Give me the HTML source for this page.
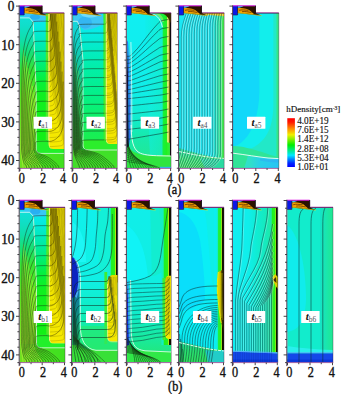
<!DOCTYPE html>
<html><head><meta charset="utf-8"><style>
html,body{margin:0;padding:0;background:#fff;width:342px;height:394px;overflow:hidden}
svg{display:block}
text{font-family:"Liberation Serif",serif}
.tk{font-size:13.6px;fill:#111;stroke:#111;stroke-width:0.35}
.cb{font-size:10.3px;fill:#111;stroke:#111;stroke-width:0.15}
.ct{font-size:9px;fill:#111;stroke:#111;stroke-width:0.15}
.lt{font-size:11px;font-weight:bold;font-style:italic;fill:#111}
.ls{font-size:7.4px;fill:#505058}
</style></head><body>
<svg width="342" height="394" viewBox="0 0 342 394">
<defs><clipPath id="ca1"><path d="M19.6,5.7 H42.1 V13 H64.2 V168.1 H19.6 Z"/></clipPath><linearGradient id="g1a1L" x1="0" y1="13.0" x2="0" y2="150.0" gradientUnits="userSpaceOnUse"><stop offset="0" stop-color="#12e0dc"/><stop offset="0.1" stop-color="#10dec8"/><stop offset="0.2" stop-color="#10dea8"/><stop offset="0.3" stop-color="#18e070"/><stop offset="0.42" stop-color="#38e432"/><stop offset="0.6" stop-color="#58e420"/><stop offset="0.8" stop-color="#68e420"/><stop offset="1" stop-color="#70e020"/></linearGradient><linearGradient id="g1a1M" x1="0" y1="13.0" x2="0" y2="150.0" gradientUnits="userSpaceOnUse"><stop offset="0" stop-color="#10eaf6"/><stop offset="0.1" stop-color="#06eae2"/><stop offset="0.22" stop-color="#00eab8"/><stop offset="0.35" stop-color="#00ee80"/><stop offset="0.48" stop-color="#04f040"/><stop offset="0.6" stop-color="#10f020"/><stop offset="1" stop-color="#14f014"/></linearGradient><linearGradient id="g1a1Y" x1="0" y1="13.0" x2="0" y2="150.0" gradientUnits="userSpaceOnUse"><stop offset="0" stop-color="#e4d400"/><stop offset="0.3" stop-color="#e8dc00"/><stop offset="0.6" stop-color="#f0e400"/><stop offset="1" stop-color="#f6ea00"/></linearGradient><linearGradient id="g1a1B" x1="19.6" y1="0" x2="64.0" y2="0" gradientUnits="userSpaceOnUse"><stop offset="0" stop-color="#70e020"/><stop offset="0.5" stop-color="#48e020"/><stop offset="1" stop-color="#40e020"/></linearGradient><clipPath id="ca2"><path d="M72.5,5.7 H95 V13 H117.3 V168.1 H72.5 Z"/></clipPath><linearGradient id="a2L" x1="0" y1="13" x2="0" y2="150" gradientUnits="userSpaceOnUse"><stop offset="0" stop-color="#18d8e4"/><stop offset="0.2" stop-color="#10d0c8"/><stop offset="0.4" stop-color="#10c8a0"/><stop offset="0.6" stop-color="#18c470"/><stop offset="0.8" stop-color="#20c050"/><stop offset="1" stop-color="#30c840"/></linearGradient><linearGradient id="a2M" x1="0" y1="13" x2="0" y2="150" gradientUnits="userSpaceOnUse"><stop offset="0" stop-color="#18e4f0"/><stop offset="0.12" stop-color="#08eae8"/><stop offset="0.25" stop-color="#04ecc8"/><stop offset="0.4" stop-color="#02eea8"/><stop offset="0.6" stop-color="#04f088"/><stop offset="0.8" stop-color="#10f060"/><stop offset="1" stop-color="#20ee48"/></linearGradient><linearGradient id="a2Y" x1="0" y1="13" x2="0" y2="145" gradientUnits="userSpaceOnUse"><stop offset="0" stop-color="#d0c000"/><stop offset="0.25" stop-color="#dcd000"/><stop offset="0.55" stop-color="#ece000"/><stop offset="1" stop-color="#f4e800"/></linearGradient><clipPath id="ca3"><path d="M126.7,5.7 H149.2 V13 H171.1 V168.1 H126.7 Z"/></clipPath><linearGradient id="a3V" x1="0" y1="13" x2="0" y2="156" gradientUnits="userSpaceOnUse"><stop offset="0" stop-color="#10eef2"/><stop offset="0.55" stop-color="#10eee8"/><stop offset="0.72" stop-color="#12ecd0"/><stop offset="0.85" stop-color="#16eab0"/><stop offset="1" stop-color="#20e898"/></linearGradient><linearGradient id="a3H" x1="145" y1="0" x2="163" y2="0" gradientUnits="userSpaceOnUse"><stop offset="0" stop-color="#10eee8"/><stop offset="1" stop-color="#14ecc0"/></linearGradient><linearGradient id="a3R" x1="162.7" y1="0" x2="171.1" y2="0" gradientUnits="userSpaceOnUse"><stop offset="0" stop-color="#18f040"/><stop offset="0.45" stop-color="#20f020"/><stop offset="0.52" stop-color="#c0f040"/><stop offset="0.62" stop-color="#f0f0a0"/><stop offset="0.75" stop-color="#c8b830"/><stop offset="0.84" stop-color="#403400"/><stop offset="0.88" stop-color="#080808"/><stop offset="1" stop-color="#080808"/></linearGradient><linearGradient id="a3R2" x1="162.7" y1="0" x2="171.1" y2="0" gradientUnits="userSpaceOnUse"><stop offset="0" stop-color="#18f040"/><stop offset="0.5" stop-color="#20f020"/><stop offset="0.62" stop-color="#30f030"/><stop offset="0.88" stop-color="#30e040"/><stop offset="0.9" stop-color="#080808"/><stop offset="1" stop-color="#080808"/></linearGradient><clipPath id="ca4"><path d="M179,5.7 H201.5 V13 H224.2 V168.1 H179 Z"/></clipPath><linearGradient id="a4R" x1="211" y1="0" x2="224.2" y2="0" gradientUnits="userSpaceOnUse"><stop offset="0" stop-color="#1ae8f6"/><stop offset="0.45" stop-color="#20e8c0"/><stop offset="0.75" stop-color="#30ea80"/><stop offset="0.9" stop-color="#40e850"/><stop offset="1" stop-color="#50e040"/></linearGradient><linearGradient id="a4B" x1="0" y1="150" x2="0" y2="168" gradientUnits="userSpaceOnUse"><stop offset="0" stop-color="#20dca0"/><stop offset="0.5" stop-color="#30e070"/><stop offset="1" stop-color="#38e058"/></linearGradient><clipPath id="ca5"><path d="M233,5.7 H255.5 V13 H278.8 V168.1 H233 Z"/></clipPath><linearGradient id="a5R" x1="275.5" y1="0" x2="278.8" y2="0" gradientUnits="userSpaceOnUse"><stop offset="0" stop-color="#22e8c8"/><stop offset="0.5" stop-color="#30e890"/><stop offset="1" stop-color="#40e060"/></linearGradient><linearGradient id="a5BR" x1="250" y1="0" x2="278.8" y2="0" gradientUnits="userSpaceOnUse"><stop offset="0" stop-color="#30e0c8"/><stop offset="0.35" stop-color="#28d0e8"/><stop offset="1" stop-color="#28c4f4"/></linearGradient><clipPath id="cb1"><path d="M19.6,200.1 H42.1 V207.4 H65 V362.3 H19.6 Z"/></clipPath><linearGradient id="g1b1L" x1="0" y1="207.4" x2="0" y2="344.4" gradientUnits="userSpaceOnUse"><stop offset="0" stop-color="#12e0dc"/><stop offset="0.1" stop-color="#10dec8"/><stop offset="0.2" stop-color="#10dea8"/><stop offset="0.3" stop-color="#18e070"/><stop offset="0.42" stop-color="#38e432"/><stop offset="0.6" stop-color="#58e420"/><stop offset="0.8" stop-color="#68e420"/><stop offset="1" stop-color="#70e020"/></linearGradient><linearGradient id="g1b1M" x1="0" y1="207.4" x2="0" y2="344.4" gradientUnits="userSpaceOnUse"><stop offset="0" stop-color="#10eaf6"/><stop offset="0.1" stop-color="#06eae2"/><stop offset="0.22" stop-color="#00eab8"/><stop offset="0.35" stop-color="#00ee80"/><stop offset="0.48" stop-color="#04f040"/><stop offset="0.6" stop-color="#10f020"/><stop offset="1" stop-color="#14f014"/></linearGradient><linearGradient id="g1b1Y" x1="0" y1="207.4" x2="0" y2="344.4" gradientUnits="userSpaceOnUse"><stop offset="0" stop-color="#e4d400"/><stop offset="0.3" stop-color="#e8dc00"/><stop offset="0.6" stop-color="#f0e400"/><stop offset="1" stop-color="#f6ea00"/></linearGradient><linearGradient id="g1b1B" x1="19.6" y1="0" x2="64.79641255605381" y2="0" gradientUnits="userSpaceOnUse"><stop offset="0" stop-color="#70e020"/><stop offset="0.5" stop-color="#48e020"/><stop offset="1" stop-color="#40e020"/></linearGradient><clipPath id="cb2"><path d="M72,200.1 H94.5 V207.4 H117.8 V362.3 H72 Z"/></clipPath><linearGradient id="b2V" x1="0" y1="207" x2="0" y2="350" gradientUnits="userSpaceOnUse"><stop offset="0" stop-color="#10f0ec"/><stop offset="0.5" stop-color="#10f0e4"/><stop offset="0.65" stop-color="#10eed0"/><stop offset="0.8" stop-color="#10ecb0"/><stop offset="0.9" stop-color="#18ec90"/><stop offset="1" stop-color="#20ea70"/></linearGradient><linearGradient id="b2R" x1="110" y1="0" x2="117.8" y2="0" gradientUnits="userSpaceOnUse"><stop offset="0" stop-color="#16f0d0"/><stop offset="0.12" stop-color="#20f080"/><stop offset="0.2" stop-color="#20f020"/><stop offset="0.58" stop-color="#28f020"/><stop offset="0.72" stop-color="#c0e810"/><stop offset="0.78" stop-color="#101000"/><stop offset="1" stop-color="#100c00"/></linearGradient><linearGradient id="b2Y" x1="0" y1="275" x2="0" y2="342" gradientUnits="userSpaceOnUse"><stop offset="0" stop-color="#e4d800"/><stop offset="1" stop-color="#f4e800"/></linearGradient><linearGradient id="b2L" x1="0" y1="258" x2="0" y2="348" gradientUnits="userSpaceOnUse"><stop offset="0" stop-color="#1040c8"/><stop offset="0.3" stop-color="#1060b8"/><stop offset="0.45" stop-color="#10809a"/><stop offset="0.7" stop-color="#109078"/><stop offset="1" stop-color="#20a850"/></linearGradient><clipPath id="cb3"><path d="M126.8,200.1 H149.3 V207.4 H171.3 V362.3 H126.8 Z"/></clipPath><linearGradient id="b3V" x1="0" y1="207" x2="0" y2="352" gradientUnits="userSpaceOnUse"><stop offset="0" stop-color="#10eeea"/><stop offset="0.55" stop-color="#10eee0"/><stop offset="0.75" stop-color="#10ecc8"/><stop offset="0.9" stop-color="#18eaa0"/><stop offset="1" stop-color="#20e880"/></linearGradient><linearGradient id="b3R" x1="161.5" y1="0" x2="171.3" y2="0" gradientUnits="userSpaceOnUse"><stop offset="0" stop-color="#14ecc8"/><stop offset="0.19" stop-color="#14eec0"/><stop offset="0.24" stop-color="#20f020"/><stop offset="0.62" stop-color="#28f020"/><stop offset="0.73" stop-color="#c0e810"/><stop offset="0.78" stop-color="#101000"/><stop offset="1" stop-color="#100c00"/></linearGradient><linearGradient id="b3Y" x1="0" y1="276" x2="0" y2="340" gradientUnits="userSpaceOnUse"><stop offset="0" stop-color="#e8dc00"/><stop offset="1" stop-color="#f4e800"/></linearGradient><clipPath id="cb4"><path d="M179,200.1 H201.5 V207.4 H224 V362.3 H179 Z"/></clipPath><linearGradient id="b4R" x1="214.5" y1="0" x2="224" y2="0" gradientUnits="userSpaceOnUse"><stop offset="0" stop-color="#0aeef6"/><stop offset="0.3" stop-color="#10eee0"/><stop offset="0.4" stop-color="#20f040"/><stop offset="0.66" stop-color="#28f020"/><stop offset="0.76" stop-color="#b0e010"/><stop offset="0.83" stop-color="#101000"/><stop offset="1" stop-color="#100c00"/></linearGradient><linearGradient id="b4W" x1="217.2" y1="0" x2="224" y2="0" gradientUnits="userSpaceOnUse"><stop offset="0" stop-color="#f0e400"/><stop offset="0.45" stop-color="#c8b800"/><stop offset="0.7" stop-color="#3a3000"/><stop offset="1" stop-color="#1a1200"/></linearGradient><linearGradient id="b4B" x1="0" y1="340" x2="0" y2="362" gradientUnits="userSpaceOnUse"><stop offset="0" stop-color="#20d8a0"/><stop offset="0.5" stop-color="#28e070"/><stop offset="1" stop-color="#30e060"/></linearGradient><clipPath id="cb5"><path d="M232.8,200.1 H255.3 V207.4 H277.8 V362.3 H232.8 Z"/></clipPath><linearGradient id="b5H" x1="232.8" y1="0" x2="272" y2="0" gradientUnits="userSpaceOnUse"><stop offset="0" stop-color="#10eef2"/><stop offset="0.4" stop-color="#10eeea"/><stop offset="0.6" stop-color="#10ecd4"/><stop offset="0.85" stop-color="#16eabc"/><stop offset="1" stop-color="#20e8a0"/></linearGradient><linearGradient id="b5R" x1="271" y1="0" x2="277.8" y2="0" gradientUnits="userSpaceOnUse"><stop offset="0" stop-color="#20e8b0"/><stop offset="0.12" stop-color="#20f060"/><stop offset="0.2" stop-color="#20f020"/><stop offset="0.58" stop-color="#28f020"/><stop offset="0.72" stop-color="#c0e810"/><stop offset="0.8" stop-color="#101000"/><stop offset="1" stop-color="#100c00"/></linearGradient><clipPath id="cb6"><path d="M287.2,200.1 H309.7 V207.4 H333 V362.3 H287.2 Z"/></clipPath><linearGradient id="b6R" x1="320" y1="0" x2="333" y2="0" gradientUnits="userSpaceOnUse"><stop offset="0" stop-color="#14e4c8"/><stop offset="1" stop-color="#20e890"/></linearGradient><linearGradient id="cbar" x1="0" y1="0" x2="0" y2="1"><stop offset="0" stop-color="#ff0000"/><stop offset="0.08" stop-color="#ff1800"/><stop offset="0.22" stop-color="#ff9000"/><stop offset="0.34" stop-color="#f0f000"/><stop offset="0.55" stop-color="#00ee00"/><stop offset="0.76" stop-color="#00e8ff"/><stop offset="0.92" stop-color="#0028ff"/><stop offset="1" stop-color="#0000ff"/></linearGradient></defs>
<g clip-path="url(#ca1)">
<rect x="19.6" y="5.7" width="44.6" height="162.4" fill="#3ad828" />
<path d="M19.6,13 H33.2 L36.5,90 V150 H19.6 Z" fill="url(#g1a1L)"/>
<path d="M33.2,13 H47 V150 H36.5 V90 Z" fill="url(#g1a1M)"/>
<path d="M22,13 H47 V21 C42,22.5 36,22 33,21.8 L29.5,18 H22 Z" fill="#38c8f6"/>
<ellipse cx="35" cy="17" rx="5" ry="2.8" fill="#28b0f2"/>
<path d="M19.6,13 H24 V18 H19.6 Z" fill="#18e0ee"/>
<rect x="45.8" y="13" width="2.6" height="137" fill="#50e828" />
<path d="M48.4,13 H65.2 V149 H53 Q48.4,149 48.4,144 Z" fill="url(#g1a1Y)"/>
<path d="M49.76,14 C49.83,14.85 50.17,17.44 50.18,19.12 C50.19,20.79 49.92,22.37 49.81,24.05 C49.7,25.74 49.5,27.53 49.52,29.23 C49.53,30.93 49.93,32.48 49.92,34.25 C49.9,36.02 49.52,38.14 49.43,39.84 C49.35,41.53 49.34,42.74 49.43,44.44 C49.52,46.15 49.98,48.14 49.97,50.06 C49.97,51.99 49.76,54.34 49.4,56 C49.04,57.66 47.93,59.13 47.8,60 C47.67,60.87 48.47,61 48.6,61.2" stroke="#5a4a00" stroke-width="0.4" fill="none" opacity="0.55"/>
<path d="M50.4,14 C50.35,14.99 50.23,18.07 50.11,19.93 C49.98,21.79 49.68,23.62 49.66,25.16 C49.64,26.7 49.99,27.83 49.99,29.19 C50,30.55 49.76,31.88 49.69,33.31 C49.62,34.74 49.51,36.23 49.55,37.79 C49.58,39.36 49.84,40.95 49.92,42.72 C49.99,44.49 49.98,46.58 49.99,48.41 C50,50.23 50.04,51.67 49.97,53.69 C49.9,55.7 49.9,58.7 49.57,60.5 C49.24,62.3 48.13,63.63 47.97,64.5 C47.81,65.37 48.49,65.5 48.6,65.7" stroke="#5a4a00" stroke-width="0.4" fill="none" opacity="0.55"/>
<path d="M50.24,14 C50.32,14.76 50.67,16.8 50.73,18.56 C50.78,20.31 50.69,22.65 50.58,24.55 C50.48,26.45 50.19,28.32 50.11,29.96 C50.03,31.61 50.02,32.99 50.09,34.42 C50.16,35.86 50.43,37.07 50.52,38.56 C50.6,40.05 50.56,41.77 50.59,43.36 C50.62,44.96 50.82,46.39 50.69,48.14 C50.56,49.88 49.84,52.15 49.83,53.83 C49.82,55.52 50.64,56.39 50.65,58.25 C50.66,60.11 50.27,63.21 49.88,65 C49.48,66.79 48.49,68.13 48.28,69 C48.07,69.87 48.55,70 48.6,70.2" stroke="#5a4a00" stroke-width="0.4" fill="none" opacity="0.55"/>
<path d="M51.11,14 C50.97,14.8 50.32,17.12 50.29,18.79 C50.26,20.47 50.93,22.42 50.93,24.05 C50.93,25.69 50.28,27.06 50.31,28.59 C50.33,30.13 51.09,31.56 51.1,33.26 C51.1,34.96 50.46,37.11 50.33,38.77 C50.21,40.44 50.22,41.83 50.32,43.27 C50.42,44.7 50.88,45.97 50.95,47.39 C51.01,48.8 50.82,50.2 50.73,51.74 C50.64,53.28 50.46,54.91 50.4,56.64 C50.34,58.36 50.37,59.96 50.35,62.1 C50.33,64.24 50.56,67.6 50.28,69.5 C50,71.4 48.96,72.63 48.68,73.5 C48.4,74.37 48.61,74.5 48.6,74.7" stroke="#5a4a00" stroke-width="0.4" fill="none" opacity="0.55"/>
<path d="M50.81,14 C50.82,14.81 50.77,17.28 50.89,18.84 C51.02,20.41 51.56,21.69 51.58,23.38 C51.59,25.07 51.09,27.09 50.98,28.99 C50.86,30.88 50.81,33 50.89,34.76 C50.97,36.52 51.49,37.87 51.47,39.55 C51.45,41.22 50.89,42.95 50.79,44.83 C50.7,46.71 50.79,49.06 50.89,50.81 C51,52.56 51.39,53.8 51.4,55.33 C51.41,56.85 51.07,58.52 50.97,59.98 C50.87,61.45 50.79,62.58 50.78,64.13 C50.78,65.68 50.93,67.65 50.92,69.3 C50.92,70.94 51.05,72.55 50.75,74 C50.46,75.45 49.51,77.13 49.15,78 C48.79,78.87 48.69,79 48.6,79.2" stroke="#5a4a00" stroke-width="0.4" fill="none" opacity="0.55"/>
<path d="M51.57,14 C51.66,14.82 52.07,17.26 52.1,18.91 C52.13,20.55 51.87,22.09 51.76,23.87 C51.64,25.66 51.35,27.93 51.4,29.61 C51.45,31.28 52.05,32.26 52.06,33.92 C52.07,35.57 51.49,37.88 51.46,39.55 C51.44,41.22 51.91,42.22 51.91,43.93 C51.9,45.64 51.4,47.85 51.42,49.81 C51.44,51.77 52,53.86 52.03,55.71 C52.07,57.56 51.75,59.35 51.62,60.92 C51.49,62.49 51.3,63.44 51.27,65.13 C51.25,66.82 51.45,68.82 51.45,71.05 C51.46,73.28 51.58,76.59 51.29,78.5 C51,80.41 50.14,81.63 49.69,82.5 C49.24,83.37 48.78,83.5 48.6,83.7" stroke="#5a4a00" stroke-width="0.4" fill="none" opacity="0.55"/>
<path d="M52.07,14 C52.12,14.94 52.38,17.94 52.37,19.65 C52.36,21.35 52.07,22.56 51.99,24.23 C51.91,25.91 51.84,28.03 51.9,29.68 C51.95,31.32 52.26,32.44 52.34,34.13 C52.42,35.83 52.33,38.13 52.39,39.84 C52.44,41.55 52.75,42.9 52.66,44.4 C52.57,45.89 51.92,47.31 51.85,48.81 C51.78,50.3 52.21,51.9 52.24,53.34 C52.26,54.79 51.97,55.99 51.99,57.46 C52.01,58.94 52.32,60.7 52.35,62.2 C52.38,63.7 52.1,64.79 52.16,66.47 C52.22,68.14 52.67,70.4 52.72,72.25 C52.77,74.1 52.6,75.77 52.46,77.56 C52.32,79.35 52.25,81.43 51.88,83 C51.52,84.57 50.83,86.13 50.28,87 C49.74,87.87 48.88,88 48.6,88.2" stroke="#5a4a00" stroke-width="0.4" fill="none" opacity="0.55"/>
<path d="M52.61,14 C52.59,14.68 52.41,16.42 52.5,18.07 C52.58,19.72 53.11,21.93 53.11,23.89 C53.11,25.85 52.53,27.95 52.5,29.82 C52.47,31.68 52.87,33.3 52.91,35.09 C52.96,36.88 52.83,38.64 52.77,40.55 C52.71,42.46 52.49,44.7 52.55,46.55 C52.61,48.4 53.04,49.82 53.14,51.64 C53.24,53.46 53.14,55.57 53.14,57.44 C53.15,59.31 53.25,60.98 53.19,62.85 C53.14,64.72 52.78,66.81 52.8,68.68 C52.81,70.54 53.28,72.2 53.29,74.05 C53.3,75.9 52.98,77.55 52.86,79.79 C52.73,82.03 52.85,85.55 52.53,87.5 C52.21,89.45 51.59,90.63 50.93,91.5 C50.28,92.37 48.99,92.5 48.6,92.7" stroke="#5a4a00" stroke-width="0.4" fill="none" opacity="0.55"/>
<path d="M53.95,14 C53.92,14.86 53.78,17.49 53.74,19.15 C53.7,20.8 53.78,22.25 53.7,23.91 C53.62,25.57 53.19,27.38 53.25,29.13 C53.31,30.88 53.97,32.57 54.07,34.41 C54.17,36.25 53.87,38.41 53.83,40.17 C53.79,41.92 53.88,43.29 53.84,44.94 C53.79,46.6 53.67,48.3 53.57,50.11 C53.47,51.91 53.31,53.92 53.25,55.78 C53.19,57.64 53.14,59.5 53.2,61.28 C53.26,63.07 53.51,64.87 53.61,66.48 C53.71,68.1 53.78,69.37 53.8,70.95 C53.82,72.52 53.79,74.13 53.73,75.94 C53.66,77.75 53.45,80.14 53.41,81.78 C53.36,83.42 53.48,84.1 53.45,85.8 C53.42,87.51 53.53,90.3 53.23,92 C52.92,93.7 52.4,95.13 51.63,96 C50.85,96.87 49.1,97 48.6,97.2" stroke="#5a4a00" stroke-width="0.4" fill="none" opacity="0.55"/>
<path d="M54.1,14 C54.2,14.72 54.69,16.73 54.73,18.34 C54.77,19.95 54.4,21.81 54.31,23.66 C54.23,25.51 54.24,27.59 54.21,29.44 C54.17,31.3 54.02,33.08 54.09,34.77 C54.16,36.47 54.54,37.85 54.64,39.64 C54.74,41.42 54.74,43.7 54.71,45.46 C54.67,47.23 54.55,48.67 54.44,50.23 C54.33,51.8 54,53.26 54.04,54.87 C54.07,56.47 54.58,58.08 54.67,59.86 C54.75,61.64 54.64,63.62 54.55,65.56 C54.47,67.49 54.2,69.75 54.16,71.46 C54.12,73.16 54.33,74.31 54.32,75.8 C54.31,77.28 54.08,78.78 54.11,80.35 C54.13,81.91 54.46,83.54 54.48,85.17 C54.49,86.81 54.28,88.27 54.2,90.16 C54.11,92.05 54.27,94.78 53.96,96.5 C53.66,98.22 53.26,99.63 52.36,100.5 C51.47,101.37 49.23,101.5 48.6,101.7" stroke="#5a4a00" stroke-width="0.4" fill="none" opacity="0.55"/>
<path d="M55.58,14 C55.44,14.82 54.78,17.41 54.76,18.9 C54.75,20.4 55.39,21.61 55.48,22.97 C55.58,24.33 55.42,25.51 55.33,27.05 C55.25,28.59 55.08,30.4 54.97,32.19 C54.87,33.98 54.69,36.13 54.71,37.78 C54.73,39.42 54.98,40.66 55.1,42.05 C55.23,43.43 55.49,44.68 55.44,46.1 C55.4,47.52 54.85,49.14 54.82,50.57 C54.79,52 55.19,53.17 55.26,54.67 C55.34,56.16 55.24,57.86 55.26,59.56 C55.29,61.26 55.41,63 55.42,64.87 C55.43,66.74 55.36,69.07 55.31,70.78 C55.26,72.5 55.22,73.72 55.12,75.18 C55.02,76.64 54.67,77.99 54.71,79.54 C54.74,81.09 55.3,82.94 55.34,84.49 C55.38,86.04 54.94,87.34 54.94,88.84 C54.94,90.35 55.36,91.51 55.32,93.54 C55.29,95.56 55.11,99.09 54.75,101 C54.38,102.91 54.17,104.13 53.15,105 C52.12,105.87 49.36,106 48.6,106.2" stroke="#5a4a00" stroke-width="0.4" fill="none" opacity="0.55"/>
<path d="M56.07,14 C56.04,14.92 55.83,17.66 55.87,19.51 C55.92,21.36 56.25,23.47 56.33,25.1 C56.41,26.72 56.47,27.67 56.36,29.27 C56.24,30.87 55.68,32.99 55.63,34.72 C55.59,36.44 56.04,37.83 56.08,39.62 C56.12,41.41 55.82,43.62 55.86,45.44 C55.89,47.27 56.22,48.79 56.31,50.58 C56.39,52.37 56.4,54.42 56.37,56.17 C56.33,57.93 56.14,59.54 56.1,61.1 C56.07,62.66 56.17,63.84 56.17,65.51 C56.17,67.19 56.17,69.3 56.09,71.15 C56.02,72.99 55.66,74.71 55.71,76.58 C55.76,78.46 56.35,80.42 56.4,82.38 C56.45,84.34 56.1,86.41 56,88.34 C55.9,90.26 55.76,92.02 55.81,93.92 C55.85,95.82 56.33,97.81 56.29,99.74 C56.25,101.67 55.95,103.87 55.57,105.5 C55.18,107.13 55.13,108.63 53.97,109.5 C52.81,110.37 49.49,110.5 48.6,110.7" stroke="#5a4a00" stroke-width="0.4" fill="none" opacity="0.55"/>
<path d="M56.45,14 C56.52,14.81 56.81,17.15 56.87,18.88 C56.93,20.62 56.78,22.82 56.82,24.42 C56.85,26.02 57.06,27.11 57.11,28.48 C57.15,29.84 57.17,31.19 57.1,32.6 C57.03,34.02 56.78,35.3 56.68,36.95 C56.58,38.6 56.48,40.88 56.5,42.52 C56.53,44.17 56.74,45.2 56.84,46.82 C56.95,48.45 57.07,50.46 57.13,52.27 C57.2,54.07 57.21,55.92 57.23,57.65 C57.24,59.38 57.34,61.11 57.23,62.63 C57.12,64.16 56.68,65.27 56.58,66.81 C56.48,68.34 56.58,70.11 56.64,71.86 C56.7,73.61 56.87,75.57 56.95,77.32 C57.03,79.07 57.19,80.67 57.14,82.36 C57.09,84.06 56.66,85.83 56.66,87.48 C56.66,89.13 57.15,90.48 57.14,92.24 C57.12,94 56.55,96.13 56.56,98.05 C56.58,99.96 57.27,101.75 57.25,103.75 C57.23,105.74 56.83,108.29 56.43,110 C56.02,111.71 56.13,113.13 54.83,114 C53.52,114.87 49.64,115 48.6,115.2" stroke="#5a4a00" stroke-width="0.4" fill="none" opacity="0.55"/>
<path d="M57.79,14 C57.78,14.73 57.75,16.83 57.76,18.4 C57.76,19.97 57.75,21.9 57.82,23.41 C57.88,24.92 58.18,25.95 58.15,27.46 C58.12,28.98 57.69,30.72 57.63,32.5 C57.57,34.27 57.74,36.33 57.78,38.1 C57.82,39.86 57.9,41.56 57.9,43.08 C57.89,44.6 57.72,45.72 57.76,47.21 C57.8,48.71 58.18,50.26 58.13,52.04 C58.09,53.82 57.64,56.09 57.52,57.89 C57.39,59.69 57.31,61.2 57.39,62.83 C57.47,64.47 57.96,65.92 58.01,67.7 C58.06,69.48 57.8,71.76 57.7,73.5 C57.61,75.24 57.38,76.49 57.45,78.14 C57.51,79.78 58.02,81.79 58.11,83.37 C58.19,84.95 58.08,86.25 57.97,87.63 C57.87,89.01 57.46,90.26 57.45,91.68 C57.43,93.09 57.87,94.61 57.89,96.13 C57.92,97.65 57.68,99.13 57.59,100.77 C57.51,102.42 57.41,103.73 57.37,106.01 C57.32,108.3 57.6,112.42 57.32,114.5 C57.05,116.58 57.18,117.63 55.72,118.5 C54.27,119.37 49.79,119.5 48.6,119.7" stroke="#5a4a00" stroke-width="0.4" fill="none" opacity="0.55"/>
<path d="M58.32,14 C58.33,14.84 58.37,17.45 58.43,19.02 C58.49,20.59 58.66,21.87 58.68,23.42 C58.7,24.96 58.54,26.67 58.54,28.29 C58.54,29.91 58.71,31.59 58.68,33.12 C58.66,34.64 58.37,35.84 58.39,37.44 C58.41,39.03 58.68,40.98 58.78,42.7 C58.88,44.42 58.94,46.04 58.97,47.76 C59,49.47 58.99,51.37 58.98,52.98 C58.96,54.6 58.86,55.77 58.87,57.45 C58.88,59.13 59.08,61.36 59.02,63.07 C58.95,64.78 58.59,65.95 58.49,67.7 C58.39,69.45 58.32,71.57 58.4,73.55 C58.49,75.52 59,77.83 59,79.54 C59.01,81.25 58.51,82.19 58.42,83.81 C58.33,85.43 58.35,87.65 58.44,89.26 C58.53,90.87 58.87,91.95 58.95,93.46 C59.03,94.96 58.98,96.78 58.92,98.3 C58.85,99.82 58.68,100.95 58.57,102.55 C58.45,104.16 58.18,106.29 58.22,107.92 C58.26,109.55 58.81,110.48 58.82,112.32 C58.82,114.17 58.62,117.22 58.26,119 C57.89,120.78 58.26,122.13 56.66,123 C55.05,123.87 49.94,124 48.6,124.2" stroke="#5a4a00" stroke-width="0.4" fill="none" opacity="0.55"/>
<path d="M60.04,14 C59.97,14.71 59.7,16.61 59.63,18.23 C59.56,19.86 59.67,21.93 59.62,23.75 C59.58,25.56 59.4,27.53 59.34,29.12 C59.28,30.7 59.21,31.89 59.27,33.26 C59.32,34.63 59.6,35.82 59.67,37.33 C59.74,38.85 59.74,40.81 59.68,42.36 C59.63,43.92 59.3,45.21 59.34,46.66 C59.38,48.11 59.82,49.33 59.93,51.07 C60.04,52.8 60.12,55.35 60,57.05 C59.89,58.74 59.3,59.55 59.23,61.24 C59.16,62.92 59.55,65.23 59.59,67.14 C59.63,69.04 59.46,70.92 59.46,72.67 C59.47,74.41 59.59,75.97 59.63,77.6 C59.68,79.23 59.68,80.98 59.71,82.46 C59.74,83.94 59.86,84.87 59.8,86.49 C59.74,88.11 59.33,90.41 59.33,92.18 C59.34,93.94 59.83,95.47 59.84,97.09 C59.84,98.71 59.38,100.37 59.35,101.9 C59.31,103.42 59.53,104.83 59.63,106.23 C59.74,107.62 59.95,108.65 59.97,110.26 C60,111.86 59.93,113.65 59.8,115.86 C59.68,118.07 59.58,121.56 59.22,123.5 C58.86,125.44 59.39,126.63 57.62,127.5 C55.85,128.37 50.1,128.5 48.6,128.7" stroke="#5a4a00" stroke-width="0.4" fill="none" opacity="0.55"/>
<path d="M60.74,14 C60.73,14.8 60.66,17.17 60.71,18.81 C60.76,20.45 61.1,22.05 61.05,23.82 C61,25.59 60.44,27.52 60.4,29.43 C60.37,31.33 60.76,33.35 60.84,35.25 C60.92,37.15 60.88,39.08 60.9,40.81 C60.92,42.53 60.99,43.86 60.98,45.62 C60.96,47.38 60.81,49.49 60.79,51.38 C60.77,53.26 60.85,55.19 60.86,56.91 C60.86,58.64 60.88,60.23 60.82,61.72 C60.76,63.21 60.58,64.35 60.48,65.86 C60.37,67.38 60.13,69.19 60.18,70.8 C60.22,72.41 60.71,73.85 60.74,75.51 C60.78,77.17 60.37,78.9 60.38,80.76 C60.38,82.62 60.7,84.89 60.77,86.65 C60.83,88.41 60.78,89.69 60.76,91.33 C60.74,92.96 60.6,94.81 60.65,96.47 C60.7,98.12 61.04,99.57 61.07,101.24 C61.09,102.92 60.8,104.73 60.8,106.53 C60.8,108.33 61.06,110.46 61.05,112.05 C61.04,113.65 60.83,114.51 60.72,116.1 C60.61,117.69 60.48,119.59 60.4,121.58 C60.32,123.56 60.52,126.26 60.22,128 C59.92,129.74 60.56,131.13 58.62,132 C56.68,132.87 50.27,133 48.6,133.2" stroke="#5a4a00" stroke-width="0.4" fill="none" opacity="0.55"/>
<path d="M61.24,14 C61.29,14.73 61.51,16.96 61.54,18.39 C61.57,19.82 61.4,20.92 61.42,22.59 C61.45,24.26 61.59,26.59 61.69,28.4 C61.8,30.2 62,31.72 62.07,33.41 C62.14,35.11 62.12,36.82 62.09,38.55 C62.07,40.29 61.99,42.26 61.93,43.83 C61.87,45.4 61.85,46.37 61.74,47.98 C61.62,49.59 61.3,51.6 61.24,53.5 C61.17,55.39 61.32,57.56 61.34,59.36 C61.36,61.16 61.28,62.65 61.35,64.3 C61.42,65.96 61.63,67.77 61.75,69.29 C61.87,70.81 62.06,71.92 62.05,73.41 C62.04,74.9 61.76,76.58 61.67,78.25 C61.59,79.92 61.51,81.82 61.53,83.45 C61.55,85.07 61.8,86.4 61.79,88.02 C61.78,89.63 61.51,91.38 61.45,93.14 C61.4,94.9 61.47,97 61.47,98.57 C61.46,100.15 61.44,101.25 61.42,102.6 C61.4,103.95 61.32,105.09 61.34,106.69 C61.36,108.29 61.46,110.31 61.55,112.2 C61.64,114.08 61.78,116.34 61.87,117.99 C61.96,119.64 62.19,120.43 62.09,122.09 C61.99,123.76 61.4,126.24 61.26,127.98 C61.12,129.71 61.52,131.08 61.25,132.5 C60.98,133.92 61.76,135.63 59.65,136.5 C57.54,137.37 50.44,137.5 48.6,137.7" stroke="#5a4a00" stroke-width="0.4" fill="none" opacity="0.55"/>
<path d="M62.65,14 C62.73,14.83 63.12,17.38 63.14,18.96 C63.15,20.53 62.77,21.72 62.73,23.44 C62.69,25.17 62.84,27.52 62.91,29.32 C62.98,31.12 63.16,32.49 63.14,34.25 C63.12,36.02 62.86,38.24 62.8,39.89 C62.75,41.53 62.88,42.59 62.82,44.12 C62.76,45.64 62.46,47.53 62.44,49.03 C62.43,50.53 62.7,51.74 62.73,53.13 C62.77,54.53 62.67,55.78 62.66,57.38 C62.65,58.98 62.65,61.07 62.67,62.72 C62.69,64.36 62.74,65.68 62.78,67.24 C62.83,68.8 62.9,70.43 62.96,72.08 C63.02,73.73 63.16,75.31 63.16,77.14 C63.15,78.97 63.05,81.32 62.92,83.05 C62.79,84.78 62.35,85.81 62.36,87.52 C62.37,89.23 62.93,91.47 62.97,93.31 C63,95.15 62.6,96.93 62.58,98.56 C62.57,100.19 62.84,101.49 62.88,103.1 C62.91,104.71 62.78,106.5 62.79,108.23 C62.8,109.97 62.99,111.89 62.94,113.5 C62.89,115.11 62.46,116.16 62.48,117.88 C62.51,119.6 63.11,121.88 63.08,123.84 C63.05,125.79 62.42,127.4 62.29,129.6 C62.17,131.79 62.57,135.1 62.31,137 C62.05,138.9 62.99,140.13 60.71,141 C58.42,141.87 50.62,142 48.6,142.2" stroke="#5a4a00" stroke-width="0.4" fill="none" opacity="0.55"/>
<path d="M63.59,14 C63.65,14.81 63.87,17.34 63.91,18.85 C63.95,20.36 63.92,21.66 63.84,23.06 C63.76,24.45 63.43,25.62 63.43,27.2 C63.43,28.78 63.8,30.78 63.85,32.55 C63.89,34.32 63.74,36.11 63.69,37.82 C63.63,39.52 63.48,41.16 63.54,42.77 C63.6,44.38 64.04,45.73 64.02,47.46 C64,49.19 63.41,51.48 63.42,53.14 C63.43,54.79 63.97,55.8 64.08,57.38 C64.18,58.96 64.1,61.01 64.04,62.62 C63.98,64.24 63.73,65.56 63.73,67.05 C63.74,68.54 64.04,70.02 64.08,71.57 C64.11,73.11 64.01,74.52 63.94,76.3 C63.87,78.09 63.63,80.44 63.64,82.28 C63.66,84.13 64.01,85.56 64.02,87.38 C64.04,89.2 63.83,91.46 63.73,93.22 C63.64,94.98 63.49,96.21 63.44,97.96 C63.38,99.71 63.35,102.06 63.42,103.71 C63.49,105.36 63.77,106.35 63.86,107.88 C63.95,109.4 63.94,111.25 63.97,112.85 C64,114.44 64.12,115.99 64.05,117.44 C63.98,118.9 63.65,120.02 63.54,121.6 C63.44,123.18 63.35,125.26 63.42,126.92 C63.5,128.58 63.97,129.86 64,131.53 C64.03,133.19 63.71,135.25 63.6,136.92 C63.5,138.58 63.7,140.07 63.4,141.5 C63.1,142.93 64.27,144.63 61.8,145.5 C59.33,146.37 50.8,146.5 48.6,146.7" stroke="#5a4a00" stroke-width="0.4" fill="none" opacity="0.55"/>
<path d="M48.9,14 V144 Q48.9,149.5 53,149.5 H65.2" stroke="#fcf890" stroke-width="0.9" fill="none" />
<path d="M36.5,140 H48.4 V144 Q48.4,149 53,149 H65.2 V153.4 H41 Q36.5,153.4 36.5,149 Z" fill="#22f02a"/>
<path d="M19.6,150 H36.5 Q36.5,153.4 41,153.4 H65.2 V169 H19.6 Z" fill="url(#g1a1B)"/>
<path d="M19.6,17.9 H29.5 L33.2,22 L36.2,90 V149 Q36.2,153.4 41,153.4 H65.2" stroke="#e8fff0" stroke-width="0.75" fill="none" />
<path d="M23.7,50 C22.2,100 21.2,130 20.9,148 C21.2,156 22.2,160 23.2,168.6" stroke="#e0f048" stroke-width="0.45" fill="none" />
<path d="M25.2,56 C23.7,100 22.7,130 22.4,148 C22.7,156 24.1,160 25.6,168.6" stroke="#e0f048" stroke-width="0.45" fill="none" />
<path d="M26.7,62 C25.2,100 24.2,130 23.9,148 C24.2,156 26,160 28,168.6" stroke="#e0f048" stroke-width="0.45" fill="none" />
<path d="M28.2,68 C26.7,100 25.7,130 25.4,148 C25.7,156 27.9,160 30.4,168.6" stroke="#e0f048" stroke-width="0.45" fill="none" />
<path d="M29.7,74 C28.2,100 27.2,130 26.9,148 C27.2,156 29.8,160 32.8,168.6" stroke="#e0f048" stroke-width="0.45" fill="none" />
<path d="M31.2,80 C29.7,100 28.7,130 28.4,148 C28.7,156 31.7,160 35.2,168.6" stroke="#e0f048" stroke-width="0.45" fill="none" />
<path d="M32.7,86 C31.2,100 30.2,130 29.9,148 C30.2,156 33.6,160 37.6,168.6" stroke="#e0f048" stroke-width="0.45" fill="none" />
<path d="M34.2,92 C32.7,100 31.7,130 31.4,148 C31.7,156 35.5,160 40,168.6" stroke="#e0f048" stroke-width="0.45" fill="none" />
<path d="M35.7,98 C34.2,100 33.2,130 32.9,148 C33.2,156 37.4,160 42.4,168.6" stroke="#e0f048" stroke-width="0.45" fill="none" />
<path d="M50.5,14 V17.29 C50.5,19.67 49.56,21.6 48.4,21.6 L47,21.4" stroke="#2a2400" stroke-width="0.5" fill="none" opacity="0.85"/>
<path d="M47,21.2 C44.83,21.27 36.4,21.12 34,21.6 C31.6,22.08 33.44,22.68 32.6,24.1 C31.76,25.52 29.98,28.1 28.97,30.1 C27.96,32.1 27.22,34.1 26.54,36.1 C25.87,38.1 25.37,40.1 24.91,42.1 C24.46,44.1 24.12,46.1 23.82,48.1 C23.52,50.1 23.29,52.1 23.09,54.1 C22.88,56.1 22.73,58.1 22.6,60.1 C22.46,62.1 22.36,64.1 22.27,66.1 C22.18,68.1 22.11,70.1 22.05,72.1 C21.99,74.1 21.94,76.1 21.9,78.1 C21.86,80.1 21.83,82.1 21.8,84.1 C21.77,86.1 21.75,88.1 21.74,90.1 C21.72,92.1 21.7,94.1 21.69,96.1 C21.68,98.1 21.67,100.1 21.66,102.1 C21.65,104.1 21.65,106.1 21.64,108.1 C21.64,110.1 21.63,112.1 21.63,114.1 C21.62,116.1 21.62,118.1 21.62,120.1 C21.62,122.1 21.61,124.1 21.61,126.1 C21.61,128.1 21.61,130.1 21.61,132.1 C21.61,134.1 21.61,136.1 21.61,138.1 C21.6,140.1 21.6,142.1 21.6,144.1 C21.6,146.1 21.4,147.7 21.6,150.1 C21.8,152.5 22.31,156.18 22.8,158.5 C23.3,160.82 24.07,162.92 24.57,164 C25.07,165.08 25.4,164.23 25.8,165 C26.2,165.77 26.8,168 27,168.6" stroke="#182810" stroke-width="0.45" fill="none" />
<path d="M51.55,14 V26.14 C51.55,29.15 50.14,31.6 48.4,31.6 L47,31.4" stroke="#2a2400" stroke-width="0.5" fill="none" opacity="0.85"/>
<path d="M47,31.2 C44.9,31.27 36.75,31.12 34.42,31.6 C32.09,32.08 33.83,32.68 33.02,34.1 C32.22,35.52 30.56,38.1 29.61,40.1 C28.66,42.1 27.96,44.1 27.33,46.1 C26.69,48.1 26.22,50.1 25.8,52.1 C25.37,54.1 25.05,56.1 24.77,58.1 C24.48,60.1 24.27,62.1 24.08,64.1 C23.89,66.1 23.75,68.1 23.62,70.1 C23.49,72.1 23.4,74.1 23.31,76.1 C23.22,78.1 23.16,80.1 23.1,82.1 C23.04,84.1 23,86.1 22.96,88.1 C22.92,90.1 22.9,92.1 22.87,94.1 C22.84,96.1 22.82,98.1 22.81,100.1 C22.79,102.1 22.78,104.1 22.77,106.1 C22.75,108.1 22.74,110.1 22.74,112.1 C22.73,114.1 22.72,116.1 22.72,118.1 C22.71,120.1 22.71,122.1 22.71,124.1 C22.7,126.1 22.7,128.1 22.7,130.1 C22.69,132.1 22.69,134.1 22.69,136.1 C22.69,138.1 22.69,140.1 22.69,142.1 C22.69,144.1 22.49,145.46 22.69,148.1 C22.88,150.74 23.25,155.39 23.89,157.95 C24.52,160.51 25.76,162.27 26.52,163.45 C27.28,164.62 27.93,164.14 28.45,165 C28.97,165.86 29.45,168 29.65,168.6" stroke="#182810" stroke-width="0.45" fill="none" />
<path d="M52.6,14 V34.98 C52.6,38.63 50.72,41.6 48.4,41.6 L47,41.4" stroke="#2a2400" stroke-width="0.5" fill="none" opacity="0.85"/>
<path d="M47,41.2 C44.98,41.27 37.12,41.12 34.86,41.6 C32.61,42.08 34.23,42.68 33.46,44.1 C32.7,45.52 31.16,48.1 30.27,50.1 C29.37,52.1 28.72,54.1 28.12,56.1 C27.52,58.1 27.08,60.1 26.68,62.1 C26.28,64.1 25.99,66.1 25.72,68.1 C25.45,70.1 25.25,72.1 25.07,74.1 C24.89,76.1 24.76,78.1 24.64,80.1 C24.52,82.1 24.43,84.1 24.35,86.1 C24.27,88.1 24.21,90.1 24.16,92.1 C24.1,94.1 24.06,96.1 24.03,98.1 C23.99,100.1 23.96,102.1 23.94,104.1 C23.91,106.1 23.9,108.1 23.88,110.1 C23.86,112.1 23.85,114.1 23.84,116.1 C23.83,118.1 23.82,120.1 23.81,122.1 C23.81,124.1 23.8,126.1 23.8,128.1 C23.79,130.1 23.79,132.1 23.78,134.1 C23.78,136.1 23.78,138.1 23.78,140.1 C23.77,142.1 23.57,143.22 23.77,146.1 C23.97,148.98 24.19,154.6 24.97,157.4 C25.75,160.2 27.44,161.63 28.46,162.9 C29.48,164.17 30.46,164.05 31.1,165 C31.74,165.95 32.1,168 32.3,168.6" stroke="#182810" stroke-width="0.45" fill="none" />
<path d="M53.65,14 V43.83 C53.65,48.12 51.3,51.6 48.4,51.6 L47,51.4" stroke="#2a2400" stroke-width="0.5" fill="none" opacity="0.85"/>
<path d="M47,51.2 C45.05,51.27 37.49,51.12 35.31,51.6 C33.12,52.08 34.64,52.68 33.91,54.1 C33.17,55.52 31.75,58.1 30.92,60.1 C30.08,62.1 29.47,64.1 28.91,66.1 C28.36,68.1 27.94,70.1 27.57,72.1 C27.2,74.1 26.92,76.1 26.67,78.1 C26.42,80.1 26.23,82.1 26.07,84.1 C25.9,86.1 25.78,88.1 25.66,90.1 C25.55,92.1 25.47,94.1 25.39,96.1 C25.32,98.1 25.26,100.1 25.21,102.1 C25.16,104.1 25.12,106.1 25.09,108.1 C25.05,110.1 25.03,112.1 25.01,114.1 C24.98,116.1 24.97,118.1 24.95,120.1 C24.94,122.1 24.92,124.1 24.91,126.1 C24.9,128.1 24.9,130.1 24.89,132.1 C24.88,134.1 24.88,136.1 24.87,138.1 C24.87,140.1 24.87,142.1 24.86,144.1 C24.86,146.1 24.66,147.97 24.86,150.1 C25.05,152.22 25.13,154.81 26.06,156.85 C26.98,158.89 29.12,160.99 30.41,162.35 C31.69,163.71 32.99,163.96 33.75,165 C34.51,166.04 34.75,168 34.95,168.6" stroke="#182810" stroke-width="0.45" fill="none" />
<path d="M54.7,14 V52.67 C54.7,57.6 51.88,61.6 48.4,61.6 L47,61.4" stroke="#2a2400" stroke-width="0.5" fill="none" opacity="0.85"/>
<path d="M47,61.2 C45.12,61.27 37.86,61.12 35.75,61.6 C33.64,62.08 35.04,62.68 34.35,64.1 C33.65,65.52 32.34,68.1 31.57,70.1 C30.8,72.1 30.22,74.1 29.71,76.1 C29.19,78.1 28.81,80.1 28.46,82.1 C28.11,84.1 27.85,86.1 27.62,88.1 C27.39,90.1 27.22,92.1 27.06,94.1 C26.9,96.1 26.79,98.1 26.68,100.1 C26.58,102.1 26.5,104.1 26.43,106.1 C26.36,108.1 26.31,110.1 26.26,112.1 C26.22,114.1 26.18,116.1 26.15,118.1 C26.12,120.1 26.1,122.1 26.07,124.1 C26.05,126.1 26.04,128.1 26.02,130.1 C26.01,132.1 26,134.1 25.99,136.1 C25.98,138.1 25.97,140.1 25.97,142.1 C25.96,144.1 25.75,145.73 25.95,148.1 C26.15,150.47 26.08,154.02 27.15,156.3 C28.22,158.58 30.82,160.35 32.36,161.8 C33.9,163.25 35.53,163.87 36.4,165 C37.27,166.13 37.4,168 37.6,168.6" stroke="#182810" stroke-width="0.45" fill="none" />
<path d="M55.75,14 V61.51 C55.75,67.08 52.46,71.6 48.4,71.6 L47,71.4" stroke="#2a2400" stroke-width="0.5" fill="none" opacity="0.85"/>
<path d="M47,71.2 C45.2,71.27 38.22,71.12 36.19,71.6 C34.15,72.08 35.45,72.68 34.79,74.1 C34.13,75.52 32.94,78.1 32.22,80.1 C31.51,82.1 30.98,84.1 30.5,86.1 C30.02,88.1 29.67,90.1 29.35,92.1 C29.02,94.1 28.79,96.1 28.57,98.1 C28.36,100.1 28.2,102.1 28.05,104.1 C27.91,106.1 27.8,108.1 27.71,110.1 C27.61,112.1 27.54,114.1 27.47,116.1 C27.41,118.1 27.36,120.1 27.32,122.1 C27.27,124.1 27.24,126.1 27.21,128.1 C27.18,130.1 27.16,132.1 27.14,134.1 C27.12,136.1 27.11,138.1 27.1,140.1 C27.08,142.1 26.87,143.49 27.06,146.1 C27.26,148.71 27.06,153.22 28.26,155.75 C29.47,158.28 32.52,159.71 34.32,161.25 C36.11,162.79 38.06,163.78 39.05,165 C40.04,166.22 40.05,168 40.25,168.6" stroke="#182810" stroke-width="0.45" fill="none" />
<path d="M56.8,21.6 V70.36 C56.8,76.56 53.04,81.6 48.4,81.6 L47,81.4" stroke="#2a2400" stroke-width="0.5" fill="none" opacity="0.85"/>
<path d="M47,81.2 C45.27,81.27 38.59,81.12 36.63,81.6 C34.67,82.08 35.86,82.68 35.23,84.1 C34.6,85.52 33.53,88.1 32.87,90.1 C32.22,92.1 31.73,94.1 31.29,96.1 C30.85,98.1 30.53,100.1 30.23,102.1 C29.94,104.1 29.72,106.1 29.52,108.1 C29.33,110.1 29.18,112.1 29.05,114.1 C28.92,116.1 28.82,118.1 28.73,120.1 C28.64,122.1 28.57,124.1 28.51,126.1 C28.46,128.1 28.41,130.1 28.37,132.1 C28.33,134.1 28.3,136.1 28.28,138.1 C28.25,140.1 28.02,141.25 28.21,144.1 C28.4,146.95 28.06,152.43 29.41,155.2 C30.76,157.97 34.24,159.07 36.29,160.7 C38.34,162.33 40.6,163.68 41.7,165 C42.8,166.32 42.7,168 42.9,168.6" stroke="#182810" stroke-width="0.45" fill="none" />
<path d="M57.85,31.6 V79.2 C57.85,86.05 53.62,91.6 48.4,91.6 L47,91.4" stroke="#2a2400" stroke-width="0.5" fill="none" opacity="0.85"/>
<path d="M47,91.2 C45.33,91.27 38.9,91.12 37,91.6 C35.1,92.08 36.19,92.68 35.6,94.1 C35.01,95.52 34.07,98.1 33.48,100.1 C32.89,102.1 32.45,104.1 32.05,106.1 C31.66,108.1 31.37,110.1 31.1,112.1 C30.83,114.1 30.64,116.1 30.46,118.1 C30.28,120.1 30.15,122.1 30.03,124.1 C29.91,126.1 29.82,128.1 29.74,130.1 C29.66,132.1 29.61,134.1 29.55,136.1 C29.5,138.1 29.46,140.1 29.42,142.1 C29.39,144.1 29.15,146.01 29.34,148.1 C29.52,150.19 29.05,152.64 30.54,154.65 C32.02,156.66 35.95,158.43 38.25,160.15 C40.56,161.88 43.13,163.59 44.35,165 C45.57,166.41 45.35,168 45.55,168.6" stroke="#182810" stroke-width="0.45" fill="none" />
<path d="M58.9,41.6 V88.05 C58.9,95.53 54.2,101.6 48.4,101.6 L47,101.4" stroke="#2a2400" stroke-width="0.5" fill="none" opacity="0.85"/>
<path d="M47,101.2 C45.33,101.27 38.9,101.12 37,101.6 C35.1,102.08 36.13,102.68 35.6,104.1 C35.07,105.52 34.32,108.1 33.83,110.1 C33.34,112.1 32.98,114.1 32.65,116.1 C32.32,118.1 32.08,120.1 31.85,122.1 C31.63,124.1 31.47,126.1 31.32,128.1 C31.17,130.1 31.06,132.1 30.97,134.1 C30.87,136.1 30.79,138.1 30.73,140.1 C30.66,142.1 30.39,143.77 30.57,146.1 C30.74,148.43 30.15,151.85 31.77,154.1 C33.38,156.35 37.73,157.78 40.26,159.6 C42.8,161.42 45.68,163.5 47,165 C48.32,166.5 48,168 48.2,168.6" stroke="#182810" stroke-width="0.45" fill="none" />
<path d="M59.95,51.6 V96.89 C59.95,105.01 54.78,111.6 48.4,111.6 L47,111.4" stroke="#2a2400" stroke-width="0.5" fill="none" opacity="0.85"/>
<path d="M47,111.2 C45.33,111.27 38.9,111.12 37,111.6 C35.1,112.08 36.07,112.68 35.6,114.1 C35.13,115.52 34.58,118.1 34.19,120.1 C33.8,122.1 33.51,124.1 33.24,126.1 C32.98,128.1 32.79,130.1 32.61,132.1 C32.43,134.1 32.3,136.1 32.18,138.1 C32.07,140.1 31.75,141.52 31.9,144.1 C32.05,146.68 31.36,151.06 33.1,153.55 C34.84,156.04 39.56,157.14 42.32,159.05 C45.08,160.96 48.23,163.41 49.65,165 C51.07,166.59 50.65,168 50.85,168.6" stroke="#182810" stroke-width="0.45" fill="none" />
<path d="M61,61.6 V105.74 C61,114.49 55.36,121.6 48.4,121.6 L47,121.4" stroke="#2a2400" stroke-width="0.5" fill="none" opacity="0.85"/>
<path d="M47,121.2 C45.33,121.27 38.9,121.12 37,121.6 C35.1,122.08 36.01,122.68 35.6,124.1 C35.19,125.52 34.84,128.1 34.55,130.1 C34.25,132.1 34.03,134.1 33.84,136.1 C33.64,138.1 33.24,139.28 33.36,142.1 C33.48,144.92 32.72,150.27 34.56,153 C36.41,155.73 41.48,156.5 44.44,158.5 C47.39,160.5 50.79,163.32 52.3,165 C53.81,166.68 53.3,168 53.5,168.6" stroke="#182810" stroke-width="0.45" fill="none" />
<path d="M62.05,71.6 V114.58 C62.05,123.98 55.93,131.6 48.4,131.6 L47,131.4" stroke="#2a2400" stroke-width="0.5" fill="none" opacity="0.85"/>
<path d="M47,131.2 C45.33,131.27 38.9,131.12 37,131.6 C35.1,132.08 35.95,132.68 35.6,134.1 C35.25,135.52 35.1,138.1 34.9,140.1 C34.71,142.1 34.31,144.04 34.43,146.1 C34.55,148.16 33.64,150.47 35.63,152.45 C37.62,154.42 43.16,155.86 46.38,157.95 C49.6,160.04 53.32,163.22 54.95,165 C56.58,166.78 55.95,168 56.15,168.6" stroke="#182810" stroke-width="0.45" fill="none" />
<path d="M63.1,81.6 V123.43 C63.1,133.46 56.51,141.6 48.4,141.6 L47,141.4" stroke="#2a2400" stroke-width="0.5" fill="none" opacity="0.85"/>
<path d="M47,141.2 C45.33,141.27 38.9,141.12 37,141.6 C35.1,142.08 35.63,142.38 35.6,144.1 C35.57,145.82 34.67,149.68 36.8,151.9 C38.93,154.12 44.89,155.22 48.36,157.4 C51.83,159.58 55.86,163.13 57.6,165 C59.34,166.87 58.6,168 58.8,168.6" stroke="#182810" stroke-width="0.45" fill="none" />
</g>
<path d="M24,5.7 H42.1 V13 L48.4,15.7 L41.6,15.1 L24,13.1 Z" fill="#2a1200"/>
<path d="M24.2,8.1 C26.6,7.7 29.6,8 32.6,8.7 C34.6,9.3 36.1,10.1 37.4,11.3 C38.6,12.3 39.6,13.1 40.6,14.1 L37.6,14.1 C32.6,13.3 28.6,12.9 24.2,12.7 Z" fill="#f0a000"/>
<path d="M25.6,10.3 C28.6,9.5 31.6,10.1 35.1,10.3 M28.6,11.7 C31.6,11.1 34.6,11.9 38.1,12.5" stroke="#5a2800" stroke-width="0.7" fill="none"/>
<path d="M24,6 H30.1 C28.6,7.1 26.6,7.7 24,7.9 Z" fill="#40c4f0"/>
<path d="M24,12.9 C29.6,13.2 35.6,13.9 41.6,14.9 L48.4,15.7" stroke="#f8e010" stroke-width="0.6" fill="none"/>
<rect x="19.6" y="5.7" width="4.4" height="9.3" fill="#0c18e6" />
<line x1="24.2" y1="5.7" x2="24.2" y2="15" stroke="#101040" stroke-width="0.7"/>
<line x1="19.6" y1="15.1" x2="24.2" y2="15.1" stroke="#301030" stroke-width="0.5"/>
<rect x="19.6" y="5.3" width="22.5" height="1" fill="#e020e8" />
<path d="M42.1,5.7 V13 H64.2" stroke="#200818" stroke-width="0.9" fill="none"/>
<line x1="43.1" y1="12.8" x2="64.2" y2="12.8" stroke="#e040e0" stroke-width="0.5"/>
<line x1="19.2" y1="5.3" x2="19.2" y2="171.9" stroke="#2a1030" stroke-width="0.8"/>
<line x1="64.2" y1="13" x2="64.2" y2="168.1" stroke="#401838" stroke-width="0.5" opacity="0.7"/>
<line x1="19.2" y1="168.4" x2="64.5" y2="168.4" stroke="#9a509a" stroke-width="0.9"/>
<line x1="16" y1="6.1" x2="19.2" y2="6.1" stroke="#181818" stroke-width="0.8"/>
<line x1="17.4" y1="13.82" x2="19.2" y2="13.82" stroke="#181818" stroke-width="0.8"/>
<line x1="17.4" y1="21.54" x2="19.2" y2="21.54" stroke="#181818" stroke-width="0.8"/>
<line x1="17.4" y1="29.26" x2="19.2" y2="29.26" stroke="#181818" stroke-width="0.8"/>
<line x1="17.4" y1="36.98" x2="19.2" y2="36.98" stroke="#181818" stroke-width="0.8"/>
<line x1="16" y1="44.7" x2="19.2" y2="44.7" stroke="#181818" stroke-width="0.8"/>
<line x1="17.4" y1="52.42" x2="19.2" y2="52.42" stroke="#181818" stroke-width="0.8"/>
<line x1="17.4" y1="60.14" x2="19.2" y2="60.14" stroke="#181818" stroke-width="0.8"/>
<line x1="17.4" y1="67.86" x2="19.2" y2="67.86" stroke="#181818" stroke-width="0.8"/>
<line x1="17.4" y1="75.58" x2="19.2" y2="75.58" stroke="#181818" stroke-width="0.8"/>
<line x1="16" y1="83.3" x2="19.2" y2="83.3" stroke="#181818" stroke-width="0.8"/>
<line x1="17.4" y1="91.02" x2="19.2" y2="91.02" stroke="#181818" stroke-width="0.8"/>
<line x1="17.4" y1="98.74" x2="19.2" y2="98.74" stroke="#181818" stroke-width="0.8"/>
<line x1="17.4" y1="106.46" x2="19.2" y2="106.46" stroke="#181818" stroke-width="0.8"/>
<line x1="17.4" y1="114.18" x2="19.2" y2="114.18" stroke="#181818" stroke-width="0.8"/>
<line x1="16" y1="121.9" x2="19.2" y2="121.9" stroke="#181818" stroke-width="0.8"/>
<line x1="17.4" y1="129.62" x2="19.2" y2="129.62" stroke="#181818" stroke-width="0.8"/>
<line x1="17.4" y1="137.34" x2="19.2" y2="137.34" stroke="#181818" stroke-width="0.8"/>
<line x1="17.4" y1="145.06" x2="19.2" y2="145.06" stroke="#181818" stroke-width="0.8"/>
<line x1="17.4" y1="152.78" x2="19.2" y2="152.78" stroke="#181818" stroke-width="0.8"/>
<line x1="16" y1="160.5" x2="19.2" y2="160.5" stroke="#181818" stroke-width="0.8"/>
<line x1="17.4" y1="168.22" x2="19.2" y2="168.22" stroke="#181818" stroke-width="0.8"/>
<line x1="19.9" y1="168.4" x2="19.9" y2="171" stroke="#181818" stroke-width="0.8"/>
<line x1="30.85" y1="168.4" x2="30.85" y2="170" stroke="#181818" stroke-width="0.8"/>
<line x1="41.8" y1="168.4" x2="41.8" y2="171" stroke="#181818" stroke-width="0.8"/>
<line x1="52.75" y1="168.4" x2="52.75" y2="170" stroke="#181818" stroke-width="0.8"/>
<line x1="63.7" y1="168.4" x2="63.7" y2="171" stroke="#181818" stroke-width="0.8"/>
<text transform="translate(21.8,183) scale(0.9,1)" class="tk" text-anchor="middle">0</text>
<text transform="translate(43.1,183) scale(0.9,1)" class="tk" text-anchor="middle">2</text>
<text transform="translate(63,183) scale(0.9,1)" class="tk" text-anchor="middle">4</text>
<rect x="33.6" y="116.7" width="18.4" height="12" fill="#fff" rx="0.5"/>
<text x="38.2" y="126" class="lt">t</text>
<text x="41.2" y="127.7" class="ls">a1</text>
<g clip-path="url(#ca2)">
<rect x="72.5" y="5.7" width="44.8" height="162.4" fill="#30e040" />
<path d="M72.5,13 H79.5 L83,60 V150 H72.5 Z" fill="url(#a2L)"/>
<path d="M79.5,13 H103.6 V150 H83 V60 Z" fill="url(#a2M)"/>
<path d="M74,13 H101 C103,16 103.6,20 103.6,24 C98,27 90,30 84,30 L79.5,25.9 L77.3,21.3 H74 Z" fill="#3ec6f4"/>
<ellipse cx="85" cy="22.5" rx="7" ry="6" fill="#34b6f2"/>
<path d="M80,13 H100 C99,16 96,17.5 90,17.5 C85,17.5 81,16 80,13 Z" fill="#80e0f8" opacity="0.8"/>
<rect x="103.6" y="13" width="2.2" height="133" fill="#40ec30" />
<path d="M105.8,13 H117.5 V144 H110 Q105.8,144 105.8,139.5 Z" fill="url(#a2Y)"/>
<path d="M108.15,14 C108.18,14.89 108.33,17.49 108.35,19.35 C108.38,21.22 108.44,23.27 108.29,25.21 C108.13,27.15 107.39,29.27 107.43,31.02 C107.48,32.76 108.35,34.9 108.53,35.68" stroke="#6a5800" stroke-width="0.35" fill="none" opacity="0.5"/>
<path d="M109.58,14 C109.49,14.63 109.13,16.47 109.06,17.78 C108.99,19.1 109.24,20.39 109.15,21.9 C109.06,23.41 108.57,25.34 108.52,26.83 C108.46,28.33 108.68,29.24 108.84,30.88 C108.99,32.51 109.32,35.05 109.42,36.67 C109.52,38.28 109.45,39.92 109.46,40.57" stroke="#6a5800" stroke-width="0.35" fill="none" opacity="0.5"/>
<path d="M110.34,14 C110.22,14.64 109.68,16.23 109.6,17.82 C109.52,19.4 109.66,21.88 109.85,23.5 C110.05,25.11 110.76,25.91 110.78,27.53 C110.79,29.15 110.04,31.28 109.95,33.21 C109.86,35.15 110.26,37.27 110.25,39.12 C110.23,40.97 109.91,43.45 109.85,44.31" stroke="#6a5800" stroke-width="0.35" fill="none" opacity="0.5"/>
<path d="M111.53,14 C111.57,14.99 111.84,18.22 111.77,19.92 C111.71,21.61 111.28,22.8 111.13,24.16 C110.98,25.52 110.89,26.82 110.87,28.08 C110.86,29.34 111.09,30.3 111.06,31.74 C111.03,33.19 110.7,35.05 110.7,36.75 C110.71,38.45 110.94,40.37 111.11,41.94 C111.27,43.52 111.59,45.51 111.68,46.22" stroke="#6a5800" stroke-width="0.35" fill="none" opacity="0.5"/>
<path d="M112.18,14 C112.26,14.78 112.51,17.31 112.65,18.7 C112.78,20.09 112.96,21.15 112.97,22.35 C112.98,23.55 112.89,24.37 112.7,25.9 C112.51,27.43 111.9,29.67 111.82,31.51 C111.74,33.36 112.24,35.25 112.24,36.98 C112.24,38.72 111.85,40.5 111.81,41.93 C111.77,43.36 111.98,43.96 112.02,45.55 C112.05,47.13 112.03,50.45 112.04,51.44" stroke="#6a5800" stroke-width="0.35" fill="none" opacity="0.5"/>
<path d="M114.02,14 C113.9,14.98 113.39,18.15 113.31,19.86 C113.23,21.56 113.58,22.6 113.53,24.24 C113.48,25.88 112.98,27.88 113.03,29.68 C113.08,31.48 113.87,33.22 113.86,35.05 C113.84,36.89 113.09,38.78 112.94,40.7 C112.8,42.62 112.89,44.86 113.01,46.57 C113.12,48.27 113.53,50.19 113.63,50.92" stroke="#6a5800" stroke-width="0.35" fill="none" opacity="0.5"/>
<path d="M114.41,14 C114.45,14.97 114.66,18.13 114.65,19.81 C114.65,21.49 114.47,22.72 114.38,24.09 C114.29,25.46 114.02,26.73 114.09,28.04 C114.17,29.34 114.81,30.26 114.83,31.91 C114.84,33.55 114.13,36.3 114.19,37.9 C114.25,39.5 115.14,40.11 115.18,41.52 C115.23,42.93 114.57,44.87 114.49,46.35 C114.41,47.84 114.7,48.84 114.71,50.45 C114.72,52.06 114.57,55.09 114.55,56.01" stroke="#6a5800" stroke-width="0.35" fill="none" opacity="0.5"/>
<path d="M115.17,14 C115.16,14.97 114.98,18.04 115.14,19.79 C115.3,21.54 115.97,23.1 116.11,24.52 C116.25,25.95 116.02,26.73 115.98,28.35 C115.94,29.97 115.98,32.33 115.86,34.23 C115.73,36.12 115.32,38.02 115.23,39.7 C115.13,41.37 115.24,42.58 115.28,44.28 C115.32,45.98 115.28,48.19 115.45,49.89 C115.62,51.6 116.16,52.82 116.3,54.53 C116.44,56.24 116.28,59.22 116.27,60.16" stroke="#6a5800" stroke-width="0.35" fill="none" opacity="0.5"/>
<path d="M116.79,14 C116.78,14.89 116.79,17.73 116.77,19.32 C116.76,20.92 116.7,22.2 116.68,23.55 C116.66,24.9 116.54,25.78 116.65,27.42 C116.76,29.06 117.33,31.55 117.35,33.39 C117.38,35.23 116.97,36.89 116.8,38.46 C116.63,40.02 116.25,41.38 116.31,42.8 C116.36,44.22 117.08,45.34 117.14,46.98 C117.19,48.62 116.64,50.8 116.63,52.65 C116.63,54.51 117.07,56.33 117.13,58.12 C117.19,59.9 117.02,62.48 117,63.35" stroke="#6a5800" stroke-width="0.35" fill="none" opacity="0.5"/>
<path d="M107.69,14 V19.73 C107.69,25.73 106.49,26.73 106.2,26.43" stroke="#6a5800" stroke-width="0.4" fill="none" opacity="0.55"/>
<path d="M108.06,14 V24.18 C108.06,30.18 106.86,31.18 106.2,30.88" stroke="#6a5800" stroke-width="0.4" fill="none" opacity="0.55"/>
<path d="M108.44,14 V28.62 C108.44,34.62 107.24,35.62 106.2,35.33" stroke="#6a5800" stroke-width="0.4" fill="none" opacity="0.55"/>
<path d="M108.81,14 V33.08 C108.81,39.08 107.61,40.08 106.2,39.78" stroke="#6a5800" stroke-width="0.4" fill="none" opacity="0.55"/>
<path d="M109.19,14 V37.53 C109.19,43.53 107.99,44.53 106.2,44.23" stroke="#6a5800" stroke-width="0.4" fill="none" opacity="0.55"/>
<path d="M109.56,14 V41.98 C109.56,47.98 108.36,48.98 106.2,48.68" stroke="#6a5800" stroke-width="0.4" fill="none" opacity="0.55"/>
<path d="M109.94,14 V46.42 C109.94,52.42 108.74,53.42 106.2,53.12" stroke="#6a5800" stroke-width="0.4" fill="none" opacity="0.55"/>
<path d="M110.31,17.88 V50.88 C110.31,56.88 109.11,57.88 106.2,57.58" stroke="#6a5800" stroke-width="0.4" fill="none" opacity="0.55"/>
<path d="M110.69,22.33 V55.33 C110.69,61.33 109.49,62.33 106.2,62.03" stroke="#6a5800" stroke-width="0.4" fill="none" opacity="0.55"/>
<path d="M111.06,26.78 V59.78 C111.06,65.78 109.86,66.78 106.2,66.48" stroke="#6a5800" stroke-width="0.4" fill="none" opacity="0.55"/>
<path d="M111.44,31.22 V64.22 C111.44,70.22 110.24,71.22 106.2,70.92" stroke="#6a5800" stroke-width="0.4" fill="none" opacity="0.55"/>
<path d="M111.81,35.68 V68.68 C111.81,74.68 110.61,75.68 106.2,75.38" stroke="#6a5800" stroke-width="0.4" fill="none" opacity="0.55"/>
<path d="M112.19,40.12 V73.12 C112.19,79.12 110.99,80.12 106.2,79.83" stroke="#6a5800" stroke-width="0.4" fill="none" opacity="0.55"/>
<path d="M112.56,44.58 V77.58 C112.56,83.58 111.36,84.58 106.2,84.28" stroke="#6a5800" stroke-width="0.4" fill="none" opacity="0.55"/>
<path d="M112.94,49.03 V82.03 C112.94,88.03 111.74,89.03 106.2,88.73" stroke="#6a5800" stroke-width="0.4" fill="none" opacity="0.55"/>
<path d="M113.31,53.48 V86.48 C113.31,92.48 112.11,93.48 106.2,93.18" stroke="#6a5800" stroke-width="0.4" fill="none" opacity="0.55"/>
<path d="M113.69,57.92 V90.92 C113.69,96.92 112.49,97.92 106.2,97.62" stroke="#6a5800" stroke-width="0.4" fill="none" opacity="0.55"/>
<path d="M114.06,62.38 V95.38 C114.06,101.38 112.86,102.38 106.2,102.08" stroke="#6a5800" stroke-width="0.4" fill="none" opacity="0.55"/>
<path d="M114.44,66.83 V99.83 C114.44,105.83 113.24,106.83 106.2,106.53" stroke="#6a5800" stroke-width="0.4" fill="none" opacity="0.55"/>
<path d="M114.81,71.28 V104.28 C114.81,110.28 113.61,111.28 106.2,110.98" stroke="#6a5800" stroke-width="0.4" fill="none" opacity="0.55"/>
<path d="M115.19,75.73 V108.73 C115.19,114.73 113.99,115.73 106.2,115.43" stroke="#6a5800" stroke-width="0.4" fill="none" opacity="0.55"/>
<path d="M115.56,80.17 V113.17 C115.56,119.17 114.36,120.17 106.2,119.88" stroke="#6a5800" stroke-width="0.4" fill="none" opacity="0.55"/>
<path d="M115.94,84.62 V117.62 C115.94,123.62 114.74,124.62 106.2,124.33" stroke="#6a5800" stroke-width="0.4" fill="none" opacity="0.55"/>
<path d="M116.31,89.07 V122.07 C116.31,128.07 115.11,129.07 106.2,128.77" stroke="#6a5800" stroke-width="0.4" fill="none" opacity="0.55"/>
<path d="M116.69,93.53 V126.53 C116.69,132.53 115.49,133.53 106.2,133.22" stroke="#6a5800" stroke-width="0.4" fill="none" opacity="0.55"/>
<path d="M117.06,97.98 V130.98 C117.06,136.98 115.86,137.98 106.2,137.68" stroke="#6a5800" stroke-width="0.4" fill="none" opacity="0.55"/>
<path d="M117.44,102.43 V135.43 C117.44,141.43 116.24,142.43 106.2,142.12" stroke="#6a5800" stroke-width="0.4" fill="none" opacity="0.55"/>
<path d="M117.81,106.88 V139.88 C117.81,145.88 116.61,146.88 106.2,146.57" stroke="#6a5800" stroke-width="0.4" fill="none" opacity="0.55"/>
<path d="M106.3,14 V139.5 Q106.3,144.5 110.5,144.5 H117.5" stroke="#fcf890" stroke-width="0.9" fill="none" />
<path d="M83,140 H105.8 V139.5 Q105.8,144 110,144 H117.5 V149.5 H87 Q83,149.5 83,145 Z" fill="#2cee2c"/>
<path d="M72.5,150 H83 Q83,149.5 87,149.5 H117.5 V169 H72.5 Z" fill="#40e028"/>
<path d="M72.5,21.3 H77.3 L79.5,25.9 L83,60 V145 Q83,150 88,150 H117.5" stroke="#e8fff0" stroke-width="0.75" fill="none" />
<path d="M75.1,55 C74.1,100 73.6,130 73.4,148 C73.6,155 75.6,160 77.6,168.6" stroke="#70c840" stroke-width="0.45" fill="none" />
<path d="M76.7,63 C75.7,100 75.2,130 75,148 C75.2,155 78.2,160 81.6,168.6" stroke="#70c840" stroke-width="0.45" fill="none" />
<path d="M78.3,71 C77.3,100 76.8,130 76.6,148 C76.8,155 80.8,160 85.6,168.6" stroke="#70c840" stroke-width="0.45" fill="none" />
<path d="M79.9,79 C78.9,100 78.4,130 78.2,148 C78.4,155 83.4,160 89.6,168.6" stroke="#70c840" stroke-width="0.45" fill="none" />
<path d="M81.5,87 C80.5,100 80,130 79.8,148 C80,155 86,160 93.6,168.6" stroke="#70c840" stroke-width="0.45" fill="none" />
<path d="M107.2,14 V16.5 C107.2,23.5 106,24.5 104,24.2" stroke="#4a4000" stroke-width="0.45" fill="none" opacity="0.7"/>
<path d="M104,24.2 C100.05,24.25 84.48,24.03 80.3,24.5 C76.12,24.97 79.47,26.08 78.9,27 C78.33,27.92 77.42,29 76.87,30 C76.31,31 75.93,32 75.59,33 C75.24,34 75,35 74.78,36 C74.56,37 74.41,38 74.27,39 C74.13,40 74.03,41 73.95,42 C73.86,43 73.8,44 73.74,45 C73.69,46 73.65,47 73.62,48 C73.58,49 73.56,50 73.54,51 C73.52,52 73.5,53 73.49,54 C73.47,55 73.46,56 73.45,57 C73.45,58 73.44,59 73.43,60 C73.43,61 73.43,62 73.42,63 C73.42,64 73.42,65 73.41,66 C73.41,67 73.41,68 73.41,69 C73.41,70 73.41,71 73.41,72 C73.4,73 73.4,74 73.4,75 C73.4,76 73.4,77 73.4,78 C73.4,79 73.4,80 73.4,81 C73.4,82 73.4,83 73.4,84 C73.4,85 73.4,86 73.4,87 C73.4,88 73.4,89 73.4,90 C73.4,91 73.4,92 73.4,93 C73.4,94 73.4,95 73.4,96 C73.4,97 73.4,98 73.4,99 C73.4,100 73.4,101 73.4,102 C73.4,103 73.4,104 73.4,105 C73.4,106 73.4,107 73.4,108 C73.4,109 73.4,110 73.4,111 C73.4,112 73.4,113 73.4,114 C73.4,115 73.4,116 73.4,117 C73.4,118 73.4,119 73.4,120 C73.4,121 73.4,122 73.4,123 C73.4,124 73.4,125 73.4,126 C73.4,127 73.4,128 73.4,129 C73.4,130 73.4,131 73.4,132 C73.4,133 73.4,134 73.4,135 C73.4,136 73.4,137 73.4,138 C73.4,139 73.4,140 73.4,141 C73.4,142 73.4,143 73.4,144 C73.4,145 73.2,145.08 73.4,147 C73.6,148.92 74,153.17 74.6,155.5 C75.21,157.83 76.33,159.42 77.03,161 C77.73,162.58 78.31,163.73 78.8,165 C79.29,166.27 79.8,168 80,168.6" stroke="#182810" stroke-width="0.5" fill="none" />
<path d="M107.95,14 V25.4 C107.95,32.4 106.75,33.4 104,33.1" stroke="#4a4000" stroke-width="0.45" fill="none" opacity="0.7"/>
<path d="M104,33.1 C100.18,33.15 85.12,32.93 81.06,33.4 C77.01,33.87 80.24,34.98 79.66,35.9 C79.08,36.82 78.14,37.9 77.58,38.9 C77.01,39.9 76.62,40.9 76.26,41.9 C75.9,42.9 75.66,43.9 75.43,44.9 C75.21,45.9 75.05,46.9 74.91,47.9 C74.77,48.9 74.67,49.9 74.58,50.9 C74.49,51.9 74.43,52.9 74.37,53.9 C74.32,54.9 74.28,55.9 74.24,56.9 C74.21,57.9 74.18,58.9 74.16,59.9 C74.14,60.9 74.12,61.9 74.11,62.9 C74.09,63.9 74.08,64.9 74.08,65.9 C74.07,66.9 74.06,67.9 74.06,68.9 C74.05,69.9 74.05,70.9 74.04,71.9 C74.04,72.9 74.04,73.9 74.03,74.9 C74.03,75.9 74.03,76.9 74.03,77.9 C74.03,78.9 74.03,79.9 74.03,80.9 C74.02,81.9 74.02,82.9 74.02,83.9 C74.02,84.9 74.02,85.9 74.02,86.9 C74.02,87.9 74.02,88.9 74.02,89.9 C74.02,90.9 74.02,91.9 74.02,92.9 C74.02,93.9 74.02,94.9 74.02,95.9 C74.02,96.9 74.02,97.9 74.02,98.9 C74.02,99.9 74.02,100.9 74.02,101.9 C74.02,102.9 74.02,103.9 74.02,104.9 C74.02,105.9 74.02,106.9 74.02,107.9 C74.02,108.9 74.02,109.9 74.02,110.9 C74.02,111.9 74.02,112.9 74.02,113.9 C74.02,114.9 74.02,115.9 74.02,116.9 C74.02,117.9 74.02,118.9 74.02,119.9 C74.02,120.9 74.02,121.9 74.02,122.9 C74.02,123.9 74.02,124.9 74.02,125.9 C74.02,126.9 74.02,127.9 74.02,128.9 C74.02,129.9 74.02,130.9 74.02,131.9 C74.02,132.9 74.02,133.9 74.02,134.9 C74.02,135.9 74.02,136.9 74.02,137.9 C74.02,138.9 74.02,139.9 74.02,140.9 C74.02,141.9 74.02,142.9 74.02,143.9 C74.02,144.9 73.82,145.05 74.02,146.9 C74.22,148.75 74.43,152.73 75.22,155 C76.01,157.27 77.71,158.83 78.74,160.5 C79.77,162.17 80.76,163.65 81.4,165 C82.04,166.35 82.4,168 82.6,168.6" stroke="#182810" stroke-width="0.5" fill="none" />
<path d="M108.7,14 V34.3 C108.7,41.3 107.5,42.3 104,42" stroke="#4a4000" stroke-width="0.45" fill="none" opacity="0.7"/>
<path d="M104,42 C100.33,42.05 85.88,41.83 81.98,42.3 C78.07,42.77 81.18,43.88 80.58,44.8 C79.98,45.72 78.98,46.8 78.38,47.8 C77.79,48.8 77.38,49.8 77,50.8 C76.62,51.8 76.36,52.8 76.13,53.8 C75.89,54.8 75.73,55.8 75.58,56.8 C75.43,57.8 75.32,58.8 75.23,59.8 C75.14,60.8 75.07,61.8 75.01,62.8 C74.95,63.8 74.91,64.8 74.87,65.8 C74.84,66.8 74.81,67.8 74.79,68.8 C74.76,69.8 74.75,70.8 74.73,71.8 C74.72,72.8 74.71,73.8 74.7,74.8 C74.69,75.8 74.68,76.8 74.68,77.8 C74.67,78.8 74.67,79.8 74.66,80.8 C74.66,81.8 74.66,82.8 74.65,83.8 C74.65,84.8 74.65,85.8 74.65,86.8 C74.65,87.8 74.65,88.8 74.65,89.8 C74.64,90.8 74.64,91.8 74.64,92.8 C74.64,93.8 74.64,94.8 74.64,95.8 C74.64,96.8 74.64,97.8 74.64,98.8 C74.64,99.8 74.64,100.8 74.64,101.8 C74.64,102.8 74.64,103.8 74.64,104.8 C74.64,105.8 74.64,106.8 74.64,107.8 C74.64,108.8 74.64,109.8 74.64,110.8 C74.64,111.8 74.64,112.8 74.64,113.8 C74.64,114.8 74.64,115.8 74.64,116.8 C74.64,117.8 74.64,118.8 74.64,119.8 C74.64,120.8 74.64,121.8 74.64,122.8 C74.64,123.8 74.64,124.8 74.64,125.8 C74.64,126.8 74.64,127.8 74.64,128.8 C74.64,129.8 74.64,130.8 74.64,131.8 C74.64,132.8 74.64,133.8 74.64,134.8 C74.64,135.8 74.64,136.8 74.64,137.8 C74.64,138.8 74.64,139.8 74.64,140.8 C74.64,141.8 74.64,142.8 74.64,143.8 C74.64,144.8 74.44,145.02 74.64,146.8 C74.84,148.58 74.87,152.3 75.84,154.5 C76.81,156.7 79.09,158.25 80.45,160 C81.81,161.75 83.21,163.57 84,165 C84.79,166.43 85,168 85.2,168.6" stroke="#182810" stroke-width="0.5" fill="none" />
<path d="M109.45,14 V43.2 C109.45,50.2 108.25,51.2 104,50.9" stroke="#4a4000" stroke-width="0.45" fill="none" opacity="0.7"/>
<path d="M104,50.9 C100.48,50.95 86.65,50.73 82.89,51.2 C79.14,51.67 82.11,52.78 81.49,53.7 C80.88,54.62 79.82,55.7 79.19,56.7 C78.56,57.7 78.13,58.7 77.74,59.7 C77.34,60.7 77.07,61.7 76.82,62.7 C76.57,63.7 76.4,64.7 76.24,65.7 C76.09,66.7 75.98,67.7 75.88,68.7 C75.78,69.7 75.71,70.7 75.65,71.7 C75.59,72.7 75.55,73.7 75.51,74.7 C75.47,75.7 75.44,76.7 75.42,77.7 C75.39,78.7 75.37,79.7 75.36,80.7 C75.34,81.7 75.33,82.7 75.32,83.7 C75.31,84.7 75.31,85.7 75.3,86.7 C75.29,87.7 75.29,88.7 75.28,89.7 C75.28,90.7 75.28,91.7 75.28,92.7 C75.27,93.7 75.27,94.7 75.27,95.7 C75.27,96.7 75.27,97.7 75.27,98.7 C75.27,99.7 75.26,100.7 75.26,101.7 C75.26,102.7 75.26,103.7 75.26,104.7 C75.26,105.7 75.26,106.7 75.26,107.7 C75.26,108.7 75.26,109.7 75.26,110.7 C75.26,111.7 75.26,112.7 75.26,113.7 C75.26,114.7 75.26,115.7 75.26,116.7 C75.26,117.7 75.26,118.7 75.26,119.7 C75.26,120.7 75.26,121.7 75.26,122.7 C75.26,123.7 75.26,124.7 75.26,125.7 C75.26,126.7 75.26,127.7 75.26,128.7 C75.26,129.7 75.26,130.7 75.26,131.7 C75.26,132.7 75.26,133.7 75.26,134.7 C75.26,135.7 75.26,136.7 75.26,137.7 C75.26,138.7 75.26,139.7 75.26,140.7 C75.26,141.7 75.26,142.7 75.26,143.7 C75.26,144.7 75.06,144.98 75.26,146.7 C75.46,148.42 75.31,151.87 76.46,154 C77.61,156.13 80.47,157.67 82.16,159.5 C83.85,161.33 85.66,163.48 86.6,165 C87.54,166.52 87.6,168 87.8,168.6" stroke="#182810" stroke-width="0.5" fill="none" />
<path d="M110.2,20.1 V52.1 C110.2,59.1 109,60.1 104,59.8" stroke="#4a4000" stroke-width="0.45" fill="none" opacity="0.7"/>
<path d="M104,59.8 C100.63,59.85 87.4,59.63 83.8,60.1 C80.2,60.57 83.04,61.68 82.4,62.6 C81.76,63.52 80.64,64.6 79.99,65.6 C79.33,66.6 78.88,67.6 78.47,68.6 C78.06,69.6 77.77,70.6 77.51,71.6 C77.25,72.6 77.07,73.6 76.91,74.6 C76.75,75.6 76.63,76.6 76.53,77.6 C76.43,78.6 76.35,79.6 76.29,80.6 C76.22,81.6 76.18,82.6 76.14,83.6 C76.1,84.6 76.07,85.6 76.04,86.6 C76.02,87.6 76,88.6 75.98,89.6 C75.97,90.6 75.95,91.6 75.94,92.6 C75.93,93.6 75.93,94.6 75.92,95.6 C75.91,96.6 75.91,97.6 75.91,98.6 C75.9,99.6 75.9,100.6 75.9,101.6 C75.89,102.6 75.89,103.6 75.89,104.6 C75.89,105.6 75.89,106.6 75.89,107.6 C75.89,108.6 75.88,109.6 75.88,110.6 C75.88,111.6 75.88,112.6 75.88,113.6 C75.88,114.6 75.88,115.6 75.88,116.6 C75.88,117.6 75.88,118.6 75.88,119.6 C75.88,120.6 75.88,121.6 75.88,122.6 C75.88,123.6 75.88,124.6 75.88,125.6 C75.88,126.6 75.88,127.6 75.88,128.6 C75.88,129.6 75.88,130.6 75.88,131.6 C75.88,132.6 75.88,133.6 75.88,134.6 C75.88,135.6 75.88,136.6 75.88,137.6 C75.88,138.6 75.88,139.6 75.88,140.6 C75.88,141.6 75.88,142.6 75.88,143.6 C75.88,144.6 75.68,144.95 75.88,146.6 C76.08,148.25 75.75,151.43 77.08,153.5 C78.41,155.57 81.85,157.08 83.87,159 C85.89,160.92 88.11,163.4 89.2,165 C90.29,166.6 90.2,168 90.4,168.6" stroke="#182810" stroke-width="0.5" fill="none" />
<path d="M110.95,29 V61 C110.95,68 109.75,69 104,68.7" stroke="#4a4000" stroke-width="0.45" fill="none" opacity="0.7"/>
<path d="M104,68.7 C100.63,68.75 87.4,68.53 83.8,69 C80.2,69.47 83,70.58 82.4,71.5 C81.8,72.42 80.81,73.5 80.22,74.5 C79.63,75.5 79.22,76.5 78.84,77.5 C78.47,78.5 78.21,79.5 77.98,80.5 C77.74,81.5 77.58,82.5 77.43,83.5 C77.28,84.5 77.18,85.5 77.09,86.5 C76.99,87.5 76.93,88.5 76.87,89.5 C76.81,90.5 76.77,91.5 76.73,92.5 C76.7,93.5 76.67,94.5 76.65,95.5 C76.62,96.5 76.61,97.5 76.59,98.5 C76.58,99.5 76.57,100.5 76.56,101.5 C76.55,102.5 76.54,103.5 76.54,104.5 C76.53,105.5 76.53,106.5 76.52,107.5 C76.52,108.5 76.52,109.5 76.51,110.5 C76.51,111.5 76.51,112.5 76.51,113.5 C76.51,114.5 76.51,115.5 76.51,116.5 C76.5,117.5 76.5,118.5 76.5,119.5 C76.5,120.5 76.5,121.5 76.5,122.5 C76.5,123.5 76.5,124.5 76.5,125.5 C76.5,126.5 76.5,127.5 76.5,128.5 C76.5,129.5 76.5,130.5 76.5,131.5 C76.5,132.5 76.5,133.5 76.5,134.5 C76.5,135.5 76.5,136.5 76.5,137.5 C76.5,138.5 76.5,139.5 76.5,140.5 C76.5,141.5 76.5,142.5 76.5,143.5 C76.5,144.5 76.3,144.92 76.5,146.5 C76.7,148.08 76.19,151 77.7,153 C79.21,155 83.23,156.5 85.58,158.5 C87.93,160.5 90.56,163.32 91.8,165 C93.04,166.68 92.8,168 93,168.6" stroke="#182810" stroke-width="0.5" fill="none" />
<path d="M111.7,37.9 V69.9 C111.7,76.9 110.5,77.9 104,77.6" stroke="#4a4000" stroke-width="0.45" fill="none" opacity="0.7"/>
<path d="M104,77.6 C100.63,77.65 87.4,77.43 83.8,77.9 C80.2,78.37 82.96,79.48 82.4,80.4 C81.84,81.32 80.98,82.4 80.45,83.4 C79.92,84.4 79.55,85.4 79.22,86.4 C78.88,87.4 78.65,88.4 78.44,89.4 C78.23,90.4 78.09,91.4 77.95,92.4 C77.82,93.4 77.73,94.4 77.65,95.4 C77.56,96.4 77.5,97.4 77.45,98.4 C77.4,99.4 77.36,100.4 77.33,101.4 C77.3,102.4 77.27,103.4 77.25,104.4 C77.23,105.4 77.22,106.4 77.2,107.4 C77.19,108.4 77.18,109.4 77.17,110.4 C77.16,111.4 77.16,112.4 77.15,113.4 C77.15,114.4 77.14,115.4 77.14,116.4 C77.14,117.4 77.14,118.4 77.13,119.4 C77.13,120.4 77.13,121.4 77.13,122.4 C77.13,123.4 77.13,124.4 77.13,125.4 C77.12,126.4 77.12,127.4 77.12,128.4 C77.12,129.4 77.12,130.4 77.12,131.4 C77.12,132.4 77.12,133.4 77.12,134.4 C77.12,135.4 77.12,136.4 77.12,137.4 C77.12,138.4 77.12,139.4 77.12,140.4 C77.12,141.4 77.12,142.4 77.12,143.4 C77.12,144.4 76.92,144.88 77.12,146.4 C77.32,147.92 76.63,150.57 78.32,152.5 C80.01,154.43 84.6,155.92 87.28,158 C89.96,160.08 93.01,163.23 94.4,165 C95.79,166.77 95.4,168 95.6,168.6" stroke="#182810" stroke-width="0.5" fill="none" />
<path d="M112.45,46.8 V78.8 C112.45,85.8 111.25,86.8 104,86.5" stroke="#4a4000" stroke-width="0.45" fill="none" opacity="0.7"/>
<path d="M104,86.5 C100.63,86.55 87.4,86.33 83.8,86.8 C80.2,87.27 82.92,88.38 82.4,89.3 C81.88,90.22 81.15,91.3 80.68,92.3 C80.21,93.3 79.89,94.3 79.59,95.3 C79.3,96.3 79.09,97.3 78.91,98.3 C78.72,99.3 78.59,100.3 78.48,101.3 C78.36,102.3 78.28,103.3 78.2,104.3 C78.13,105.3 78.08,106.3 78.03,107.3 C77.99,108.3 77.95,109.3 77.92,110.3 C77.89,111.3 77.87,112.3 77.86,113.3 C77.84,114.3 77.82,115.3 77.81,116.3 C77.8,117.3 77.79,118.3 77.79,119.3 C77.78,120.3 77.77,121.3 77.77,122.3 C77.76,123.3 77.76,124.3 77.76,125.3 C77.76,126.3 77.75,127.3 77.75,128.3 C77.75,129.3 77.75,130.3 77.75,131.3 C77.75,132.3 77.75,133.3 77.74,134.3 C77.74,135.3 77.74,136.3 77.74,137.3 C77.74,138.3 77.74,139.3 77.74,140.3 C77.74,141.3 77.74,142.3 77.74,143.3 C77.74,144.3 77.54,144.85 77.74,146.3 C77.94,147.75 77.07,150.13 78.94,152 C80.82,153.87 85.98,155.33 88.99,157.5 C92,159.67 95.47,163.15 97,165 C98.53,166.85 98,168 98.2,168.6" stroke="#182810" stroke-width="0.5" fill="none" />
<path d="M113.2,55.7 V87.7 C113.2,94.7 112,95.7 104,95.4" stroke="#4a4000" stroke-width="0.45" fill="none" opacity="0.7"/>
<path d="M104,95.4 C100.63,95.45 87.4,95.23 83.8,95.7 C80.2,96.17 82.88,97.28 82.4,98.2 C81.92,99.12 81.31,100.2 80.91,101.2 C80.5,102.2 80.22,103.2 79.97,104.2 C79.71,105.2 79.53,106.2 79.37,107.2 C79.21,108.2 79.1,109.2 79,110.2 C78.9,111.2 78.83,112.2 78.76,113.2 C78.7,114.2 78.65,115.2 78.61,116.2 C78.57,117.2 78.55,118.2 78.52,119.2 C78.49,120.2 78.48,121.2 78.46,122.2 C78.44,123.2 78.43,124.2 78.42,125.2 C78.41,126.2 78.41,127.2 78.4,128.2 C78.39,129.2 78.39,130.2 78.39,131.2 C78.38,132.2 78.38,133.2 78.38,134.2 C78.37,135.2 78.37,136.2 78.37,137.2 C78.37,138.2 78.37,139.2 78.37,140.2 C78.37,141.2 78.16,141.32 78.36,143.2 C78.56,145.08 77.51,149.2 79.56,151.5 C81.62,153.8 87.36,154.75 90.7,157 C94.04,159.25 97.92,163.07 99.6,165 C101.28,166.93 100.6,168 100.8,168.6" stroke="#182810" stroke-width="0.5" fill="none" />
<path d="M113.95,64.6 V96.6 C113.95,103.6 112.75,104.6 104,104.3" stroke="#4a4000" stroke-width="0.45" fill="none" opacity="0.7"/>
<path d="M104,104.3 C100.63,104.35 87.4,104.13 83.8,104.6 C80.2,105.07 82.84,106.18 82.4,107.1 C81.96,108.02 81.48,109.1 81.14,110.1 C80.79,111.1 80.56,112.1 80.34,113.1 C80.12,114.1 79.97,115.1 79.84,116.1 C79.7,117.1 79.61,118.1 79.52,119.1 C79.43,120.1 79.37,121.1 79.32,122.1 C79.27,123.1 79.23,124.1 79.19,125.1 C79.16,126.1 79.14,127.1 79.12,128.1 C79.09,129.1 79.08,130.1 79.07,131.1 C79.05,132.1 79.04,133.1 79.03,134.1 C79.03,135.1 79.02,136.1 79.01,137.1 C79.01,138.1 79,139.1 79,140.1 C79,141.1 78.79,141.28 78.99,143.1 C79.19,144.92 77.96,148.77 80.19,151 C82.43,153.23 88.75,154.17 92.42,156.5 C96.08,158.83 100.37,162.98 102.2,165 C104.03,167.02 103.2,168 103.4,168.6" stroke="#182810" stroke-width="0.5" fill="none" />
<path d="M114.7,73.5 V105.5 C114.7,112.5 113.5,113.5 104,113.2" stroke="#4a4000" stroke-width="0.45" fill="none" opacity="0.7"/>
<path d="M104,113.2 C100.63,113.25 87.4,113.03 83.8,113.5 C80.2,113.97 82.81,115.08 82.4,116 C81.99,116.92 81.65,118 81.36,119 C81.08,120 80.89,121 80.71,122 C80.54,123 80.41,124 80.3,125 C80.19,126 80.11,127 80.04,128 C79.97,129 79.92,130 79.88,131 C79.83,132 79.8,133 79.78,134 C79.75,135 79.73,136 79.71,137 C79.69,138 79.68,139 79.67,140 C79.66,141 79.45,141.25 79.64,143 C79.84,144.75 78.43,148.33 80.84,150.5 C83.26,152.67 90.15,153.58 94.14,156 C98.13,158.42 102.82,162.9 104.8,165 C106.78,167.1 105.8,168 106,168.6" stroke="#182810" stroke-width="0.5" fill="none" />
<path d="M115.45,82.4 V114.4 C115.45,121.4 114.25,122.4 104,122.1" stroke="#4a4000" stroke-width="0.45" fill="none" opacity="0.7"/>
<path d="M104,122.1 C100.63,122.15 87.4,121.93 83.8,122.4 C80.2,122.87 82.77,123.98 82.4,124.9 C82.03,125.82 81.81,126.9 81.59,127.9 C81.38,128.9 81.22,129.9 81.09,130.9 C80.95,131.9 80.85,132.9 80.77,133.9 C80.68,134.9 80.62,135.9 80.56,136.9 C80.51,137.9 80.47,138.9 80.44,139.9 C80.4,140.9 80.17,141.22 80.36,142.9 C80.54,144.58 78.97,147.9 81.56,150 C84.15,152.1 91.58,153 95.89,155.5 C100.2,158 105.28,162.82 107.4,165 C109.52,167.18 108.4,168 108.6,168.6" stroke="#182810" stroke-width="0.5" fill="none" />
<path d="M116.2,91.3 V123.3 C116.2,130.3 115,131.3 104,131" stroke="#4a4000" stroke-width="0.45" fill="none" opacity="0.7"/>
<path d="M104,131 C100.63,131.05 87.4,130.83 83.8,131.3 C80.2,131.77 82.73,132.88 82.4,133.8 C82.07,134.72 81.98,135.8 81.82,136.8 C81.67,137.8 81.56,138.8 81.46,139.8 C81.36,140.8 81.07,141.18 81.23,142.8 C81.39,144.42 79.68,147.47 82.43,149.5 C85.18,151.53 93.12,152.42 97.71,155 C102.31,157.58 107.75,162.73 110,165 C112.25,167.27 111,168 111.2,168.6" stroke="#182810" stroke-width="0.5" fill="none" />
<path d="M116.95,100.2 V132.2 C116.95,139.2 115.75,140.2 104,139.9" stroke="#4a4000" stroke-width="0.45" fill="none" opacity="0.7"/>
<path d="M104,139.9 C100.63,139.95 87.4,139.73 83.8,140.2 C80.2,140.67 82.43,141.23 82.4,142.7 C82.37,144.17 80.72,147.03 83.6,149 C86.48,150.97 94.84,151.83 99.67,154.5 C104.5,157.17 110.25,162.65 112.6,165 C114.96,167.35 113.6,168 113.8,168.6" stroke="#182810" stroke-width="0.5" fill="none" />
</g>
<path d="M76.9,5.7 H95 V13 L101.3,15.7 L94.5,15.1 L76.9,13.1 Z" fill="#2a1200"/>
<path d="M77.1,8.1 C79.5,7.7 82.5,8 85.5,8.7 C87.5,9.3 89,10.1 90.3,11.3 C91.5,12.3 92.5,13.1 93.5,14.1 L90.5,14.1 C85.5,13.3 81.5,12.9 77.1,12.7 Z" fill="#f0a000"/>
<path d="M78.5,10.3 C81.5,9.5 84.5,10.1 88,10.3 M81.5,11.7 C84.5,11.1 87.5,11.9 91,12.5" stroke="#5a2800" stroke-width="0.7" fill="none"/>
<path d="M76.9,6 H83 C81.5,7.1 79.5,7.7 76.9,7.9 Z" fill="#40c4f0"/>
<path d="M76.9,12.9 C82.5,13.2 88.5,13.9 94.5,14.9 L101.3,15.7" stroke="#f8e010" stroke-width="0.6" fill="none"/>
<rect x="72.5" y="5.7" width="4.4" height="9.3" fill="#0c18e6" />
<line x1="77.1" y1="5.7" x2="77.1" y2="15" stroke="#101040" stroke-width="0.7"/>
<line x1="72.5" y1="15.1" x2="77.1" y2="15.1" stroke="#301030" stroke-width="0.5"/>
<rect x="72.5" y="5.3" width="22.5" height="1" fill="#e020e8" />
<path d="M95,5.7 V13 H117.3" stroke="#200818" stroke-width="0.9" fill="none"/>
<line x1="96" y1="12.8" x2="117.3" y2="12.8" stroke="#e040e0" stroke-width="0.5"/>
<line x1="72.1" y1="5.3" x2="72.1" y2="171.9" stroke="#2a1030" stroke-width="0.8"/>
<line x1="117.3" y1="13" x2="117.3" y2="168.1" stroke="#401838" stroke-width="0.5" opacity="0.7"/>
<line x1="72.1" y1="168.4" x2="117.6" y2="168.4" stroke="#9a509a" stroke-width="0.9"/>
<line x1="68.9" y1="6.1" x2="72.1" y2="6.1" stroke="#181818" stroke-width="0.8"/>
<line x1="70.3" y1="13.82" x2="72.1" y2="13.82" stroke="#181818" stroke-width="0.8"/>
<line x1="70.3" y1="21.54" x2="72.1" y2="21.54" stroke="#181818" stroke-width="0.8"/>
<line x1="70.3" y1="29.26" x2="72.1" y2="29.26" stroke="#181818" stroke-width="0.8"/>
<line x1="70.3" y1="36.98" x2="72.1" y2="36.98" stroke="#181818" stroke-width="0.8"/>
<line x1="68.9" y1="44.7" x2="72.1" y2="44.7" stroke="#181818" stroke-width="0.8"/>
<line x1="70.3" y1="52.42" x2="72.1" y2="52.42" stroke="#181818" stroke-width="0.8"/>
<line x1="70.3" y1="60.14" x2="72.1" y2="60.14" stroke="#181818" stroke-width="0.8"/>
<line x1="70.3" y1="67.86" x2="72.1" y2="67.86" stroke="#181818" stroke-width="0.8"/>
<line x1="70.3" y1="75.58" x2="72.1" y2="75.58" stroke="#181818" stroke-width="0.8"/>
<line x1="68.9" y1="83.3" x2="72.1" y2="83.3" stroke="#181818" stroke-width="0.8"/>
<line x1="70.3" y1="91.02" x2="72.1" y2="91.02" stroke="#181818" stroke-width="0.8"/>
<line x1="70.3" y1="98.74" x2="72.1" y2="98.74" stroke="#181818" stroke-width="0.8"/>
<line x1="70.3" y1="106.46" x2="72.1" y2="106.46" stroke="#181818" stroke-width="0.8"/>
<line x1="70.3" y1="114.18" x2="72.1" y2="114.18" stroke="#181818" stroke-width="0.8"/>
<line x1="68.9" y1="121.9" x2="72.1" y2="121.9" stroke="#181818" stroke-width="0.8"/>
<line x1="70.3" y1="129.62" x2="72.1" y2="129.62" stroke="#181818" stroke-width="0.8"/>
<line x1="70.3" y1="137.34" x2="72.1" y2="137.34" stroke="#181818" stroke-width="0.8"/>
<line x1="70.3" y1="145.06" x2="72.1" y2="145.06" stroke="#181818" stroke-width="0.8"/>
<line x1="70.3" y1="152.78" x2="72.1" y2="152.78" stroke="#181818" stroke-width="0.8"/>
<line x1="68.9" y1="160.5" x2="72.1" y2="160.5" stroke="#181818" stroke-width="0.8"/>
<line x1="70.3" y1="168.22" x2="72.1" y2="168.22" stroke="#181818" stroke-width="0.8"/>
<line x1="72.8" y1="168.4" x2="72.8" y2="171" stroke="#181818" stroke-width="0.8"/>
<line x1="83.8" y1="168.4" x2="83.8" y2="170" stroke="#181818" stroke-width="0.8"/>
<line x1="94.8" y1="168.4" x2="94.8" y2="171" stroke="#181818" stroke-width="0.8"/>
<line x1="105.8" y1="168.4" x2="105.8" y2="170" stroke="#181818" stroke-width="0.8"/>
<line x1="116.8" y1="168.4" x2="116.8" y2="171" stroke="#181818" stroke-width="0.8"/>
<text transform="translate(74.7,183) scale(0.9,1)" class="tk" text-anchor="middle">0</text>
<text transform="translate(96,183) scale(0.9,1)" class="tk" text-anchor="middle">2</text>
<text transform="translate(116.1,183) scale(0.9,1)" class="tk" text-anchor="middle">4</text>
<rect x="86.5" y="116.7" width="18.4" height="12" fill="#fff" rx="0.5"/>
<text x="91.1" y="126" class="lt">t</text>
<text x="94.1" y="127.7" class="ls">a2</text>
<g clip-path="url(#ca3)">
<rect x="126.7" y="5.7" width="44.4" height="162.4" fill="url(#a3V)" />
<path d="M145,13 H163 V155 H150 C148,100 146,60 145,13 Z" fill="url(#a3H)" opacity="0.6"/>
<path d="M155,13 C160,14 162.7,18 162.7,26 V156 H171.2 V13 Z" fill="url(#a3R)"/>
<path d="M162.7,140 C166,142 168,143 171.2,143 V156 H162.7 Z" fill="url(#a3R2)"/>
<path d="M150,13 C156,13.5 160,16 162,22 L164,22 C163,16 160,13 156,13 Z" fill="#80ec60" opacity="0.8"/>
<path d="M160,13 H171.2 V24 C169,18 166,14 160,13 Z" fill="#3a3000"/>
<path d="M126.7,40 C128,60 128.6,100 128.9,148 L126.7,150 Z" fill="#10103a"/>
<path d="M128,42 C129.5,60 130,100 130.6,136 L128.9,146 C128.6,100 128,60 126.9,40 Z" fill="#2870e8"/>
<path d="M129.4,50 C131,70 131.4,100 131.6,130 L130.6,136 C130,100 129.5,70 128.6,50 Z" fill="#48b8f4"/>
<path d="M126.7,148 L128.9,146 C130,150 134,153.5 144,155.2 C150,155.8 160,156 171.2,156 V168.5 H126.7 Z" fill="#30e440"/>
<path d="M131.2,125 C131.2,140 133,149 139,152.5 C143,154.8 150,155.6 160,155.8 L171.2,156" stroke="#f0fff0" stroke-width="0.9" fill="none" />
<path d="M168.5,19.5 C167.25,19.75 162.9,20.16 161,21 C159.1,21.84 158.42,23.22 157.12,24.51 C155.83,25.81 154.54,27.27 153.25,28.77 C151.96,30.26 150.67,31.89 149.38,33.51 C148.08,35.13 146.79,36.84 145.5,38.5 C144.21,40.16 142.92,41.87 141.62,43.49 C140.33,45.11 139.04,46.74 137.75,48.23 C136.46,49.73 135.17,51.19 133.88,52.49 C132.58,53.78 131.2,55.36 130,56 C128.8,56.64 127.25,56.25 126.7,56.3" stroke="#0f2a2a" stroke-width="0.55" fill="none" />
<path d="M168.5,27.5 C167.25,27.75 162.9,28.23 161,29 C159.1,29.77 158.42,31 157.12,32.15 C155.83,33.29 154.54,34.56 153.25,35.86 C151.96,37.17 150.67,38.56 149.38,39.96 C148.08,41.36 146.79,42.82 145.5,44.25 C144.21,45.68 142.92,47.14 141.62,48.54 C140.33,49.94 139.04,51.33 137.75,52.64 C136.46,53.94 135.17,55.21 133.88,56.35 C132.58,57.5 131.2,58.93 130,59.5 C128.8,60.07 127.25,59.75 126.7,59.8" stroke="#0f2a2a" stroke-width="0.55" fill="none" />
<path d="M168.5,36.5 C167.25,36.75 162.9,37.31 161,38 C159.1,38.69 158.42,39.7 157.12,40.65 C155.83,41.6 154.54,42.64 153.25,43.7 C151.96,44.77 150.67,45.9 149.38,47.03 C148.08,48.17 146.79,49.34 145.5,50.5 C144.21,51.66 142.92,52.83 141.62,53.97 C140.33,55.1 139.04,56.23 137.75,57.3 C136.46,58.36 135.17,59.4 133.88,60.35 C132.58,61.3 131.2,62.51 130,63 C128.8,63.49 127.25,63.25 126.7,63.3" stroke="#0f2a2a" stroke-width="0.55" fill="none" />
<path d="M168.5,45.5 C167.25,45.75 162.9,46.38 161,47 C159.1,47.62 158.42,48.43 157.12,49.22 C155.83,50 154.54,50.85 153.25,51.72 C151.96,52.58 150.67,53.5 149.38,54.41 C148.08,55.32 146.79,56.27 145.5,57.2 C144.21,58.13 142.92,59.08 141.62,59.99 C140.33,60.9 139.04,61.82 137.75,62.68 C136.46,63.55 135.17,64.4 133.88,65.18 C132.58,65.97 131.2,66.98 130,67.4 C128.8,67.82 127.25,67.65 126.7,67.7" stroke="#0f2a2a" stroke-width="0.55" fill="none" />
<path d="M168.5,53.5 C167.25,53.75 162.9,54.44 161,55 C159.1,55.56 158.42,56.21 157.12,56.87 C155.83,57.53 154.54,58.23 153.25,58.94 C151.96,59.65 150.67,60.39 149.38,61.14 C148.08,61.88 146.79,62.65 145.5,63.4 C144.21,64.15 142.92,64.92 141.62,65.66 C140.33,66.41 139.04,67.15 137.75,67.86 C136.46,68.57 135.17,69.27 133.88,69.93 C132.58,70.59 131.2,71.44 130,71.8 C128.8,72.16 127.25,72.05 126.7,72.1" stroke="#0f2a2a" stroke-width="0.55" fill="none" />
<path d="M168.5,60.1 C167.25,60.35 162.9,61.07 161,61.6 C159.1,62.13 158.42,62.69 157.12,63.27 C155.83,63.84 154.54,64.45 153.25,65.07 C151.96,65.68 150.67,66.32 149.38,66.96 C148.08,67.6 146.79,68.25 145.5,68.9 C144.21,69.55 142.92,70.2 141.62,70.84 C140.33,71.48 139.04,72.12 137.75,72.73 C136.46,73.35 135.17,73.96 133.88,74.53 C132.58,75.11 131.2,75.87 130,76.2 C128.8,76.53 127.25,76.45 126.7,76.5" stroke="#0f2a2a" stroke-width="0.55" fill="none" />
<path d="M168.5,67.4 C167.25,67.65 162.9,68.42 161,68.9 C159.1,69.38 158.42,69.8 157.12,70.27 C155.83,70.74 154.54,71.22 153.25,71.72 C151.96,72.21 150.67,72.71 149.38,73.22 C148.08,73.72 146.79,74.24 145.5,74.75 C144.21,75.26 142.92,75.78 141.62,76.28 C140.33,76.79 139.04,77.29 137.75,77.78 C136.46,78.28 135.17,78.76 133.88,79.23 C132.58,79.7 131.2,80.32 130,80.6 C128.8,80.88 127.25,80.85 126.7,80.9" stroke="#0f2a2a" stroke-width="0.55" fill="none" />
<path d="M168.5,74 C167.25,74.25 162.9,75.06 161,75.5 C159.1,75.94 158.42,76.25 157.12,76.64 C155.83,77.02 154.54,77.42 153.25,77.82 C151.96,78.21 150.67,78.62 149.38,79.03 C148.08,79.43 146.79,79.84 145.5,80.25 C144.21,80.66 142.92,81.07 141.62,81.47 C140.33,81.88 139.04,82.29 137.75,82.68 C136.46,83.08 135.17,83.48 133.88,83.86 C132.58,84.25 131.2,84.76 130,85 C128.8,85.24 127.25,85.25 126.7,85.3" stroke="#0f2a2a" stroke-width="0.55" fill="none" />
<path d="M168.5,80.5 C167.25,80.75 162.9,81.6 161,82 C159.1,82.4 158.42,82.6 157.12,82.9 C155.83,83.21 154.54,83.52 153.25,83.83 C151.96,84.14 150.67,84.45 149.38,84.76 C148.08,85.07 146.79,85.39 145.5,85.7 C144.21,86.01 142.92,86.33 141.62,86.64 C140.33,86.95 139.04,87.26 137.75,87.57 C136.46,87.88 135.17,88.19 133.88,88.5 C132.58,88.8 131.2,89.2 130,89.4 C128.8,89.6 127.25,89.65 126.7,89.7" stroke="#0f2a2a" stroke-width="0.55" fill="none" />
<path d="M168.5,87 C167.25,87.25 162.9,88.15 161,88.5 C159.1,88.85 158.42,88.92 157.12,89.12 C155.83,89.33 154.54,89.54 153.25,89.75 C151.96,89.96 150.67,90.17 149.38,90.38 C148.08,90.58 146.79,90.79 145.5,91 C144.21,91.21 142.92,91.42 141.62,91.62 C140.33,91.83 139.04,92.04 137.75,92.25 C136.46,92.46 135.17,92.67 133.88,92.88 C132.58,93.08 131.2,93.35 130,93.5 C128.8,93.65 127.25,93.75 126.7,93.8" stroke="#0f2a2a" stroke-width="0.55" fill="none" />
<path d="M168.5,93.5 C167.25,93.75 162.9,94.68 161,95 C159.1,95.32 158.42,95.29 157.12,95.44 C155.83,95.58 154.54,95.73 153.25,95.88 C151.96,96.02 150.67,96.17 149.38,96.31 C148.08,96.46 146.79,96.6 145.5,96.75 C144.21,96.9 142.92,97.04 141.62,97.19 C140.33,97.33 139.04,97.48 137.75,97.62 C136.46,97.77 135.17,97.92 133.88,98.06 C132.58,98.21 131.2,98.38 130,98.5 C128.8,98.62 127.25,98.75 126.7,98.8" stroke="#0f2a2a" stroke-width="0.55" fill="none" />
<path d="M168.5,101 C167.25,101.25 162.9,102.18 161,102.5 C159.1,102.82 158.42,102.77 157.12,102.91 C155.83,103.05 154.54,103.19 153.25,103.33 C151.96,103.46 150.67,103.6 149.38,103.74 C148.08,103.88 146.79,104.01 145.5,104.15 C144.21,104.29 142.92,104.42 141.62,104.56 C140.33,104.7 139.04,104.84 137.75,104.97 C136.46,105.11 135.17,105.25 133.88,105.39 C132.58,105.53 131.2,105.68 130,105.8 C128.8,105.92 127.25,106.05 126.7,106.1" stroke="#0f2a2a" stroke-width="0.55" fill="none" />
<path d="M168.5,109 C167.25,109.25 162.9,110.18 161,110.5 C159.1,110.82 158.42,110.78 157.12,110.92 C155.83,111.07 154.54,111.21 153.25,111.35 C151.96,111.49 150.67,111.63 149.38,111.78 C148.08,111.92 146.79,112.06 145.5,112.2 C144.21,112.34 142.92,112.48 141.62,112.62 C140.33,112.77 139.04,112.91 137.75,113.05 C136.46,113.19 135.17,113.33 133.88,113.48 C132.58,113.62 131.2,113.78 130,113.9 C128.8,114.02 127.25,114.15 126.7,114.2" stroke="#0f2a2a" stroke-width="0.55" fill="none" />
<path d="M168.5,116.5 C167.25,116.75 162.9,117.68 161,118 C159.1,118.32 158.42,118.27 157.12,118.4 C155.83,118.53 154.54,118.67 153.25,118.8 C151.96,118.93 150.67,119.07 149.38,119.2 C148.08,119.33 146.79,119.47 145.5,119.6 C144.21,119.73 142.92,119.87 141.62,120 C140.33,120.13 139.04,120.27 137.75,120.4 C136.46,120.53 135.17,120.67 133.88,120.8 C132.58,120.93 131.2,121.08 130,121.2 C128.8,121.32 127.25,121.45 126.7,121.5" stroke="#0f2a2a" stroke-width="0.55" fill="none" />
<path d="M168.5,124.1 C167.25,124.35 162.9,125.27 161,125.6 C159.1,125.92 158.42,125.9 157.12,126.05 C155.83,126.2 154.54,126.35 153.25,126.5 C151.96,126.65 150.67,126.8 149.38,126.95 C148.08,127.1 146.79,127.25 145.5,127.4 C144.21,127.55 142.92,127.7 141.62,127.85 C140.33,128 139.04,128.15 137.75,128.3 C136.46,128.45 135.17,128.6 133.88,128.75 C132.58,128.9 131.2,129.07 130,129.2 C128.8,129.32 127.25,129.45 126.7,129.5" stroke="#0f2a2a" stroke-width="0.55" fill="none" />
<path d="M168.5,132.1 C167.25,132.35 162.9,133.24 161,133.6 C159.1,133.96 158.42,134.05 157.12,134.28 C155.83,134.5 154.54,134.72 153.25,134.95 C151.96,135.17 150.67,135.4 149.38,135.62 C148.08,135.85 146.79,136.08 145.5,136.3 C144.21,136.53 142.92,136.75 141.62,136.97 C140.33,137.2 139.04,137.43 137.75,137.65 C136.46,137.88 135.17,138.1 133.88,138.32 C132.58,138.55 131.2,138.84 130,139 C128.8,139.16 127.25,139.25 126.7,139.3" stroke="#0f2a2a" stroke-width="0.55" fill="none" />
<path d="M130.9,42 C131.6,70 131.9,100 131.8,132" stroke="#f0fff8" stroke-width="0.7" fill="none" />
<path d="M126.7,138 C128.5,140 126.5,157 131.5,168.6" stroke="#102a10" stroke-width="0.45" fill="none" />
<path d="M126.7,140.1 C128.6,142.1 129.1,157.6 134.1,168.6" stroke="#102a10" stroke-width="0.45" fill="none" />
<path d="M126.7,142.2 C128.7,144.2 131.7,158.2 136.7,168.6" stroke="#102a10" stroke-width="0.45" fill="none" />
<path d="M126.7,144.3 C128.8,146.3 134.3,158.8 139.3,168.6" stroke="#102a10" stroke-width="0.45" fill="none" />
<path d="M126.7,146.4 C128.9,148.4 136.9,159.4 141.9,168.6" stroke="#102a10" stroke-width="0.45" fill="none" />
<path d="M126.7,148.5 C129,150.5 139.5,160 144.5,168.6" stroke="#102a10" stroke-width="0.45" fill="none" />
<path d="M126.7,150.6 C129.1,152.6 142.1,160.6 147.1,168.6" stroke="#102a10" stroke-width="0.45" fill="none" />
<path d="M126.7,152.7 C129.2,154.7 144.7,161.2 149.7,168.6" stroke="#102a10" stroke-width="0.45" fill="none" />
<path d="M126.7,154.8 C129.3,156.8 147.3,161.8 152.3,168.6" stroke="#102a10" stroke-width="0.45" fill="none" />
<path d="M126.7,156.9 C129.4,158.9 149.9,162.4 154.9,168.6" stroke="#102a10" stroke-width="0.45" fill="none" />
<path d="M126.7,159 C129.5,161 152.5,163 157.5,168.6" stroke="#102a10" stroke-width="0.45" fill="none" />
<path d="M126.7,161.1 C129.6,163.1 155.1,163.6 160.1,168.6" stroke="#102a10" stroke-width="0.45" fill="none" />
<rect x="160" y="166.8" width="11.2" height="1.4" fill="#30b8f0" />
<path d="M149,13.4 C156,14 160.5,18 162.4,27" stroke="#f0fff0" stroke-width="0.8" fill="none" />
</g>
<path d="M131.1,5.7 H149.2 V13 L155.5,15.7 L148.7,15.1 L131.1,13.1 Z" fill="#2a1200"/>
<path d="M131.3,8.1 C133.7,7.7 136.7,8 139.7,8.7 C141.7,9.3 143.2,10.1 144.5,11.3 C145.7,12.3 146.7,13.1 147.7,14.1 L144.7,14.1 C139.7,13.3 135.7,12.9 131.3,12.7 Z" fill="#f0a000"/>
<path d="M132.7,10.3 C135.7,9.5 138.7,10.1 142.2,10.3 M135.7,11.7 C138.7,11.1 141.7,11.9 145.2,12.5" stroke="#5a2800" stroke-width="0.7" fill="none"/>
<path d="M131.1,6 H137.2 C135.7,7.1 133.7,7.7 131.1,7.9 Z" fill="#40c4f0"/>
<path d="M131.1,12.9 C136.7,13.2 142.7,13.9 148.7,14.9 L155.5,15.7" stroke="#f8e010" stroke-width="0.6" fill="none"/>
<rect x="126.7" y="5.7" width="4.4" height="9.3" fill="#0c18e6" />
<line x1="131.3" y1="5.7" x2="131.3" y2="15" stroke="#101040" stroke-width="0.7"/>
<line x1="126.7" y1="15.1" x2="131.3" y2="15.1" stroke="#301030" stroke-width="0.5"/>
<rect x="126.7" y="5.3" width="22.5" height="1" fill="#e020e8" />
<path d="M149.2,5.7 V13 H171.1" stroke="#200818" stroke-width="0.9" fill="none"/>
<line x1="150.2" y1="12.8" x2="171.1" y2="12.8" stroke="#e040e0" stroke-width="0.5"/>
<line x1="126.3" y1="5.3" x2="126.3" y2="171.9" stroke="#2a1030" stroke-width="0.8"/>
<line x1="171.1" y1="13" x2="171.1" y2="168.1" stroke="#401838" stroke-width="0.5" opacity="0.7"/>
<line x1="126.3" y1="168.4" x2="171.4" y2="168.4" stroke="#9a509a" stroke-width="0.9"/>
<line x1="123.1" y1="6.1" x2="126.3" y2="6.1" stroke="#181818" stroke-width="0.8"/>
<line x1="124.5" y1="13.82" x2="126.3" y2="13.82" stroke="#181818" stroke-width="0.8"/>
<line x1="124.5" y1="21.54" x2="126.3" y2="21.54" stroke="#181818" stroke-width="0.8"/>
<line x1="124.5" y1="29.26" x2="126.3" y2="29.26" stroke="#181818" stroke-width="0.8"/>
<line x1="124.5" y1="36.98" x2="126.3" y2="36.98" stroke="#181818" stroke-width="0.8"/>
<line x1="123.1" y1="44.7" x2="126.3" y2="44.7" stroke="#181818" stroke-width="0.8"/>
<line x1="124.5" y1="52.42" x2="126.3" y2="52.42" stroke="#181818" stroke-width="0.8"/>
<line x1="124.5" y1="60.14" x2="126.3" y2="60.14" stroke="#181818" stroke-width="0.8"/>
<line x1="124.5" y1="67.86" x2="126.3" y2="67.86" stroke="#181818" stroke-width="0.8"/>
<line x1="124.5" y1="75.58" x2="126.3" y2="75.58" stroke="#181818" stroke-width="0.8"/>
<line x1="123.1" y1="83.3" x2="126.3" y2="83.3" stroke="#181818" stroke-width="0.8"/>
<line x1="124.5" y1="91.02" x2="126.3" y2="91.02" stroke="#181818" stroke-width="0.8"/>
<line x1="124.5" y1="98.74" x2="126.3" y2="98.74" stroke="#181818" stroke-width="0.8"/>
<line x1="124.5" y1="106.46" x2="126.3" y2="106.46" stroke="#181818" stroke-width="0.8"/>
<line x1="124.5" y1="114.18" x2="126.3" y2="114.18" stroke="#181818" stroke-width="0.8"/>
<line x1="123.1" y1="121.9" x2="126.3" y2="121.9" stroke="#181818" stroke-width="0.8"/>
<line x1="124.5" y1="129.62" x2="126.3" y2="129.62" stroke="#181818" stroke-width="0.8"/>
<line x1="124.5" y1="137.34" x2="126.3" y2="137.34" stroke="#181818" stroke-width="0.8"/>
<line x1="124.5" y1="145.06" x2="126.3" y2="145.06" stroke="#181818" stroke-width="0.8"/>
<line x1="124.5" y1="152.78" x2="126.3" y2="152.78" stroke="#181818" stroke-width="0.8"/>
<line x1="123.1" y1="160.5" x2="126.3" y2="160.5" stroke="#181818" stroke-width="0.8"/>
<line x1="124.5" y1="168.22" x2="126.3" y2="168.22" stroke="#181818" stroke-width="0.8"/>
<line x1="127" y1="168.4" x2="127" y2="171" stroke="#181818" stroke-width="0.8"/>
<line x1="137.9" y1="168.4" x2="137.9" y2="170" stroke="#181818" stroke-width="0.8"/>
<line x1="148.8" y1="168.4" x2="148.8" y2="171" stroke="#181818" stroke-width="0.8"/>
<line x1="159.7" y1="168.4" x2="159.7" y2="170" stroke="#181818" stroke-width="0.8"/>
<line x1="170.6" y1="168.4" x2="170.6" y2="171" stroke="#181818" stroke-width="0.8"/>
<text transform="translate(128.9,183) scale(0.9,1)" class="tk" text-anchor="middle">0</text>
<text transform="translate(150.2,183) scale(0.9,1)" class="tk" text-anchor="middle">2</text>
<text transform="translate(169.9,183) scale(0.9,1)" class="tk" text-anchor="middle">4</text>
<rect x="140.7" y="116.7" width="18.4" height="12" fill="#fff" rx="0.5"/>
<text x="145.3" y="126" class="lt">t</text>
<text x="148.3" y="127.7" class="ls">a3</text>
<g clip-path="url(#ca4)">
<rect x="179" y="5.7" width="45.2" height="162.4" fill="#1ae8f6" />
<rect x="211" y="13" width="13.3" height="150" fill="url(#a4R)" />
<path d="M201.5,13 H224.2 V16 C215,15.5 207,15 201.5,14.5 Z" fill="#e8c000"/>
<path d="M179,148 C190,151 205,156.5 224.2,158.5 V168.5 H179 Z" fill="url(#a4B)"/>
<path d="M200,158 C210,159 217,159 224.2,159 V168.5 H205 Z" fill="#28d8b0" opacity="0.8"/>
<path d="M186.3,13.4 C183.3,21.8 181.3,27.8 181.3,37.4 V146 C181.3,154 178.3,160 176.3,168.6" stroke="#f0fff8" stroke-width="0.7" fill="none" opacity="0.6" transform="translate(0.9,0)"/>
<path d="M186.3,13.4 C183.3,21.8 181.3,27.8 181.3,37.4 V146 C181.3,154 178.3,160 176.3,168.6" stroke="#1a5050" stroke-width="0.45" fill="none" />
<path d="M188.67,13.4 C185.82,21.48 183.92,27.26 183.92,36.5 V146.5 C183.92,154.5 180.59,160.5 178.37,168.6" stroke="#f0fff8" stroke-width="0.7" fill="none" opacity="0.6" transform="translate(0.9,0)"/>
<path d="M188.67,13.4 C185.82,21.48 183.92,27.26 183.92,36.5 V146.5 C183.92,154.5 180.59,160.5 178.37,168.6" stroke="#1a5050" stroke-width="0.45" fill="none" />
<path d="M191.04,13.4 C188.34,21.17 186.54,26.72 186.54,35.6 V147 C186.54,155 182.88,161 180.44,168.6" stroke="#f0fff8" stroke-width="0.7" fill="none" opacity="0.6" transform="translate(0.9,0)"/>
<path d="M191.04,13.4 C188.34,21.17 186.54,26.72 186.54,35.6 V147 C186.54,155 182.88,161 180.44,168.6" stroke="#1a5050" stroke-width="0.45" fill="none" />
<path d="M193.41,13.4 C190.86,20.86 189.16,26.18 189.16,34.7 V147.5 C189.16,155.5 185.17,161.5 182.51,168.6" stroke="#f0fff8" stroke-width="0.7" fill="none" opacity="0.6" transform="translate(0.9,0)"/>
<path d="M193.41,13.4 C190.86,20.86 189.16,26.18 189.16,34.7 V147.5 C189.16,155.5 185.17,161.5 182.51,168.6" stroke="#1a5050" stroke-width="0.45" fill="none" />
<path d="M195.78,13.4 C193.38,20.54 191.78,25.64 191.78,33.8 V148 C191.78,156 187.46,162 184.58,168.6" stroke="#f0fff8" stroke-width="0.7" fill="none" opacity="0.6" transform="translate(0.9,0)"/>
<path d="M195.78,13.4 C193.38,20.54 191.78,25.64 191.78,33.8 V148 C191.78,156 187.46,162 184.58,168.6" stroke="#1a5050" stroke-width="0.45" fill="none" />
<path d="M198.15,13.4 C195.9,20.23 194.4,25.1 194.4,32.9 V148.5 C194.4,156.5 189.75,162.5 186.65,168.6" stroke="#f0fff8" stroke-width="0.7" fill="none" opacity="0.6" transform="translate(0.9,0)"/>
<path d="M198.15,13.4 C195.9,20.23 194.4,25.1 194.4,32.9 V148.5 C194.4,156.5 189.75,162.5 186.65,168.6" stroke="#1a5050" stroke-width="0.45" fill="none" />
<path d="M200.52,13.4 C198.42,19.91 197.02,24.56 197.02,32 V149 C197.02,157 192.04,163 188.72,168.6" stroke="#f0fff8" stroke-width="0.7" fill="none" opacity="0.6" transform="translate(0.9,0)"/>
<path d="M200.52,13.4 C198.42,19.91 197.02,24.56 197.02,32 V149 C197.02,157 192.04,163 188.72,168.6" stroke="#1a5050" stroke-width="0.45" fill="none" />
<path d="M202.89,13.4 C200.94,19.59 199.64,24.02 199.64,31.1 V149.5 C199.64,157.5 194.33,163.5 190.79,168.6" stroke="#f0fff8" stroke-width="0.7" fill="none" opacity="0.6" transform="translate(0.9,0)"/>
<path d="M202.89,13.4 C200.94,19.59 199.64,24.02 199.64,31.1 V149.5 C199.64,157.5 194.33,163.5 190.79,168.6" stroke="#1a5050" stroke-width="0.45" fill="none" />
<path d="M205.26,13.4 C203.46,19.28 202.26,23.48 202.26,30.2 V150 C202.26,158 196.62,164 192.86,168.6" stroke="#f0fff8" stroke-width="0.7" fill="none" opacity="0.6" transform="translate(0.9,0)"/>
<path d="M205.26,13.4 C203.46,19.28 202.26,23.48 202.26,30.2 V150 C202.26,158 196.62,164 192.86,168.6" stroke="#1a5050" stroke-width="0.45" fill="none" />
<path d="M207.63,13.4 C205.98,18.96 204.88,22.94 204.88,29.3 V150.5 C204.88,158.5 198.91,164.5 194.93,168.6" stroke="#f0fff8" stroke-width="0.7" fill="none" opacity="0.6" transform="translate(0.9,0)"/>
<path d="M207.63,13.4 C205.98,18.96 204.88,22.94 204.88,29.3 V150.5 C204.88,158.5 198.91,164.5 194.93,168.6" stroke="#1a5050" stroke-width="0.45" fill="none" />
<path d="M210,13.4 C208.5,18.65 207.5,22.4 207.5,28.4 V151 C207.5,159 201.2,165 197,168.6" stroke="#f0fff8" stroke-width="0.7" fill="none" opacity="0.6" transform="translate(0.9,0)"/>
<path d="M210,13.4 C208.5,18.65 207.5,22.4 207.5,28.4 V151 C207.5,159 201.2,165 197,168.6" stroke="#1a5050" stroke-width="0.45" fill="none" />
<path d="M212.37,13.4 C211.02,18.34 210.12,21.86 210.12,27.5 V151.5 C210.12,159.5 203.49,165.5 199.07,168.6" stroke="#f0fff8" stroke-width="0.7" fill="none" opacity="0.6" transform="translate(0.9,0)"/>
<path d="M212.37,13.4 C211.02,18.34 210.12,21.86 210.12,27.5 V151.5 C210.12,159.5 203.49,165.5 199.07,168.6" stroke="#1a5050" stroke-width="0.45" fill="none" />
<path d="M214.74,13.4 C213.54,18.02 212.74,21.32 212.74,26.6 V152 C212.74,160 205.78,166 201.14,168.6" stroke="#f0fff8" stroke-width="0.7" fill="none" opacity="0.6" transform="translate(0.9,0)"/>
<path d="M214.74,13.4 C213.54,18.02 212.74,21.32 212.74,26.6 V152 C212.74,160 205.78,166 201.14,168.6" stroke="#1a5050" stroke-width="0.45" fill="none" />
<path d="M217.11,13.4 C216.06,17.7 215.36,20.78 215.36,25.7 V152.5 C215.36,160.5 208.07,166.5 203.21,168.6" stroke="#f0fff8" stroke-width="0.7" fill="none" opacity="0.6" transform="translate(0.9,0)"/>
<path d="M217.11,13.4 C216.06,17.7 215.36,20.78 215.36,25.7 V152.5 C215.36,160.5 208.07,166.5 203.21,168.6" stroke="#1a5050" stroke-width="0.45" fill="none" />
<path d="M219.48,13.4 C218.58,17.39 217.98,20.24 217.98,24.8 V153 C217.98,161 210.36,167 205.28,168.6" stroke="#f0fff8" stroke-width="0.7" fill="none" opacity="0.6" transform="translate(0.9,0)"/>
<path d="M219.48,13.4 C218.58,17.39 217.98,20.24 217.98,24.8 V153 C217.98,161 210.36,167 205.28,168.6" stroke="#1a5050" stroke-width="0.45" fill="none" />
<path d="M221.85,13.4 C221.1,17.07 220.6,19.7 220.6,23.9 V153.5 C220.6,161.5 212.65,167.5 207.35,168.6" stroke="#f0fff8" stroke-width="0.7" fill="none" opacity="0.6" transform="translate(0.9,0)"/>
<path d="M221.85,13.4 C221.1,17.07 220.6,19.7 220.6,23.9 V153.5 C220.6,161.5 212.65,167.5 207.35,168.6" stroke="#1a5050" stroke-width="0.45" fill="none" />
<path d="M179,151.6 C192,154 205,157.5 224.2,158.4" stroke="#f4fff8" stroke-width="0.9" fill="none" stroke-dasharray="3,1"/>
</g>
<path d="M183.4,5.7 H201.5 V13 L207.8,15.7 L201,15.1 L183.4,13.1 Z" fill="#2a1200"/>
<path d="M183.6,8.1 C186,7.7 189,8 192,8.7 C194,9.3 195.5,10.1 196.8,11.3 C198,12.3 199,13.1 200,14.1 L197,14.1 C192,13.3 188,12.9 183.6,12.7 Z" fill="#f0a000"/>
<path d="M185,10.3 C188,9.5 191,10.1 194.5,10.3 M188,11.7 C191,11.1 194,11.9 197.5,12.5" stroke="#5a2800" stroke-width="0.7" fill="none"/>
<path d="M183.4,6 H189.5 C188,7.1 186,7.7 183.4,7.9 Z" fill="#40c4f0"/>
<path d="M183.4,12.9 C189,13.2 195,13.9 201,14.9 L207.8,15.7" stroke="#f8e010" stroke-width="0.6" fill="none"/>
<rect x="179" y="5.7" width="4.4" height="9.3" fill="#0c18e6" />
<line x1="183.6" y1="5.7" x2="183.6" y2="15" stroke="#101040" stroke-width="0.7"/>
<line x1="179" y1="15.1" x2="183.6" y2="15.1" stroke="#301030" stroke-width="0.5"/>
<rect x="179" y="5.3" width="22.5" height="1" fill="#e020e8" />
<path d="M201.5,5.7 V13 H224.2" stroke="#200818" stroke-width="0.9" fill="none"/>
<line x1="202.5" y1="12.8" x2="224.2" y2="12.8" stroke="#e040e0" stroke-width="0.5"/>
<line x1="178.6" y1="5.3" x2="178.6" y2="171.9" stroke="#2a1030" stroke-width="0.8"/>
<line x1="224.2" y1="13" x2="224.2" y2="168.1" stroke="#401838" stroke-width="0.5" opacity="0.7"/>
<line x1="178.6" y1="168.4" x2="224.5" y2="168.4" stroke="#9a509a" stroke-width="0.9"/>
<line x1="175.4" y1="6.1" x2="178.6" y2="6.1" stroke="#181818" stroke-width="0.8"/>
<line x1="176.8" y1="13.82" x2="178.6" y2="13.82" stroke="#181818" stroke-width="0.8"/>
<line x1="176.8" y1="21.54" x2="178.6" y2="21.54" stroke="#181818" stroke-width="0.8"/>
<line x1="176.8" y1="29.26" x2="178.6" y2="29.26" stroke="#181818" stroke-width="0.8"/>
<line x1="176.8" y1="36.98" x2="178.6" y2="36.98" stroke="#181818" stroke-width="0.8"/>
<line x1="175.4" y1="44.7" x2="178.6" y2="44.7" stroke="#181818" stroke-width="0.8"/>
<line x1="176.8" y1="52.42" x2="178.6" y2="52.42" stroke="#181818" stroke-width="0.8"/>
<line x1="176.8" y1="60.14" x2="178.6" y2="60.14" stroke="#181818" stroke-width="0.8"/>
<line x1="176.8" y1="67.86" x2="178.6" y2="67.86" stroke="#181818" stroke-width="0.8"/>
<line x1="176.8" y1="75.58" x2="178.6" y2="75.58" stroke="#181818" stroke-width="0.8"/>
<line x1="175.4" y1="83.3" x2="178.6" y2="83.3" stroke="#181818" stroke-width="0.8"/>
<line x1="176.8" y1="91.02" x2="178.6" y2="91.02" stroke="#181818" stroke-width="0.8"/>
<line x1="176.8" y1="98.74" x2="178.6" y2="98.74" stroke="#181818" stroke-width="0.8"/>
<line x1="176.8" y1="106.46" x2="178.6" y2="106.46" stroke="#181818" stroke-width="0.8"/>
<line x1="176.8" y1="114.18" x2="178.6" y2="114.18" stroke="#181818" stroke-width="0.8"/>
<line x1="175.4" y1="121.9" x2="178.6" y2="121.9" stroke="#181818" stroke-width="0.8"/>
<line x1="176.8" y1="129.62" x2="178.6" y2="129.62" stroke="#181818" stroke-width="0.8"/>
<line x1="176.8" y1="137.34" x2="178.6" y2="137.34" stroke="#181818" stroke-width="0.8"/>
<line x1="176.8" y1="145.06" x2="178.6" y2="145.06" stroke="#181818" stroke-width="0.8"/>
<line x1="176.8" y1="152.78" x2="178.6" y2="152.78" stroke="#181818" stroke-width="0.8"/>
<line x1="175.4" y1="160.5" x2="178.6" y2="160.5" stroke="#181818" stroke-width="0.8"/>
<line x1="176.8" y1="168.22" x2="178.6" y2="168.22" stroke="#181818" stroke-width="0.8"/>
<line x1="179.3" y1="168.4" x2="179.3" y2="171" stroke="#181818" stroke-width="0.8"/>
<line x1="190.4" y1="168.4" x2="190.4" y2="170" stroke="#181818" stroke-width="0.8"/>
<line x1="201.5" y1="168.4" x2="201.5" y2="171" stroke="#181818" stroke-width="0.8"/>
<line x1="212.6" y1="168.4" x2="212.6" y2="170" stroke="#181818" stroke-width="0.8"/>
<line x1="223.7" y1="168.4" x2="223.7" y2="171" stroke="#181818" stroke-width="0.8"/>
<text transform="translate(181.2,183) scale(0.9,1)" class="tk" text-anchor="middle">0</text>
<text transform="translate(202.5,183) scale(0.9,1)" class="tk" text-anchor="middle">2</text>
<text transform="translate(223,183) scale(0.9,1)" class="tk" text-anchor="middle">4</text>
<rect x="193" y="116.7" width="18.4" height="12" fill="#fff" rx="0.5"/>
<text x="197.6" y="126" class="lt">t</text>
<text x="200.6" y="127.7" class="ls">a4</text>
<g clip-path="url(#ca5)">
<rect x="233" y="5.7" width="45.8" height="162.4" fill="#22e8c8" />
<path d="M233,13 H273.4 V105 C273,125 268,140 252,148 C245,151 238,152 233,152.5 Z" fill="#12eeec"/>
<path d="M233,13 H259.4 V92 C259,112 254,130 244,140 C240,144 236,146 233,147 Z" fill="#12d8fa"/>
<rect x="275.5" y="13" width="3.3" height="145" fill="url(#a5R)" />
<path d="M233,146 C242,146 252,149 262,152 C268,154 273,156 278.8,157 V168.5 H233 Z" fill="#30e498"/>
<path d="M248,155.5 C260,157.5 270,158.5 278.8,158.5 V168.5 H244 C246,163 247,159 248,155.5 Z" fill="url(#a5BR)"/>
<path d="M260,158.8 C267,159.6 272,160 278.8,160 V162.5 C272,162.5 266,161.8 260,160.6 Z" fill="#30a8f4" opacity="0.5"/>
<path d="M233,153.2 C245,154.6 258,157 268,158 L278.8,158.6" stroke="#f0fff8" stroke-width="0.9" fill="none" />
</g>
<path d="M237.4,5.7 H255.5 V13 L261.8,15.7 L255,15.1 L237.4,13.1 Z" fill="#2a1200"/>
<path d="M237.6,8.1 C240,7.7 243,8 246,8.7 C248,9.3 249.5,10.1 250.8,11.3 C252,12.3 253,13.1 254,14.1 L251,14.1 C246,13.3 242,12.9 237.6,12.7 Z" fill="#f0a000"/>
<path d="M239,10.3 C242,9.5 245,10.1 248.5,10.3 M242,11.7 C245,11.1 248,11.9 251.5,12.5" stroke="#5a2800" stroke-width="0.7" fill="none"/>
<path d="M237.4,6 H243.5 C242,7.1 240,7.7 237.4,7.9 Z" fill="#40c4f0"/>
<path d="M237.4,12.9 C243,13.2 249,13.9 255,14.9 L261.8,15.7" stroke="#f8e010" stroke-width="0.6" fill="none"/>
<rect x="233" y="5.7" width="4.4" height="9.3" fill="#0c18e6" />
<line x1="237.6" y1="5.7" x2="237.6" y2="15" stroke="#101040" stroke-width="0.7"/>
<line x1="233" y1="15.1" x2="237.6" y2="15.1" stroke="#301030" stroke-width="0.5"/>
<rect x="233" y="5.3" width="22.5" height="1" fill="#e020e8" />
<path d="M255.5,5.7 V13 H278.8" stroke="#200818" stroke-width="0.9" fill="none"/>
<line x1="256.5" y1="12.8" x2="278.8" y2="12.8" stroke="#e040e0" stroke-width="0.5"/>
<line x1="232.6" y1="5.3" x2="232.6" y2="171.9" stroke="#2a1030" stroke-width="0.8"/>
<line x1="278.8" y1="13" x2="278.8" y2="168.1" stroke="#401838" stroke-width="0.5" opacity="0.7"/>
<line x1="232.6" y1="168.4" x2="279.1" y2="168.4" stroke="#9a509a" stroke-width="0.9"/>
<line x1="229.4" y1="6.1" x2="232.6" y2="6.1" stroke="#181818" stroke-width="0.8"/>
<line x1="230.8" y1="13.82" x2="232.6" y2="13.82" stroke="#181818" stroke-width="0.8"/>
<line x1="230.8" y1="21.54" x2="232.6" y2="21.54" stroke="#181818" stroke-width="0.8"/>
<line x1="230.8" y1="29.26" x2="232.6" y2="29.26" stroke="#181818" stroke-width="0.8"/>
<line x1="230.8" y1="36.98" x2="232.6" y2="36.98" stroke="#181818" stroke-width="0.8"/>
<line x1="229.4" y1="44.7" x2="232.6" y2="44.7" stroke="#181818" stroke-width="0.8"/>
<line x1="230.8" y1="52.42" x2="232.6" y2="52.42" stroke="#181818" stroke-width="0.8"/>
<line x1="230.8" y1="60.14" x2="232.6" y2="60.14" stroke="#181818" stroke-width="0.8"/>
<line x1="230.8" y1="67.86" x2="232.6" y2="67.86" stroke="#181818" stroke-width="0.8"/>
<line x1="230.8" y1="75.58" x2="232.6" y2="75.58" stroke="#181818" stroke-width="0.8"/>
<line x1="229.4" y1="83.3" x2="232.6" y2="83.3" stroke="#181818" stroke-width="0.8"/>
<line x1="230.8" y1="91.02" x2="232.6" y2="91.02" stroke="#181818" stroke-width="0.8"/>
<line x1="230.8" y1="98.74" x2="232.6" y2="98.74" stroke="#181818" stroke-width="0.8"/>
<line x1="230.8" y1="106.46" x2="232.6" y2="106.46" stroke="#181818" stroke-width="0.8"/>
<line x1="230.8" y1="114.18" x2="232.6" y2="114.18" stroke="#181818" stroke-width="0.8"/>
<line x1="229.4" y1="121.9" x2="232.6" y2="121.9" stroke="#181818" stroke-width="0.8"/>
<line x1="230.8" y1="129.62" x2="232.6" y2="129.62" stroke="#181818" stroke-width="0.8"/>
<line x1="230.8" y1="137.34" x2="232.6" y2="137.34" stroke="#181818" stroke-width="0.8"/>
<line x1="230.8" y1="145.06" x2="232.6" y2="145.06" stroke="#181818" stroke-width="0.8"/>
<line x1="230.8" y1="152.78" x2="232.6" y2="152.78" stroke="#181818" stroke-width="0.8"/>
<line x1="229.4" y1="160.5" x2="232.6" y2="160.5" stroke="#181818" stroke-width="0.8"/>
<line x1="230.8" y1="168.22" x2="232.6" y2="168.22" stroke="#181818" stroke-width="0.8"/>
<line x1="233.3" y1="168.4" x2="233.3" y2="171" stroke="#181818" stroke-width="0.8"/>
<line x1="244.55" y1="168.4" x2="244.55" y2="170" stroke="#181818" stroke-width="0.8"/>
<line x1="255.8" y1="168.4" x2="255.8" y2="171" stroke="#181818" stroke-width="0.8"/>
<line x1="267.05" y1="168.4" x2="267.05" y2="170" stroke="#181818" stroke-width="0.8"/>
<line x1="278.3" y1="168.4" x2="278.3" y2="171" stroke="#181818" stroke-width="0.8"/>
<text transform="translate(235.2,183) scale(0.9,1)" class="tk" text-anchor="middle">0</text>
<text transform="translate(256.5,183) scale(0.9,1)" class="tk" text-anchor="middle">2</text>
<text transform="translate(277.6,183) scale(0.9,1)" class="tk" text-anchor="middle">4</text>
<rect x="247" y="116.7" width="18.4" height="12" fill="#fff" rx="0.5"/>
<text x="251.6" y="126" class="lt">t</text>
<text x="254.6" y="127.7" class="ls">a5</text>
<g clip-path="url(#cb1)">
<rect x="19.6" y="200.1" width="45.4" height="162.2" fill="#3ad828" />
<path d="M19.6,207.4 H33.44 L36.8,284.4 V344.4 H19.6 Z" fill="url(#g1b1L)"/>
<path d="M33.44,207.4 H47.49 V344.4 H36.8 V284.4 Z" fill="url(#g1b1M)"/>
<path d="M22.04,207.4 H47.49 V215.4 C42.4,216.9 36.29,216.4 33.24,216.2 L29.68,212.4 H22.04 Z" fill="#38c8f6"/>
<ellipse cx="35.28" cy="211.4" rx="5.09" ry="2.8" fill="#28b0f2"/>
<path d="M19.6,207.4 H24.08 V212.4 H19.6 Z" fill="#18e0ee"/>
<rect x="46.27" y="207.4" width="2.65" height="137" fill="#50e828" />
<path d="M48.92,207.4 H66 V343.4 H53.6 Q48.92,343.4 48.92,338.4 Z" fill="url(#g1b1Y)"/>
<path d="M50.32,208.4 C50.35,209.29 50.56,212.11 50.49,213.71 C50.42,215.31 49.95,216.49 49.89,218 C49.83,219.51 50.03,221.02 50.13,222.75 C50.24,224.48 50.47,226.57 50.52,228.37 C50.56,230.17 50.48,231.82 50.4,233.57 C50.31,235.33 50.08,237.2 50.02,238.9 C49.96,240.6 50.05,241.86 50.03,243.78 C50.02,245.69 50.22,248.63 49.93,250.4 C49.65,252.17 48.44,253.53 48.31,254.4 C48.17,255.27 48.98,255.4 49.12,255.6" stroke="#5a4a00" stroke-width="0.4" fill="none" opacity="0.55"/>
<path d="M50.11,208.4 C50.11,209.34 50.08,212.2 50.12,214.04 C50.17,215.87 50.25,217.71 50.36,219.41 C50.48,221.11 50.87,222.75 50.83,224.22 C50.79,225.7 50.16,226.61 50.11,228.26 C50.06,229.9 50.38,232.42 50.52,234.09 C50.66,235.76 51.02,236.59 50.96,238.27 C50.9,239.95 50.29,242.37 50.16,244.16 C50.03,245.95 50.19,247.22 50.18,249.01 C50.17,250.8 50.39,253.25 50.11,254.9 C49.82,256.55 48.64,258.03 48.48,258.9 C48.31,259.77 49.01,259.9 49.12,260.1" stroke="#5a4a00" stroke-width="0.4" fill="none" opacity="0.55"/>
<path d="M50.94,208.4 C50.95,209.12 51.08,211.32 51.01,212.73 C50.94,214.13 50.57,215.21 50.53,216.83 C50.48,218.45 50.67,220.72 50.74,222.46 C50.8,224.21 50.92,225.67 50.92,227.3 C50.91,228.93 50.7,230.75 50.72,232.25 C50.74,233.75 50.95,234.65 51.04,236.31 C51.13,237.98 51.32,240.37 51.26,242.25 C51.21,244.13 50.74,245.9 50.7,247.58 C50.65,249.25 51.05,250.33 51,252.3 C50.96,254.27 50.79,257.55 50.42,259.4 C50.05,261.25 49.01,262.53 48.79,263.4 C48.58,264.27 49.07,264.4 49.12,264.6" stroke="#5a4a00" stroke-width="0.4" fill="none" opacity="0.55"/>
<path d="M50.88,208.4 C50.92,209.14 51,211.29 51.11,212.87 C51.22,214.45 51.57,216.22 51.52,217.89 C51.47,219.56 50.86,221.12 50.8,222.89 C50.75,224.67 51.14,226.76 51.17,228.54 C51.2,230.32 50.99,231.93 50.98,233.58 C50.97,235.22 51.15,236.7 51.13,238.43 C51.12,240.16 50.9,242.2 50.87,243.97 C50.84,245.75 50.95,247.33 50.94,249.07 C50.93,250.82 50.79,252.81 50.81,254.47 C50.84,256.12 51.09,257.45 51.09,259.02 C51.1,260.59 51.14,262.42 50.83,263.9 C50.51,265.38 49.48,267.03 49.2,267.9 C48.92,268.77 49.13,268.9 49.12,269.1" stroke="#5a4a00" stroke-width="0.4" fill="none" opacity="0.55"/>
<path d="M51.31,208.4 C51.33,209.22 51.39,211.74 51.45,213.32 C51.52,214.9 51.65,216.14 51.7,217.88 C51.74,219.63 51.75,221.83 51.7,223.8 C51.65,225.77 51.43,227.75 51.41,229.71 C51.4,231.67 51.51,233.86 51.59,235.56 C51.68,237.26 52,238.24 51.95,239.94 C51.89,241.64 51.26,244.04 51.27,245.76 C51.27,247.49 51.93,248.76 51.97,250.3 C52,251.84 51.59,253.53 51.48,254.98 C51.37,256.43 51.18,257.46 51.3,259 C51.41,260.54 52.16,262.67 52.16,264.24 C52.16,265.8 51.72,267.04 51.31,268.4 C50.9,269.76 50.05,271.53 49.68,272.4 C49.32,273.27 49.21,273.4 49.12,273.6" stroke="#5a4a00" stroke-width="0.4" fill="none" opacity="0.55"/>
<path d="M52.27,208.4 C52.24,209.07 52.05,210.84 52.1,212.45 C52.15,214.05 52.58,216.21 52.57,218.02 C52.56,219.83 52.07,221.58 52.02,223.3 C51.96,225.02 52.24,226.64 52.24,228.36 C52.25,230.07 51.98,231.75 52.05,233.61 C52.11,235.47 52.62,237.8 52.63,239.5 C52.63,241.21 52.17,242.15 52.07,243.83 C51.98,245.51 52.03,247.63 52.06,249.57 C52.1,251.51 52.21,253.58 52.28,255.46 C52.34,257.34 52.49,259.22 52.45,260.85 C52.42,262.49 52.17,263.27 52.07,265.28 C51.97,267.29 52.16,270.96 51.86,272.9 C51.55,274.84 50.69,276.03 50.23,276.9 C49.77,277.77 49.31,277.9 49.12,278.1" stroke="#5a4a00" stroke-width="0.4" fill="none" opacity="0.55"/>
<path d="M53.04,208.4 C52.95,209.3 52.57,211.93 52.53,213.79 C52.49,215.65 52.75,217.85 52.8,219.56 C52.84,221.27 52.79,222.3 52.81,224.04 C52.83,225.78 52.85,228.13 52.93,230 C53,231.87 53.22,233.39 53.26,235.25 C53.29,237.11 53.16,239.38 53.11,241.18 C53.06,242.97 52.95,244.24 52.95,246.01 C52.96,247.78 53.17,249.99 53.14,251.81 C53.1,253.64 52.74,255.32 52.73,256.97 C52.72,258.62 53.14,260.07 53.09,261.71 C53.04,263.35 52.4,265.08 52.43,266.84 C52.45,268.59 53.23,270.5 53.24,272.26 C53.25,274.02 52.86,275.88 52.46,277.4 C52.06,278.92 51.39,280.53 50.83,281.4 C50.28,282.27 49.41,282.4 49.12,282.6" stroke="#5a4a00" stroke-width="0.4" fill="none" opacity="0.55"/>
<path d="M53.89,208.4 C53.84,209.37 53.64,212.32 53.56,214.22 C53.48,216.12 53.45,218.17 53.42,219.8 C53.39,221.43 53.31,222.53 53.39,224 C53.48,225.47 53.9,226.95 53.93,228.62 C53.95,230.29 53.69,232.23 53.57,234 C53.44,235.77 53.16,237.52 53.18,239.24 C53.21,240.96 53.69,242.67 53.71,244.31 C53.73,245.95 53.35,247.5 53.3,249.1 C53.24,250.7 53.38,252.22 53.37,253.91 C53.35,255.61 53.2,257.69 53.2,259.28 C53.2,260.88 53.26,261.87 53.36,263.46 C53.45,265.06 53.67,267.07 53.77,268.86 C53.86,270.64 54.03,272 53.93,274.18 C53.82,276.35 53.53,279.95 53.12,281.9 C52.72,283.85 52.16,285.03 51.49,285.9 C50.83,286.77 49.52,286.9 49.12,287.1" stroke="#5a4a00" stroke-width="0.4" fill="none" opacity="0.55"/>
<path d="M53.8,208.4 C53.87,209.23 54.09,211.82 54.18,213.38 C54.28,214.93 54.42,216.23 54.39,217.73 C54.36,219.24 53.95,220.86 54,222.42 C54.04,223.97 54.62,225.63 54.64,227.07 C54.66,228.52 54.22,229.66 54.11,231.09 C53.99,232.52 53.98,234.08 53.96,235.65 C53.94,237.22 53.93,238.73 53.98,240.51 C54.02,242.3 54.25,244.48 54.24,246.35 C54.23,248.22 53.91,250.02 53.93,251.75 C53.94,253.47 54.32,254.91 54.33,256.67 C54.35,258.44 53.97,260.59 54.01,262.36 C54.04,264.13 54.56,265.52 54.56,267.28 C54.56,269.04 54,271.15 53.99,272.94 C53.97,274.73 54.5,275.78 54.47,278.02 C54.45,280.26 54.21,284.34 53.83,286.4 C53.45,288.46 52.98,289.53 52.2,290.4 C51.41,291.27 49.63,291.4 49.12,291.6" stroke="#5a4a00" stroke-width="0.4" fill="none" opacity="0.55"/>
<path d="M55.15,208.4 C55.19,209.29 55.42,211.99 55.42,213.73 C55.42,215.47 55.19,217.2 55.15,218.83 C55.12,220.47 55.23,221.98 55.2,223.53 C55.17,225.09 55.05,226.62 54.99,228.18 C54.92,229.74 54.85,231.4 54.81,232.9 C54.77,234.4 54.74,235.61 54.74,237.17 C54.73,238.73 54.67,240.73 54.76,242.26 C54.85,243.79 55.16,244.91 55.27,246.35 C55.37,247.8 55.45,249.3 55.39,250.92 C55.32,252.55 54.89,254.3 54.89,256.12 C54.88,257.95 55.39,260.14 55.35,261.87 C55.31,263.6 54.65,264.86 54.64,266.51 C54.64,268.16 55.2,270.04 55.3,271.79 C55.4,273.54 55.28,275.34 55.25,277.01 C55.21,278.68 55.15,280.28 55.1,281.83 C55.04,283.39 54.99,284.85 54.9,286.36 C54.82,287.87 54.91,289.48 54.58,290.9 C54.26,292.32 53.86,294.03 52.95,294.9 C52.04,295.77 49.76,295.9 49.12,296.1" stroke="#5a4a00" stroke-width="0.4" fill="none" opacity="0.55"/>
<path d="M55.68,208.4 C55.74,209.2 56.09,211.68 56.06,213.2 C56.04,214.72 55.49,216.06 55.51,217.54 C55.54,219.01 56.24,220.46 56.21,222.05 C56.19,223.64 55.39,225.31 55.37,227.09 C55.36,228.88 56.08,230.88 56.13,232.76 C56.17,234.65 55.74,236.55 55.65,238.41 C55.57,240.26 55.53,242.25 55.61,243.88 C55.68,245.5 56.13,246.49 56.12,248.15 C56.1,249.81 55.65,251.91 55.52,253.82 C55.39,255.72 55.38,257.85 55.35,259.58 C55.32,261.31 55.32,262.7 55.34,264.19 C55.36,265.69 55.43,266.91 55.47,268.54 C55.52,270.16 55.59,272.33 55.6,273.97 C55.6,275.6 55.41,276.85 55.49,278.35 C55.58,279.85 56.13,281.33 56.12,282.97 C56.1,284.61 55.54,286.11 55.42,288.18 C55.3,290.26 55.65,293.53 55.38,295.4 C55.1,297.27 54.79,298.53 53.75,299.4 C52.7,300.27 49.89,300.4 49.12,300.6" stroke="#5a4a00" stroke-width="0.4" fill="none" opacity="0.55"/>
<path d="M56.65,208.4 C56.65,209.22 56.6,211.6 56.64,213.3 C56.69,215 56.88,216.88 56.89,218.6 C56.91,220.32 56.77,221.95 56.74,223.61 C56.72,225.27 56.78,226.93 56.74,228.55 C56.71,230.16 56.53,231.69 56.54,233.32 C56.55,234.96 56.74,236.76 56.82,238.36 C56.89,239.95 56.99,241.32 57.01,242.91 C57.03,244.5 56.94,246.17 56.95,247.9 C56.95,249.62 57.1,251.49 57.04,253.28 C56.97,255.07 56.61,256.95 56.55,258.64 C56.5,260.34 56.66,261.73 56.72,263.45 C56.78,265.17 57.01,267.33 56.93,268.96 C56.85,270.59 56.33,271.81 56.22,273.22 C56.1,274.63 56.25,276.05 56.24,277.44 C56.23,278.82 56.16,280.11 56.17,281.55 C56.17,282.98 56.17,284.4 56.27,286.05 C56.36,287.69 56.73,289.11 56.73,291.42 C56.72,293.73 56.57,297.82 56.21,299.9 C55.86,301.98 55.77,303.03 54.58,303.9 C53.4,304.77 50.03,304.9 49.12,305.1" stroke="#5a4a00" stroke-width="0.4" fill="none" opacity="0.55"/>
<path d="M57.92,208.4 C57.91,209.32 58.02,212.3 57.91,213.89 C57.79,215.49 57.32,216.3 57.25,217.95 C57.17,219.6 57.39,222.09 57.47,223.8 C57.55,225.51 57.72,226.67 57.73,228.22 C57.74,229.76 57.61,231.48 57.53,233.06 C57.46,234.64 57.25,236.23 57.26,237.69 C57.27,239.16 57.48,240.19 57.59,241.87 C57.71,243.55 57.89,245.87 57.94,247.77 C57.99,249.68 58,251.6 57.89,253.3 C57.79,255.01 57.36,256.27 57.31,258.03 C57.26,259.79 57.63,262.01 57.59,263.88 C57.54,265.74 57.07,267.58 57.05,269.21 C57.03,270.85 57.35,272.02 57.48,273.67 C57.6,275.32 57.82,277.3 57.79,279.13 C57.77,280.96 57.34,282.93 57.35,284.65 C57.35,286.36 57.8,287.62 57.83,289.41 C57.85,291.2 57.52,293.66 57.48,295.39 C57.44,297.12 57.67,298.28 57.61,299.78 C57.54,301.28 57.45,302.96 57.09,304.4 C56.73,305.84 56.79,307.53 55.46,308.4 C54.13,309.27 50.18,309.4 49.12,309.6" stroke="#5a4a00" stroke-width="0.4" fill="none" opacity="0.55"/>
<path d="M58.28,208.4 C58.28,209.14 58.34,211.25 58.3,212.86 C58.27,214.48 57.98,216.37 58.07,218.09 C58.15,219.8 58.8,221.41 58.82,223.17 C58.84,224.93 58.31,226.94 58.18,228.66 C58.05,230.38 57.98,231.78 58.04,233.49 C58.1,235.21 58.46,237.33 58.53,238.97 C58.6,240.61 58.46,241.72 58.45,243.31 C58.44,244.9 58.51,246.85 58.48,248.51 C58.44,250.16 58.17,251.69 58.23,253.26 C58.3,254.84 58.83,256.41 58.86,257.97 C58.89,259.53 58.54,261.04 58.41,262.63 C58.28,264.23 58.15,265.93 58.11,267.55 C58.06,269.17 58.11,270.78 58.14,272.35 C58.17,273.93 58.17,275.44 58.29,277 C58.4,278.55 58.81,280.15 58.81,281.7 C58.8,283.25 58.34,284.64 58.25,286.29 C58.17,287.94 58.26,289.88 58.31,291.61 C58.36,293.33 58.5,295.11 58.54,296.64 C58.58,298.17 58.65,298.74 58.56,300.78 C58.47,302.83 58.37,306.88 58,308.9 C57.63,310.92 57.85,312.03 56.37,312.9 C54.89,313.77 50.33,313.9 49.12,314.1" stroke="#5a4a00" stroke-width="0.4" fill="none" opacity="0.55"/>
<path d="M59.13,208.4 C59.24,209.34 59.82,212.19 59.8,214.02 C59.79,215.85 59.16,217.66 59.05,219.37 C58.95,221.07 59.15,222.48 59.16,224.24 C59.17,226 59.06,228.25 59.11,229.93 C59.17,231.61 59.43,232.71 59.48,234.32 C59.54,235.93 59.39,237.89 59.44,239.59 C59.49,241.3 59.72,242.9 59.78,244.55 C59.83,246.2 59.83,247.85 59.76,249.47 C59.68,251.08 59.36,252.67 59.32,254.25 C59.29,255.83 59.59,257.27 59.55,258.97 C59.52,260.67 59.11,262.71 59.12,264.47 C59.12,266.23 59.5,267.85 59.56,269.52 C59.63,271.2 59.51,272.82 59.5,274.53 C59.5,276.23 59.61,278.1 59.55,279.76 C59.5,281.42 59.15,283.01 59.18,284.47 C59.21,285.93 59.7,286.92 59.71,288.52 C59.73,290.12 59.25,292.18 59.26,294.1 C59.26,296.02 59.66,298.33 59.72,300.03 C59.79,301.74 59.75,302.81 59.66,304.34 C59.57,305.86 59.3,307.67 59.19,309.18 C59.07,310.69 59.26,312.03 58.95,313.4 C58.64,314.77 58.96,316.53 57.32,317.4 C55.68,318.27 50.49,318.4 49.12,318.6" stroke="#5a4a00" stroke-width="0.4" fill="none" opacity="0.55"/>
<path d="M60.26,208.4 C60.2,209.08 59.94,211.11 59.93,212.5 C59.91,213.89 60.15,215.31 60.16,216.74 C60.17,218.16 59.98,219.39 59.99,221.05 C60,222.72 60.15,224.94 60.23,226.72 C60.3,228.49 60.47,229.89 60.43,231.7 C60.4,233.51 59.97,235.84 60.01,237.56 C60.05,239.29 60.55,240.31 60.67,242.02 C60.79,243.73 60.81,246.03 60.73,247.84 C60.66,249.65 60.22,251.32 60.22,252.9 C60.21,254.47 60.69,255.62 60.71,257.27 C60.74,258.93 60.48,260.95 60.39,262.8 C60.29,264.66 60.06,266.61 60.12,268.39 C60.17,270.16 60.66,271.91 60.71,273.46 C60.77,275 60.46,276.24 60.45,277.67 C60.44,279.1 60.64,280.37 60.65,282.04 C60.65,283.72 60.6,285.96 60.47,287.72 C60.35,289.48 59.94,290.95 59.9,292.59 C59.86,294.24 60.2,295.95 60.21,297.58 C60.22,299.21 59.93,300.61 59.95,302.38 C59.98,304.16 60.24,306.4 60.36,308.22 C60.48,310.05 60.72,311.73 60.65,313.35 C60.58,314.96 60.32,316.47 59.93,317.9 C59.54,319.33 60.1,321.03 58.3,321.9 C56.5,322.77 50.65,322.9 49.12,323.1" stroke="#5a4a00" stroke-width="0.4" fill="none" opacity="0.55"/>
<path d="M61.4,208.4 C61.45,209.25 61.62,211.85 61.67,213.49 C61.73,215.13 61.73,216.77 61.72,218.23 C61.71,219.7 61.67,220.76 61.63,222.28 C61.58,223.8 61.55,225.5 61.47,227.34 C61.38,229.18 61.07,231.52 61.1,233.32 C61.12,235.12 61.58,236.41 61.63,238.13 C61.68,239.85 61.4,241.79 61.38,243.63 C61.36,245.47 61.5,247.3 61.52,249.18 C61.54,251.06 61.55,253.17 61.49,254.92 C61.43,256.66 61.24,258.16 61.16,259.65 C61.08,261.13 60.9,262.43 61.01,263.81 C61.11,265.18 61.72,266.5 61.79,267.89 C61.86,269.29 61.45,270.75 61.45,272.18 C61.45,273.6 61.85,274.89 61.78,276.44 C61.72,278 61.07,279.72 61.06,281.51 C61.04,283.3 61.68,285.23 61.68,287.16 C61.69,289.1 61.13,291.33 61.1,293.12 C61.07,294.91 61.45,296.36 61.5,297.92 C61.55,299.49 61.4,300.83 61.42,302.49 C61.43,304.15 61.56,306.05 61.58,307.89 C61.61,309.73 61.58,311.84 61.58,313.54 C61.59,315.24 61.69,316.63 61.59,318.11 C61.48,319.59 61.33,321.02 60.95,322.4 C60.57,323.78 61.29,325.53 59.32,326.4 C57.35,327.27 50.82,327.4 49.12,327.6" stroke="#5a4a00" stroke-width="0.4" fill="none" opacity="0.55"/>
<path d="M62.1,208.4 C62.17,209.07 62.53,210.98 62.51,212.44 C62.5,213.9 62.06,215.54 62.03,217.16 C62,218.77 62.25,220.53 62.32,222.14 C62.4,223.74 62.45,225.17 62.46,226.79 C62.48,228.41 62.38,230.02 62.43,231.87 C62.48,233.71 62.72,236.08 62.77,237.84 C62.83,239.6 62.74,240.9 62.74,242.44 C62.75,243.98 62.89,245.61 62.8,247.07 C62.72,248.53 62.28,249.52 62.24,251.18 C62.19,252.85 62.57,255.17 62.55,257.05 C62.53,258.93 62.09,260.85 62.13,262.46 C62.18,264.07 62.83,265.31 62.82,266.7 C62.82,268.1 62.13,269.34 62.11,270.83 C62.08,272.33 62.57,273.99 62.7,275.7 C62.82,277.4 62.92,279.24 62.86,281.05 C62.8,282.87 62.45,284.72 62.35,286.61 C62.24,288.51 62.16,290.78 62.23,292.44 C62.31,294.09 62.77,294.9 62.82,296.54 C62.88,298.18 62.67,300.51 62.55,302.3 C62.43,304.09 62.22,305.7 62.13,307.26 C62.04,308.83 61.96,310.26 62.01,311.7 C62.05,313.14 62.25,314.22 62.38,315.89 C62.52,317.55 62.86,319.85 62.8,321.68 C62.73,323.52 62.4,325.36 62,326.9 C61.59,328.44 62.51,330.03 60.37,330.9 C58.22,331.77 50.99,331.9 49.12,332.1" stroke="#5a4a00" stroke-width="0.4" fill="none" opacity="0.55"/>
<path d="M63.64,208.4 C63.66,209.22 63.69,211.61 63.74,213.34 C63.78,215.06 63.94,216.9 63.93,218.75 C63.91,220.6 63.77,222.63 63.65,224.44 C63.52,226.25 63.21,227.93 63.18,229.62 C63.14,231.31 63.43,233.02 63.43,234.56 C63.44,236.11 63.25,237.35 63.21,238.87 C63.17,240.39 63.17,242.02 63.19,243.69 C63.2,245.37 63.25,247.07 63.33,248.94 C63.4,250.81 63.64,253.08 63.65,254.92 C63.67,256.75 63.5,258.32 63.42,259.95 C63.35,261.59 63.13,262.95 63.21,264.74 C63.28,266.52 63.79,268.79 63.86,270.66 C63.93,272.53 63.68,274.36 63.62,275.96 C63.56,277.56 63.57,278.81 63.52,280.25 C63.47,281.69 63.38,283 63.32,284.58 C63.27,286.17 63.12,288.15 63.18,289.76 C63.24,291.36 63.58,292.65 63.69,294.22 C63.8,295.8 63.94,297.65 63.84,299.19 C63.74,300.74 63.15,301.81 63.11,303.51 C63.06,305.21 63.51,307.51 63.58,309.39 C63.65,311.27 63.48,313.16 63.53,314.78 C63.59,316.39 63.87,317.52 63.92,319.07 C63.97,320.62 64,322.01 63.86,324.06 C63.72,326.12 63.48,329.51 63.08,331.4 C62.67,333.29 63.77,334.53 61.45,335.4 C59.12,336.27 51.17,336.4 49.12,336.6" stroke="#5a4a00" stroke-width="0.4" fill="none" opacity="0.55"/>
<path d="M64.39,208.4 C64.38,209.25 64.36,211.7 64.36,213.5 C64.36,215.3 64.39,217.57 64.37,219.22 C64.36,220.86 64.18,221.93 64.28,223.38 C64.39,224.83 64.93,226.2 65,227.92 C65.08,229.64 64.89,231.91 64.75,233.68 C64.61,235.44 64.26,236.78 64.17,238.53 C64.09,240.28 64.19,242.51 64.25,244.19 C64.31,245.87 64.52,246.9 64.53,248.59 C64.54,250.28 64.23,252.68 64.3,254.32 C64.37,255.96 64.88,257.09 64.97,258.44 C65.05,259.8 64.9,261.08 64.81,262.46 C64.71,263.84 64.45,265.29 64.41,266.74 C64.36,268.19 64.45,269.45 64.54,271.16 C64.62,272.86 64.96,275.18 64.9,277 C64.85,278.82 64.3,280.5 64.22,282.07 C64.13,283.64 64.28,284.76 64.41,286.42 C64.53,288.08 64.97,290.4 64.97,292.01 C64.98,293.62 64.56,294.4 64.44,296.06 C64.32,297.72 64.28,300.3 64.27,301.98 C64.26,303.66 64.36,304.48 64.38,306.14 C64.4,307.8 64.4,310.05 64.38,311.92 C64.35,313.79 64.26,315.57 64.24,317.36 C64.23,319.15 64.19,320.93 64.29,322.68 C64.38,324.43 64.83,325.66 64.81,327.87 C64.8,330.07 64.56,333.89 64.19,335.9 C63.81,337.91 65.07,339.03 62.56,339.9 C60.05,340.77 51.36,340.9 49.12,341.1" stroke="#5a4a00" stroke-width="0.4" fill="none" opacity="0.55"/>
<path d="M49.43,208.4 V338.4 Q49.43,343.9 53.6,343.9 H66" stroke="#fcf890" stroke-width="0.9" fill="none" />
<path d="M36.8,334.4 H48.92 V338.4 Q48.92,343.4 53.6,343.4 H66 V347.8 H41.38 Q36.8,347.8 36.8,343.4 Z" fill="#22f02a"/>
<path d="M19.6,344.4 H36.8 Q36.8,347.8 41.38,347.8 H66 V363.4 H19.6 Z" fill="url(#g1b1B)"/>
<path d="M19.6,212.3 H29.68 L33.44,216.4 L36.5,284.4 V343.4 Q36.5,347.8 41.38,347.8 H66" stroke="#e8fff0" stroke-width="0.75" fill="none" />
<path d="M23.77,244.4 C22.25,294.4 21.23,324.4 20.92,342.4 C21.23,350.4 22.25,354.4 23.26,363" stroke="#e0f048" stroke-width="0.45" fill="none" />
<path d="M25.3,250.4 C23.77,294.4 22.76,324.4 22.45,342.4 C22.76,350.4 24.18,354.4 25.71,363" stroke="#e0f048" stroke-width="0.45" fill="none" />
<path d="M26.83,256.4 C25.3,294.4 24.28,324.4 23.98,342.4 C24.28,350.4 26.11,354.4 28.15,363" stroke="#e0f048" stroke-width="0.45" fill="none" />
<path d="M28.35,262.4 C26.83,294.4 25.81,324.4 25.5,342.4 C25.81,350.4 28.05,354.4 30.59,363" stroke="#e0f048" stroke-width="0.45" fill="none" />
<path d="M29.88,268.4 C28.35,294.4 27.34,324.4 27.03,342.4 C27.34,350.4 29.98,354.4 33.04,363" stroke="#e0f048" stroke-width="0.45" fill="none" />
<path d="M31.41,274.4 C29.88,294.4 28.86,324.4 28.56,342.4 C28.86,350.4 31.92,354.4 35.48,363" stroke="#e0f048" stroke-width="0.45" fill="none" />
<path d="M32.93,280.4 C31.41,294.4 30.39,324.4 30.08,342.4 C30.39,350.4 33.85,354.4 37.92,363" stroke="#e0f048" stroke-width="0.45" fill="none" />
<path d="M34.46,286.4 C32.93,294.4 31.92,324.4 31.61,342.4 C31.92,350.4 35.79,354.4 40.37,363" stroke="#e0f048" stroke-width="0.45" fill="none" />
<path d="M35.99,292.4 C34.46,294.4 33.44,324.4 33.14,342.4 C33.44,350.4 37.72,354.4 42.81,363" stroke="#e0f048" stroke-width="0.45" fill="none" />
<path d="M51.05,208.4 V211.69 C51.05,214.07 50.1,216 48.92,216 L47.49,215.8" stroke="#2a2400" stroke-width="0.5" fill="none" opacity="0.85"/>
<path d="M47.49,215.6 C45.29,215.67 36.7,215.52 34.26,216 C31.82,216.48 33.69,217.08 32.83,218.5 C31.98,219.92 30.17,222.5 29.14,224.5 C28.11,226.5 27.36,228.5 26.67,230.5 C25.98,232.5 25.47,234.5 25.01,236.5 C24.55,238.5 24.21,240.5 23.9,242.5 C23.59,244.5 23.36,246.5 23.15,248.5 C22.94,250.5 22.79,252.5 22.65,254.5 C22.51,256.5 22.41,258.5 22.32,260.5 C22.22,262.5 22.15,264.5 22.09,266.5 C22.03,268.5 21.98,270.5 21.94,272.5 C21.9,274.5 21.87,276.5 21.84,278.5 C21.81,280.5 21.79,282.5 21.77,284.5 C21.75,286.5 21.74,288.5 21.73,290.5 C21.72,292.5 21.71,294.5 21.7,296.5 C21.69,298.5 21.68,300.5 21.68,302.5 C21.67,304.5 21.67,306.5 21.66,308.5 C21.66,310.5 21.66,312.5 21.65,314.5 C21.65,316.5 21.65,318.5 21.65,320.5 C21.65,322.5 21.65,324.5 21.64,326.5 C21.64,328.5 21.64,330.5 21.64,332.5 C21.64,334.5 21.64,336.5 21.64,338.5 C21.64,340.5 21.44,342.1 21.64,344.5 C21.84,346.9 22.36,350.58 22.86,352.9 C23.36,355.22 24.15,357.32 24.66,358.4 C25.17,359.48 25.5,358.63 25.91,359.4 C26.32,360.17 26.93,362.4 27.13,363" stroke="#182810" stroke-width="0.45" fill="none" />
<path d="M52.12,208.4 V220.54 C52.12,223.55 50.69,226 48.92,226 L47.49,225.8" stroke="#2a2400" stroke-width="0.5" fill="none" opacity="0.85"/>
<path d="M47.49,225.6 C45.36,225.67 37.06,225.52 34.69,226 C32.32,226.48 34.08,227.08 33.26,228.5 C32.45,229.92 30.76,232.5 29.79,234.5 C28.83,236.5 28.11,238.5 27.47,240.5 C26.82,242.5 26.34,244.5 25.91,246.5 C25.47,248.5 25.15,250.5 24.86,252.5 C24.57,254.5 24.36,256.5 24.16,258.5 C23.97,260.5 23.82,262.5 23.69,264.5 C23.56,266.5 23.46,268.5 23.38,270.5 C23.29,272.5 23.22,274.5 23.16,276.5 C23.11,278.5 23.06,280.5 23.02,282.5 C22.98,284.5 22.95,286.5 22.93,288.5 C22.9,290.5 22.88,292.5 22.86,294.5 C22.85,296.5 22.83,298.5 22.82,300.5 C22.81,302.5 22.8,304.5 22.79,306.5 C22.79,308.5 22.78,310.5 22.77,312.5 C22.77,314.5 22.76,316.5 22.76,318.5 C22.76,320.5 22.76,322.5 22.75,324.5 C22.75,326.5 22.75,328.5 22.75,330.5 C22.75,332.5 22.74,334.5 22.74,336.5 C22.74,338.5 22.54,339.86 22.74,342.5 C22.94,345.14 23.31,349.79 23.96,352.35 C24.61,354.91 25.87,356.68 26.64,357.85 C27.41,359.03 28.08,358.54 28.61,359.4 C29.14,360.26 29.63,362.4 29.83,363" stroke="#182810" stroke-width="0.45" fill="none" />
<path d="M53.19,208.4 V229.38 C53.19,233.03 51.28,236 48.92,236 L47.49,235.8" stroke="#2a2400" stroke-width="0.5" fill="none" opacity="0.85"/>
<path d="M47.49,235.6 C45.43,235.67 37.43,235.52 35.14,236 C32.84,236.48 34.49,237.08 33.71,238.5 C32.93,239.92 31.36,242.5 30.46,244.5 C29.55,246.5 28.88,248.5 28.27,250.5 C27.67,252.5 27.22,254.5 26.81,256.5 C26.4,258.5 26.1,260.5 25.83,262.5 C25.56,264.5 25.35,266.5 25.17,268.5 C24.99,270.5 24.85,272.5 24.73,274.5 C24.61,276.5 24.52,278.5 24.44,280.5 C24.35,282.5 24.29,284.5 24.24,286.5 C24.18,288.5 24.14,290.5 24.1,292.5 C24.07,294.5 24.04,296.5 24.02,298.5 C23.99,300.5 23.97,302.5 23.96,304.5 C23.94,306.5 23.93,308.5 23.92,310.5 C23.9,312.5 23.9,314.5 23.89,316.5 C23.88,318.5 23.88,320.5 23.87,322.5 C23.87,324.5 23.86,326.5 23.86,328.5 C23.86,330.5 23.85,332.5 23.85,334.5 C23.85,336.5 23.64,337.62 23.85,340.5 C24.05,343.38 24.27,349 25.07,351.8 C25.86,354.6 27.58,356.03 28.62,357.3 C29.66,358.57 30.66,358.45 31.31,359.4 C31.96,360.35 32.32,362.4 32.53,363" stroke="#182810" stroke-width="0.45" fill="none" />
<path d="M54.26,208.4 V238.23 C54.26,242.52 51.87,246 48.92,246 L47.49,245.8" stroke="#2a2400" stroke-width="0.5" fill="none" opacity="0.85"/>
<path d="M47.49,245.6 C45.51,245.67 37.81,245.52 35.59,246 C33.37,246.48 34.91,247.08 34.16,248.5 C33.42,249.92 31.97,252.5 31.12,254.5 C30.27,256.5 29.65,258.5 29.08,260.5 C28.51,262.5 28.09,264.5 27.71,266.5 C27.33,268.5 27.05,270.5 26.8,272.5 C26.54,274.5 26.35,276.5 26.18,278.5 C26.01,280.5 25.89,282.5 25.77,284.5 C25.66,286.5 25.57,288.5 25.5,290.5 C25.42,292.5 25.36,294.5 25.31,296.5 C25.26,298.5 25.22,300.5 25.19,302.5 C25.15,304.5 25.13,306.5 25.1,308.5 C25.08,310.5 25.06,312.5 25.05,314.5 C25.03,316.5 25.02,318.5 25.01,320.5 C25,322.5 24.99,324.5 24.98,326.5 C24.98,328.5 24.97,330.5 24.97,332.5 C24.96,334.5 24.96,336.5 24.96,338.5 C24.95,340.5 24.75,342.38 24.95,344.5 C25.15,346.62 25.23,349.21 26.17,351.25 C27.11,353.29 29.3,355.39 30.6,356.75 C31.91,358.11 33.23,358.36 34,359.4 C34.77,360.44 35.02,362.4 35.23,363" stroke="#182810" stroke-width="0.45" fill="none" />
<path d="M55.33,208.4 V247.07 C55.33,252 52.46,256 48.92,256 L47.49,255.8" stroke="#2a2400" stroke-width="0.5" fill="none" opacity="0.85"/>
<path d="M47.49,255.6 C45.58,255.67 38.18,255.52 36.04,256 C33.89,256.48 35.32,257.08 34.61,258.5 C33.9,259.92 32.57,262.5 31.78,264.5 C31,266.5 30.42,268.5 29.89,270.5 C29.36,272.5 28.97,274.5 28.62,276.5 C28.26,278.5 28,280.5 27.77,282.5 C27.53,284.5 27.35,286.5 27.19,288.5 C27.04,290.5 26.92,292.5 26.81,294.5 C26.71,296.5 26.63,298.5 26.56,300.5 C26.48,302.5 26.43,304.5 26.38,306.5 C26.34,308.5 26.3,310.5 26.27,312.5 C26.24,314.5 26.21,316.5 26.19,318.5 C26.17,320.5 26.15,322.5 26.14,324.5 C26.12,326.5 26.11,328.5 26.1,330.5 C26.09,332.5 26.09,334.5 26.08,336.5 C26.07,338.5 25.86,340.13 26.07,342.5 C26.27,344.87 26.2,348.42 27.29,350.7 C28.37,352.98 31.02,354.75 32.59,356.2 C34.16,357.65 35.81,358.27 36.7,359.4 C37.59,360.53 37.72,362.4 37.92,363" stroke="#182810" stroke-width="0.45" fill="none" />
<path d="M56.4,208.4 V255.91 C56.4,261.48 53.05,266 48.92,266 L47.49,265.8" stroke="#2a2400" stroke-width="0.5" fill="none" opacity="0.85"/>
<path d="M47.49,265.6 C45.66,265.67 38.56,265.52 36.49,266 C34.41,266.48 35.73,267.08 35.06,268.5 C34.39,269.92 33.17,272.5 32.45,274.5 C31.72,276.5 31.18,278.5 30.69,280.5 C30.21,282.5 29.85,284.5 29.52,286.5 C29.19,288.5 28.95,290.5 28.73,292.5 C28.51,294.5 28.35,296.5 28.21,298.5 C28.06,300.5 27.95,302.5 27.85,304.5 C27.75,306.5 27.68,308.5 27.61,310.5 C27.55,312.5 27.5,314.5 27.46,316.5 C27.41,318.5 27.38,320.5 27.35,322.5 C27.32,324.5 27.3,326.5 27.28,328.5 C27.26,330.5 27.24,332.5 27.23,334.5 C27.22,336.5 27,337.89 27.2,340.5 C27.4,343.11 27.19,347.62 28.42,350.15 C29.65,352.67 32.75,354.11 34.58,355.65 C36.41,357.19 38.39,358.17 39.4,359.4 C40.41,360.62 40.42,362.4 40.62,363" stroke="#182810" stroke-width="0.45" fill="none" />
<path d="M57.47,216 V264.76 C57.47,270.96 53.64,276 48.92,276 L47.49,275.8" stroke="#2a2400" stroke-width="0.5" fill="none" opacity="0.85"/>
<path d="M47.49,275.6 C45.73,275.67 38.93,275.52 36.93,276 C34.94,276.48 36.15,277.08 35.51,278.5 C34.87,279.92 33.78,282.5 33.11,284.5 C32.44,286.5 31.95,288.5 31.5,290.5 C31.05,292.5 30.72,294.5 30.42,296.5 C30.12,298.5 29.9,300.5 29.7,302.5 C29.5,304.5 29.35,306.5 29.22,308.5 C29.08,310.5 28.98,312.5 28.89,314.5 C28.8,316.5 28.74,318.5 28.67,320.5 C28.61,322.5 28.57,324.5 28.53,326.5 C28.49,328.5 28.46,330.5 28.43,332.5 C28.4,334.5 28.17,335.65 28.37,338.5 C28.56,341.35 28.22,346.83 29.59,349.6 C30.96,352.37 34.5,353.47 36.59,355.1 C38.67,356.73 40.97,358.08 42.1,359.4 C43.22,360.72 43.11,362.4 43.32,363" stroke="#182810" stroke-width="0.45" fill="none" />
<path d="M58.54,226 V273.61 C58.54,280.45 54.23,286 48.92,286 L47.49,285.8" stroke="#2a2400" stroke-width="0.5" fill="none" opacity="0.85"/>
<path d="M47.49,285.6 C45.79,285.67 39.25,285.52 37.31,286 C35.38,286.48 36.48,287.08 35.89,288.5 C35.29,289.92 34.33,292.5 33.73,294.5 C33.12,296.5 32.68,298.5 32.28,300.5 C31.87,302.5 31.58,304.5 31.31,306.5 C31.04,308.5 30.84,310.5 30.66,312.5 C30.47,314.5 30.34,316.5 30.22,318.5 C30.1,320.5 30.01,322.5 29.93,324.5 C29.84,326.5 29.78,328.5 29.73,330.5 C29.68,332.5 29.64,334.5 29.6,336.5 C29.56,338.5 29.32,340.41 29.51,342.5 C29.7,344.59 29.22,347.04 30.73,349.05 C32.25,351.06 36.24,352.83 38.59,354.55 C40.93,356.27 43.56,357.99 44.79,359.4 C46.03,360.81 45.81,362.4 46.02,363" stroke="#182810" stroke-width="0.45" fill="none" />
<path d="M59.6,236 V282.45 C59.6,289.93 54.82,296 48.92,296 L47.49,295.8" stroke="#2a2400" stroke-width="0.5" fill="none" opacity="0.85"/>
<path d="M47.49,295.6 C45.79,295.67 39.25,295.52 37.31,296 C35.38,296.48 36.42,297.08 35.89,298.5 C35.35,299.92 34.59,302.5 34.09,304.5 C33.59,306.5 33.22,308.5 32.88,310.5 C32.55,312.5 32.3,314.5 32.07,316.5 C31.85,318.5 31.68,320.5 31.53,322.5 C31.38,324.5 31.27,326.5 31.17,328.5 C31.07,330.5 30.99,332.5 30.93,334.5 C30.86,336.5 30.59,338.17 30.76,340.5 C30.94,342.83 30.34,346.25 31.98,348.5 C33.63,350.75 38.05,352.18 40.64,354 C43.22,355.82 46.15,357.9 47.49,359.4 C48.84,360.9 48.51,362.4 48.71,363" stroke="#182810" stroke-width="0.45" fill="none" />
<path d="M60.67,246 V291.29 C60.67,299.41 55.41,306 48.92,306 L47.49,305.8" stroke="#2a2400" stroke-width="0.5" fill="none" opacity="0.85"/>
<path d="M47.49,305.6 C45.79,305.67 39.25,305.52 37.31,306 C35.38,306.48 36.36,307.08 35.89,308.5 C35.41,309.92 34.85,312.5 34.45,314.5 C34.05,316.5 33.76,318.5 33.49,320.5 C33.22,322.5 33.02,324.5 32.84,326.5 C32.66,328.5 32.53,330.5 32.41,332.5 C32.29,334.5 31.96,335.93 32.12,338.5 C32.28,341.07 31.57,345.46 33.34,347.95 C35.11,350.44 39.92,351.54 42.73,353.45 C45.54,355.36 48.74,357.81 50.19,359.4 C51.64,360.99 51.21,362.4 51.41,363" stroke="#182810" stroke-width="0.45" fill="none" />
<path d="M61.74,256 V300.14 C61.74,308.89 56,316 48.92,316 L47.49,315.8" stroke="#2a2400" stroke-width="0.5" fill="none" opacity="0.85"/>
<path d="M47.49,315.6 C45.79,315.67 39.25,315.52 37.31,316 C35.38,316.48 36.3,317.08 35.89,318.5 C35.47,319.92 35.11,322.5 34.81,324.5 C34.51,326.5 34.29,328.5 34.09,330.5 C33.89,332.5 33.49,333.68 33.61,336.5 C33.73,339.32 32.95,344.67 34.83,347.4 C36.71,350.13 41.88,350.9 44.88,352.9 C47.89,354.9 51.35,357.72 52.89,359.4 C54.42,361.08 53.9,362.4 54.11,363" stroke="#182810" stroke-width="0.45" fill="none" />
<path d="M62.81,266 V308.99 C62.81,318.38 56.59,326 48.92,326 L47.49,325.8" stroke="#2a2400" stroke-width="0.5" fill="none" opacity="0.85"/>
<path d="M47.49,325.6 C45.79,325.67 39.25,325.52 37.31,326 C35.38,326.48 36.24,327.08 35.89,328.5 C35.53,329.92 35.37,332.5 35.18,334.5 C34.98,336.5 34.57,338.44 34.7,340.5 C34.82,342.56 33.89,344.88 35.92,346.85 C37.95,348.83 43.58,350.26 46.86,352.35 C50.13,354.44 53.93,357.62 55.58,359.4 C57.24,361.17 56.6,362.4 56.81,363" stroke="#182810" stroke-width="0.45" fill="none" />
<path d="M63.88,276 V317.83 C63.88,327.86 57.18,336 48.92,336 L47.49,335.8" stroke="#2a2400" stroke-width="0.5" fill="none" opacity="0.85"/>
<path d="M47.49,335.6 C45.79,335.67 39.25,335.52 37.31,336 C35.38,336.48 35.92,336.78 35.89,338.5 C35.85,340.22 34.94,344.08 37.11,346.3 C39.27,348.52 45.35,349.62 48.88,351.8 C52.4,353.98 56.51,357.53 58.28,359.4 C60.05,361.27 59.3,362.4 59.5,363" stroke="#182810" stroke-width="0.45" fill="none" />
</g>
<path d="M24,200.1 H42.1 V207.4 L48.4,210.1 L41.6,209.5 L24,207.5 Z" fill="#2a1200"/>
<path d="M24.2,202.5 C26.6,202.1 29.6,202.4 32.6,203.1 C34.6,203.7 36.1,204.5 37.4,205.7 C38.6,206.7 39.6,207.5 40.6,208.5 L37.6,208.5 C32.6,207.7 28.6,207.3 24.2,207.1 Z" fill="#f0a000"/>
<path d="M25.6,204.7 C28.6,203.9 31.6,204.5 35.1,204.7 M28.6,206.1 C31.6,205.5 34.6,206.3 38.1,206.9" stroke="#5a2800" stroke-width="0.7" fill="none"/>
<path d="M24,200.4 H30.1 C28.6,201.5 26.6,202.1 24,202.3 Z" fill="#40c4f0"/>
<path d="M24,207.3 C29.6,207.6 35.6,208.3 41.6,209.3 L48.4,210.1" stroke="#f8e010" stroke-width="0.6" fill="none"/>
<rect x="19.6" y="200.1" width="4.4" height="9.3" fill="#0c18e6" />
<line x1="24.2" y1="200.1" x2="24.2" y2="209.4" stroke="#101040" stroke-width="0.7"/>
<line x1="19.6" y1="209.5" x2="24.2" y2="209.5" stroke="#301030" stroke-width="0.5"/>
<rect x="19.6" y="199.7" width="22.5" height="1" fill="#e020e8" />
<path d="M42.1,200.1 V207.4 H65" stroke="#200818" stroke-width="0.9" fill="none"/>
<line x1="43.1" y1="207.2" x2="65" y2="207.2" stroke="#e040e0" stroke-width="0.5"/>
<line x1="19.2" y1="199.7" x2="19.2" y2="366.1" stroke="#2a1030" stroke-width="0.8"/>
<line x1="65" y1="207.4" x2="65" y2="362.3" stroke="#401838" stroke-width="0.5" opacity="0.7"/>
<line x1="19.2" y1="362.6" x2="65.3" y2="362.6" stroke="#9a509a" stroke-width="0.9"/>
<line x1="16" y1="200.5" x2="19.2" y2="200.5" stroke="#181818" stroke-width="0.8"/>
<line x1="17.4" y1="208.22" x2="19.2" y2="208.22" stroke="#181818" stroke-width="0.8"/>
<line x1="17.4" y1="215.94" x2="19.2" y2="215.94" stroke="#181818" stroke-width="0.8"/>
<line x1="17.4" y1="223.66" x2="19.2" y2="223.66" stroke="#181818" stroke-width="0.8"/>
<line x1="17.4" y1="231.38" x2="19.2" y2="231.38" stroke="#181818" stroke-width="0.8"/>
<line x1="16" y1="239.1" x2="19.2" y2="239.1" stroke="#181818" stroke-width="0.8"/>
<line x1="17.4" y1="246.82" x2="19.2" y2="246.82" stroke="#181818" stroke-width="0.8"/>
<line x1="17.4" y1="254.54" x2="19.2" y2="254.54" stroke="#181818" stroke-width="0.8"/>
<line x1="17.4" y1="262.26" x2="19.2" y2="262.26" stroke="#181818" stroke-width="0.8"/>
<line x1="17.4" y1="269.98" x2="19.2" y2="269.98" stroke="#181818" stroke-width="0.8"/>
<line x1="16" y1="277.7" x2="19.2" y2="277.7" stroke="#181818" stroke-width="0.8"/>
<line x1="17.4" y1="285.42" x2="19.2" y2="285.42" stroke="#181818" stroke-width="0.8"/>
<line x1="17.4" y1="293.14" x2="19.2" y2="293.14" stroke="#181818" stroke-width="0.8"/>
<line x1="17.4" y1="300.86" x2="19.2" y2="300.86" stroke="#181818" stroke-width="0.8"/>
<line x1="17.4" y1="308.58" x2="19.2" y2="308.58" stroke="#181818" stroke-width="0.8"/>
<line x1="16" y1="316.3" x2="19.2" y2="316.3" stroke="#181818" stroke-width="0.8"/>
<line x1="17.4" y1="324.02" x2="19.2" y2="324.02" stroke="#181818" stroke-width="0.8"/>
<line x1="17.4" y1="331.74" x2="19.2" y2="331.74" stroke="#181818" stroke-width="0.8"/>
<line x1="17.4" y1="339.46" x2="19.2" y2="339.46" stroke="#181818" stroke-width="0.8"/>
<line x1="17.4" y1="347.18" x2="19.2" y2="347.18" stroke="#181818" stroke-width="0.8"/>
<line x1="16" y1="354.9" x2="19.2" y2="354.9" stroke="#181818" stroke-width="0.8"/>
<line x1="17.4" y1="362.62" x2="19.2" y2="362.62" stroke="#181818" stroke-width="0.8"/>
<line x1="19.9" y1="362.6" x2="19.9" y2="365.2" stroke="#181818" stroke-width="0.8"/>
<line x1="31.05" y1="362.6" x2="31.05" y2="364.2" stroke="#181818" stroke-width="0.8"/>
<line x1="42.2" y1="362.6" x2="42.2" y2="365.2" stroke="#181818" stroke-width="0.8"/>
<line x1="53.35" y1="362.6" x2="53.35" y2="364.2" stroke="#181818" stroke-width="0.8"/>
<line x1="64.5" y1="362.6" x2="64.5" y2="365.2" stroke="#181818" stroke-width="0.8"/>
<text transform="translate(21.8,377.2) scale(0.9,1)" class="tk" text-anchor="middle">0</text>
<text transform="translate(43.1,377.2) scale(0.9,1)" class="tk" text-anchor="middle">2</text>
<text transform="translate(63.8,377.2) scale(0.9,1)" class="tk" text-anchor="middle">4</text>
<rect x="33.6" y="311.1" width="18.4" height="12" fill="#fff" rx="0.5"/>
<text x="38.2" y="320.4" class="lt">t</text>
<text x="41.2" y="322.1" class="ls">b1</text>
<g clip-path="url(#cb2)">
<rect x="72" y="200.1" width="45.8" height="162.2" fill="url(#b2V)" />
<path d="M96,207.5 H112 V275 H100 C98,250 97,230 96,207.5 Z" fill="#16f0d0" opacity="0.7"/>
<path d="M72,222 C80,226 86,240 86,262 H72 Z" fill="#20f8f8" opacity="0.8"/>
<rect x="110" y="207.5" width="7.8" height="75" fill="url(#b2R)" />
<rect x="104.4" y="272" width="2.8" height="72" fill="#40ec30" />
<path d="M107.2,284 Q107.2,276 112,275 H117.8 V341.5 H112 Q107.2,341.5 107.2,337 Z" fill="url(#b2Y)"/>
<path d="M110.29,277 C110.35,277.65 110.64,279.62 110.68,280.88 C110.72,282.14 110.66,283.21 110.54,284.56 C110.42,285.91 110.07,288.24 109.97,288.97" stroke="#6a5800" stroke-width="0.35" fill="none" opacity="0.5"/>
<path d="M111.14,277 C111.15,277.76 111.11,280.2 111.18,281.58 C111.26,282.97 111.6,283.76 111.61,285.31 C111.62,286.86 111.31,289.95 111.25,290.88" stroke="#6a5800" stroke-width="0.35" fill="none" opacity="0.5"/>
<path d="M113.05,277 C113.04,277.98 112.92,281.14 112.99,282.87 C113.06,284.6 113.42,286.01 113.47,287.36 C113.53,288.71 113.35,290.37 113.33,290.98" stroke="#6a5800" stroke-width="0.35" fill="none" opacity="0.5"/>
<path d="M113.67,277 C113.71,277.63 113.86,279.24 113.87,280.79 C113.88,282.35 113.65,284.59 113.72,286.33 C113.78,288.08 114.19,289.72 114.27,291.29 C114.34,292.85 114.18,294.98 114.16,295.72" stroke="#6a5800" stroke-width="0.35" fill="none" opacity="0.5"/>
<path d="M114.77,277 C114.9,277.67 115.47,279.58 115.52,281.01 C115.57,282.45 115.12,284 115.08,285.58 C115.03,287.17 115.15,289.01 115.24,290.55 C115.34,292.08 115.59,294.09 115.65,294.8" stroke="#6a5800" stroke-width="0.35" fill="none" opacity="0.5"/>
<path d="M116.19,277 C116.25,277.82 116.43,280.17 116.53,281.94 C116.63,283.71 116.68,285.97 116.78,287.62 C116.87,289.28 117.14,290.51 117.08,291.84 C117.01,293.18 116.51,295.01 116.4,295.64" stroke="#6a5800" stroke-width="0.35" fill="none" opacity="0.5"/>
<path d="M108.85,277 V278 C108.85,282.3 107.85,283.3 107.4,283" stroke="#6a5800" stroke-width="0.4" fill="none" opacity="0.55"/>
<path d="M109.35,277 V280.9 C109.35,285.9 108.35,286.9 107.4,286.6" stroke="#6a5800" stroke-width="0.4" fill="none" opacity="0.55"/>
<path d="M109.85,277 V284.5 C109.85,289.5 108.85,290.5 107.4,290.2" stroke="#6a5800" stroke-width="0.4" fill="none" opacity="0.55"/>
<path d="M110.35,277 V288.1 C110.35,293.1 109.35,294.1 107.4,293.8" stroke="#6a5800" stroke-width="0.4" fill="none" opacity="0.55"/>
<path d="M110.85,277 V291.7 C110.85,296.7 109.85,297.7 107.4,297.4" stroke="#6a5800" stroke-width="0.4" fill="none" opacity="0.55"/>
<path d="M111.35,277 V295.3 C111.35,300.3 110.35,301.3 107.4,301" stroke="#6a5800" stroke-width="0.4" fill="none" opacity="0.55"/>
<path d="M111.85,279.9 V298.9 C111.85,303.9 110.85,304.9 107.4,304.6" stroke="#6a5800" stroke-width="0.4" fill="none" opacity="0.55"/>
<path d="M112.35,283.5 V302.5 C112.35,307.5 111.35,308.5 107.4,308.2" stroke="#6a5800" stroke-width="0.4" fill="none" opacity="0.55"/>
<path d="M112.85,287.1 V306.1 C112.85,311.1 111.85,312.1 107.4,311.8" stroke="#6a5800" stroke-width="0.4" fill="none" opacity="0.55"/>
<path d="M113.35,290.7 V309.7 C113.35,314.7 112.35,315.7 107.4,315.4" stroke="#6a5800" stroke-width="0.4" fill="none" opacity="0.55"/>
<path d="M113.85,294.3 V313.3 C113.85,318.3 112.85,319.3 107.4,319" stroke="#6a5800" stroke-width="0.4" fill="none" opacity="0.55"/>
<path d="M114.35,297.9 V316.9 C114.35,321.9 113.35,322.9 107.4,322.6" stroke="#6a5800" stroke-width="0.4" fill="none" opacity="0.55"/>
<path d="M114.85,301.5 V320.5 C114.85,325.5 113.85,326.5 107.4,326.2" stroke="#6a5800" stroke-width="0.4" fill="none" opacity="0.55"/>
<path d="M115.35,305.1 V324.1 C115.35,329.1 114.35,330.1 107.4,329.8" stroke="#6a5800" stroke-width="0.4" fill="none" opacity="0.55"/>
<path d="M115.85,308.7 V327.7 C115.85,332.7 114.85,333.7 107.4,333.4" stroke="#6a5800" stroke-width="0.4" fill="none" opacity="0.55"/>
<path d="M116.35,312.3 V331.3 C116.35,336.3 115.35,337.3 107.4,337" stroke="#6a5800" stroke-width="0.4" fill="none" opacity="0.55"/>
<path d="M107.6,284 V337 Q107.6,342 112,342 H117.8" stroke="#fcf890" stroke-width="0.8" fill="none" />
<path d="M72,257 C76,258 78.5,264 79.5,276 V345 H72 Z" fill="url(#b2L)"/>
<path d="M72,258 C75.5,259 77.5,265 78.2,276 C78.5,284 77.5,292 75,296 C74,297 73,297.5 72,298 Z" fill="#0c24c0"/>
<path d="M74.5,259.5 C77,262 78.6,268 79.2,276 C79.5,285 78.8,293 76.5,298 L75,296 C77.5,292 78.5,284 78.2,276 C77.8,268 76.5,262 74.5,259.5 Z" fill="#48a8f4"/>
<path d="M72,345 H79.5 C83,348 88,350 96,350.3 H117.8 V362.6 H72 Z" fill="#38e038"/>
<path d="M80.3,326 C80.5,340 85,349 96,350.3 H117.8 V342 H112 Q107.2,341.5 107.2,337 V326 Z" fill="#28ea70" opacity="0.6"/>
<path d="M75,259.5 C78,262 79.5,268 80.3,276 V326 C80.5,340 85,349 96,350.3 H117.8" stroke="#f0fff0" stroke-width="0.8" fill="none" />
<path d="M77.6,208 C77.55,210.33 77.47,217.5 77.3,222 C77.13,226.5 76.95,231 76.6,235 C76.25,239 75.82,242.58 75.2,246 C74.58,249.42 73.43,253.67 72.9,255.5 C72.37,257.33 72.15,256.75 72,257" stroke="#0f3030" stroke-width="0.55" fill="none" />
<path d="M87.2,208 C87.13,210.33 86.98,217.5 86.8,222 C86.62,226.5 86.43,230.5 86.1,235 C85.77,239.5 85.65,245.17 84.8,249 C83.95,252.83 82.63,255.75 81,258 C79.37,260.25 76.5,261.42 75,262.5 C73.5,263.58 72.5,264.17 72,264.5" stroke="#0f3030" stroke-width="0.55" fill="none" />
<path d="M97.9,208 C97.83,210.33 97.77,217.5 97.5,222 C97.23,226.5 96.72,230.33 96.3,235 C95.88,239.67 95.88,245.67 95,250 C94.12,254.33 93.17,258.33 91,261 C88.83,263.67 84.5,264.83 82,266 C79.5,267.17 77,267.67 76,268" stroke="#0f3030" stroke-width="0.55" fill="none" />
<path d="M108.6,208 C108.43,210.33 108.18,217.5 107.6,222 C107.02,226.5 105.78,230 105.1,235 C104.42,240 104.52,247.17 103.5,252 C102.48,256.83 101.58,261 99,264 C96.42,267 91.5,268.58 88,270 C84.5,271.42 79.67,272.08 78,272.5" stroke="#0f3030" stroke-width="0.55" fill="none" />
<path d="M112.3,214 C112.28,217.5 112.33,228.67 112.2,235 C112.07,241.33 112.2,247.17 111.5,252 C110.8,256.83 109.92,260.67 108,264 C106.08,267.33 103.33,270.08 100,272 C96.67,273.92 91.5,274.75 88,275.5 C84.5,276.25 80.5,276.33 79,276.5" stroke="#0f3030" stroke-width="0.55" fill="none" />
<path d="M109,276 C109,278.5 108,281.5 106,281.5 H81 C76,281.5 73.5,285.5 73.5,293.5 V340 C73.5,346 74,350 76,362.7" stroke="#0f2a20" stroke-width="0.55" fill="none" />
<path d="M109.9,276 C109.9,286.5 108.9,289.5 106,289.5 H81 C76.6,289.5 74.1,293.5 74.1,301.5 V340 C74.1,346 77.2,350 79.2,362.7" stroke="#0f2a20" stroke-width="0.55" fill="none" />
<path d="M110.8,279.5 C110.8,294.5 109.8,297.5 106,297.5 H81 C77.2,297.5 74.7,301.5 74.7,309.5 V340 C74.7,346 80.4,350 82.4,362.7" stroke="#0f2a20" stroke-width="0.55" fill="none" />
<path d="M111.7,287.5 C111.7,302.5 110.7,305.5 106,305.5 H81 C77.8,305.5 75.3,309.5 75.3,317.5 V340 C75.3,346 83.6,350 85.6,362.7" stroke="#0f2a20" stroke-width="0.55" fill="none" />
<path d="M112.6,295.5 C112.6,310.5 111.6,313.5 106,313.5 H81 C78.4,313.5 75.9,317.5 75.9,325.5 V340 C75.9,346 86.8,350 88.8,362.7" stroke="#0f2a20" stroke-width="0.55" fill="none" />
<path d="M113.5,303.5 C113.5,318.5 112.5,321.5 106,321.5 H81 C79,321.5 76.5,325.5 76.5,333.5 V340 C76.5,346 90,350 92,362.7" stroke="#0f2a20" stroke-width="0.55" fill="none" />
<path d="M114.4,311.5 C114.4,326.5 113.4,329.5 106,329.5 H81 C79.6,329.5 77.1,333.5 77.1,341.5 V340 C77.1,346 93.2,350 95.2,362.7" stroke="#0f2a20" stroke-width="0.55" fill="none" />
<path d="M115.3,319.5 C115.3,334.5 114.3,337.5 106,337.5 H81 C80.2,337.5 77.7,341.5 77.7,349.5 V340 C77.7,346 96.4,350 98.4,362.7" stroke="#0f2a20" stroke-width="0.55" fill="none" />
<path d="M73,335 C75,345 79,350 83,362.7" stroke="#1a3a10" stroke-width="0.45" fill="none" />
<path d="M74,336 C76,345 82,350 87.5,362.7" stroke="#1a3a10" stroke-width="0.45" fill="none" />
<path d="M75,337 C77,345 85,350 92,362.7" stroke="#1a3a10" stroke-width="0.45" fill="none" />
<path d="M76,338 C78,345 88,350 96.5,362.7" stroke="#1a3a10" stroke-width="0.45" fill="none" />
<path d="M77,339 C79,345 91,350 101,362.7" stroke="#1a3a10" stroke-width="0.45" fill="none" />
<path d="M78,340 C80,345 94,350 105.5,362.7" stroke="#1a3a10" stroke-width="0.45" fill="none" />
</g>
<path d="M76.4,200.1 H94.5 V207.4 L100.8,210.1 L94,209.5 L76.4,207.5 Z" fill="#2a1200"/>
<path d="M76.6,202.5 C79,202.1 82,202.4 85,203.1 C87,203.7 88.5,204.5 89.8,205.7 C91,206.7 92,207.5 93,208.5 L90,208.5 C85,207.7 81,207.3 76.6,207.1 Z" fill="#f0a000"/>
<path d="M78,204.7 C81,203.9 84,204.5 87.5,204.7 M81,206.1 C84,205.5 87,206.3 90.5,206.9" stroke="#5a2800" stroke-width="0.7" fill="none"/>
<path d="M76.4,200.4 H82.5 C81,201.5 79,202.1 76.4,202.3 Z" fill="#40c4f0"/>
<path d="M76.4,207.3 C82,207.6 88,208.3 94,209.3 L100.8,210.1" stroke="#f8e010" stroke-width="0.6" fill="none"/>
<rect x="72" y="200.1" width="4.4" height="9.3" fill="#0c18e6" />
<line x1="76.6" y1="200.1" x2="76.6" y2="209.4" stroke="#101040" stroke-width="0.7"/>
<line x1="72" y1="209.5" x2="76.6" y2="209.5" stroke="#301030" stroke-width="0.5"/>
<rect x="72" y="199.7" width="22.5" height="1" fill="#e020e8" />
<path d="M94.5,200.1 V207.4 H117.8" stroke="#200818" stroke-width="0.9" fill="none"/>
<line x1="95.5" y1="207.2" x2="117.8" y2="207.2" stroke="#e040e0" stroke-width="0.5"/>
<line x1="71.6" y1="199.7" x2="71.6" y2="366.1" stroke="#2a1030" stroke-width="0.8"/>
<line x1="117.8" y1="207.4" x2="117.8" y2="362.3" stroke="#401838" stroke-width="0.5" opacity="0.7"/>
<line x1="71.6" y1="362.6" x2="118.1" y2="362.6" stroke="#9a509a" stroke-width="0.9"/>
<line x1="68.4" y1="200.5" x2="71.6" y2="200.5" stroke="#181818" stroke-width="0.8"/>
<line x1="69.8" y1="208.22" x2="71.6" y2="208.22" stroke="#181818" stroke-width="0.8"/>
<line x1="69.8" y1="215.94" x2="71.6" y2="215.94" stroke="#181818" stroke-width="0.8"/>
<line x1="69.8" y1="223.66" x2="71.6" y2="223.66" stroke="#181818" stroke-width="0.8"/>
<line x1="69.8" y1="231.38" x2="71.6" y2="231.38" stroke="#181818" stroke-width="0.8"/>
<line x1="68.4" y1="239.1" x2="71.6" y2="239.1" stroke="#181818" stroke-width="0.8"/>
<line x1="69.8" y1="246.82" x2="71.6" y2="246.82" stroke="#181818" stroke-width="0.8"/>
<line x1="69.8" y1="254.54" x2="71.6" y2="254.54" stroke="#181818" stroke-width="0.8"/>
<line x1="69.8" y1="262.26" x2="71.6" y2="262.26" stroke="#181818" stroke-width="0.8"/>
<line x1="69.8" y1="269.98" x2="71.6" y2="269.98" stroke="#181818" stroke-width="0.8"/>
<line x1="68.4" y1="277.7" x2="71.6" y2="277.7" stroke="#181818" stroke-width="0.8"/>
<line x1="69.8" y1="285.42" x2="71.6" y2="285.42" stroke="#181818" stroke-width="0.8"/>
<line x1="69.8" y1="293.14" x2="71.6" y2="293.14" stroke="#181818" stroke-width="0.8"/>
<line x1="69.8" y1="300.86" x2="71.6" y2="300.86" stroke="#181818" stroke-width="0.8"/>
<line x1="69.8" y1="308.58" x2="71.6" y2="308.58" stroke="#181818" stroke-width="0.8"/>
<line x1="68.4" y1="316.3" x2="71.6" y2="316.3" stroke="#181818" stroke-width="0.8"/>
<line x1="69.8" y1="324.02" x2="71.6" y2="324.02" stroke="#181818" stroke-width="0.8"/>
<line x1="69.8" y1="331.74" x2="71.6" y2="331.74" stroke="#181818" stroke-width="0.8"/>
<line x1="69.8" y1="339.46" x2="71.6" y2="339.46" stroke="#181818" stroke-width="0.8"/>
<line x1="69.8" y1="347.18" x2="71.6" y2="347.18" stroke="#181818" stroke-width="0.8"/>
<line x1="68.4" y1="354.9" x2="71.6" y2="354.9" stroke="#181818" stroke-width="0.8"/>
<line x1="69.8" y1="362.62" x2="71.6" y2="362.62" stroke="#181818" stroke-width="0.8"/>
<line x1="72.3" y1="362.6" x2="72.3" y2="365.2" stroke="#181818" stroke-width="0.8"/>
<line x1="83.55" y1="362.6" x2="83.55" y2="364.2" stroke="#181818" stroke-width="0.8"/>
<line x1="94.8" y1="362.6" x2="94.8" y2="365.2" stroke="#181818" stroke-width="0.8"/>
<line x1="106.05" y1="362.6" x2="106.05" y2="364.2" stroke="#181818" stroke-width="0.8"/>
<line x1="117.3" y1="362.6" x2="117.3" y2="365.2" stroke="#181818" stroke-width="0.8"/>
<text transform="translate(74.2,377.2) scale(0.9,1)" class="tk" text-anchor="middle">0</text>
<text transform="translate(95.5,377.2) scale(0.9,1)" class="tk" text-anchor="middle">2</text>
<text transform="translate(116.6,377.2) scale(0.9,1)" class="tk" text-anchor="middle">4</text>
<rect x="86" y="311.1" width="18.4" height="12" fill="#fff" rx="0.5"/>
<text x="90.6" y="320.4" class="lt">t</text>
<text x="93.6" y="322.1" class="ls">b2</text>
<g clip-path="url(#cb3)">
<rect x="126.8" y="200.1" width="44.5" height="162.2" fill="url(#b3V)" />
<path d="M126.8,225 C138,232 146,250 148,278 L126.8,282 Z" fill="#10f4fa" opacity="0.8"/>
<path d="M150,207.5 H162 V272 C158,274 156,276 152,276 C151,250 151,230 150,207.5 Z" fill="#14ecc8" opacity="0.7"/>
<path d="M159,207.5 H171.3 V345 H161.5 V270 C161.5,240 160,220 159,207.5 Z" fill="url(#b3R)"/>
<path d="M165,282 Q165,276 168.5,275.7 H171.3 V339 H169 Q165,339 165,334 Z" fill="url(#b3Y)"/>
<path d="M166.16,277 C166.11,277.74 165.91,279.75 165.84,281.43 C165.76,283.12 165.58,285.36 165.71,287.1 C165.83,288.84 166.51,290.45 166.6,291.86 C166.69,293.27 166.4,294.1 166.25,295.56 C166.11,297.02 165.72,299.02 165.74,300.6 C165.77,302.18 166.29,303.53 166.4,305.05 C166.52,306.56 166.5,308.26 166.43,309.68 C166.35,311.1 165.97,312.29 165.94,313.57 C165.9,314.85 166.15,315.75 166.21,317.35 C166.27,318.95 166.31,321.28 166.29,323.16 C166.27,325.03 166.17,326.79 166.08,328.59 C166,330.39 165.85,333.06 165.8,333.96" stroke="#5a4800" stroke-width="0.35" fill="none" opacity="0.6"/>
<path d="M167.27,277 C167.23,277.89 167.09,280.81 167.02,282.31 C166.95,283.82 166.89,284.74 166.87,286.03 C166.84,287.32 166.89,288.47 166.88,290.06 C166.87,291.65 166.7,293.71 166.8,295.58 C166.9,297.46 167.45,299.74 167.48,301.3 C167.51,302.86 167.12,303.54 166.98,304.94 C166.84,306.33 166.54,308.12 166.62,309.66 C166.71,311.21 167.41,312.84 167.51,314.23 C167.6,315.62 167.25,316.74 167.2,318.01 C167.14,319.27 167.24,320.22 167.18,321.81 C167.11,323.4 166.89,326 166.8,327.55 C166.72,329.09 166.71,329.67 166.68,331.07 C166.65,332.46 166.63,335.11 166.62,335.92" stroke="#5a4800" stroke-width="0.35" fill="none" opacity="0.6"/>
<path d="M168,277 C167.98,277.97 167.9,281.09 167.92,282.8 C167.94,284.52 168.11,285.93 168.14,287.3 C168.17,288.67 168.08,289.75 168.08,291.03 C168.07,292.31 168.2,293.32 168.11,294.96 C168.02,296.6 167.55,299.06 167.55,300.86 C167.55,302.66 168.07,304.29 168.11,305.75 C168.14,307.21 167.7,307.98 167.77,309.62 C167.83,311.26 168.43,313.97 168.5,315.61 C168.57,317.24 168.33,317.8 168.21,319.41 C168.08,321.02 167.85,323.47 167.74,325.29 C167.63,327.1 167.47,328.74 167.54,330.31 C167.62,331.89 168.07,333.99 168.17,334.73" stroke="#5a4800" stroke-width="0.35" fill="none" opacity="0.6"/>
<path d="M169.17,277 C169.1,277.62 168.78,279.15 168.75,280.72 C168.72,282.28 168.97,284.66 168.98,286.38 C168.99,288.09 168.8,289.24 168.8,291.01 C168.8,292.77 168.91,295.39 168.97,296.97 C169.04,298.56 169.22,299.21 169.2,300.52 C169.18,301.83 168.89,303.45 168.83,304.84 C168.77,306.23 168.9,307.48 168.84,308.87 C168.79,310.26 168.55,311.62 168.49,313.18 C168.43,314.75 168.51,316.5 168.5,318.26 C168.49,320.01 168.31,321.9 168.43,323.72 C168.54,325.54 169.09,327.47 169.21,329.17 C169.32,330.87 169.13,333.12 169.11,333.91" stroke="#5a4800" stroke-width="0.35" fill="none" opacity="0.6"/>
<path d="M170.04,277 C169.95,277.76 169.59,279.82 169.53,281.56 C169.47,283.31 169.6,285.75 169.7,287.47 C169.81,289.2 170.12,290.43 170.16,291.91 C170.2,293.38 169.97,294.94 169.97,296.33 C169.96,297.72 170.25,298.91 170.14,300.26 C170.04,301.6 169.46,302.72 169.35,304.4 C169.24,306.08 169.32,308.37 169.47,310.34 C169.63,312.31 170.31,314.39 170.29,316.21 C170.26,318.02 169.44,319.78 169.31,321.22 C169.18,322.67 169.41,323.52 169.51,324.88 C169.61,326.23 169.89,327.62 169.91,329.35 C169.94,331.08 169.7,334.28 169.65,335.26" stroke="#5a4800" stroke-width="0.35" fill="none" opacity="0.6"/>
<rect x="162.5" y="278" width="2.6" height="62" fill="#40ec30" />
<path d="M126.8,277.9 C128,290 128.6,320 129,345 L126.8,346 Z" fill="#1428c8"/>
<path d="M128.4,280 C129.6,295 130,320 130.3,340 L129,345 C128.6,320 128,295 127.6,280 Z" fill="#40a8f4"/>
<path d="M126.8,346 L129,345 C131,348 135,350 145,351 L171.3,352 V362.6 H126.8 Z" fill="#30e848"/>
<path d="M130.6,280 C131,310 131,325 131.4,335 C132.5,346 136,349.5 145,350.8 L171.3,352" stroke="#f0fff0" stroke-width="0.8" fill="none" />
<path d="M167.9,208 C166,222 163.5,235 161.5,250 C160,262 158,271 150,276 C143,279.5 135,281 127,282.5" stroke="#0f3030" stroke-width="0.55" fill="none" />
<path d="M169.5,278.5 C167.5,281.5 166.5,283 163,283.5 C155,283.5 145,283.7 135,284 C131,284.2 129,284.6 126.8,285.2" stroke="#0f3030" stroke-width="0.5" fill="none" />
<path d="M169.5,282.6 C167.5,285.6 166.5,287.1 163,287.6 C155,287.6 145,288.1 135,288.4 C131,288.6 129,289 126.8,289.6" stroke="#0f3030" stroke-width="0.5" fill="none" />
<path d="M169.5,286.7 C167.5,289.7 166.5,291.2 163,291.7 C155,291.7 145,292.5 135,292.8 C131,293 129,293.4 126.8,294" stroke="#0f3030" stroke-width="0.5" fill="none" />
<path d="M169.5,290.8 C167.5,293.8 166.5,295.3 163,295.8 C155,295.8 145,296.9 135,297.2 C131,297.4 129,297.8 126.8,298.4" stroke="#0f3030" stroke-width="0.5" fill="none" />
<path d="M169.5,294.9 C167.5,297.9 166.5,299.4 163,299.9 C155,299.9 145,301.3 135,301.6 C131,301.8 129,302.2 126.8,302.8" stroke="#0f3030" stroke-width="0.5" fill="none" />
<path d="M169.5,299 C167.5,302 166.5,303.5 163,304 C155,304 145,305.7 135,306 C131,306.2 129,306.6 126.8,307.2" stroke="#0f3030" stroke-width="0.5" fill="none" />
<path d="M169.5,303.1 C167.5,306.1 166.5,307.6 163,308.1 C155,308.1 145,310.1 135,310.4 C131,310.6 129,311 126.8,311.6" stroke="#0f3030" stroke-width="0.5" fill="none" />
<path d="M169.5,307.2 C167.5,310.2 166.5,311.7 163,312.2 C155,312.2 145,314.5 135,314.8 C131,315 129,315.4 126.8,316" stroke="#0f3030" stroke-width="0.5" fill="none" />
<path d="M169.5,311.3 C167.5,314.3 166.5,315.8 163,316.3 C155,316.3 145,318.9 135,319.2 C131,319.4 129,319.8 126.8,320.4" stroke="#0f3030" stroke-width="0.5" fill="none" />
<path d="M169.5,315.4 C167.5,318.4 166.5,319.9 163,320.4 C155,320.4 145,323.3 135,323.6 C131,323.8 129,324.2 126.8,324.8" stroke="#0f3030" stroke-width="0.5" fill="none" />
<path d="M169.5,319.5 C167.5,322.5 166.5,324 163,324.5 C155,324.5 145,327.7 135,328 C131,328.2 129,328.6 126.8,329.2" stroke="#0f3030" stroke-width="0.5" fill="none" />
<path d="M169.5,323.6 C167.5,326.6 166.5,328.1 163,328.6 C155,328.6 145,332.1 135,332.4 C131,332.6 129,333 126.8,333.6" stroke="#0f3030" stroke-width="0.5" fill="none" />
<path d="M169.5,327.7 C167.5,330.7 166.5,332.2 163,332.7 C155,332.7 145,336.5 135,336.8 C131,337 129,337.4 126.8,338" stroke="#0f3030" stroke-width="0.5" fill="none" />
<path d="M169.5,331.8 C167.5,334.8 166.5,336.3 163,336.8 C155,336.8 145,340.9 135,341.2 C131,341.4 129,341.8 126.8,342.4" stroke="#0f3030" stroke-width="0.5" fill="none" />
<path d="M126.8,338 C130,340 134,351 135,362.8" stroke="#102a10" stroke-width="0.5" fill="none" />
<path d="M126.8,339.2 C130.3,341.2 135.6,351.3 137.2,362.8" stroke="#102a10" stroke-width="0.5" fill="none" />
<path d="M126.8,340.4 C130.6,342.4 137.2,351.6 139.4,362.8" stroke="#102a10" stroke-width="0.5" fill="none" />
<path d="M126.8,341.6 C130.9,343.6 138.8,351.9 141.6,362.8" stroke="#102a10" stroke-width="0.5" fill="none" />
<path d="M126.8,342.8 C131.2,344.8 140.4,352.2 143.8,362.8" stroke="#102a10" stroke-width="0.5" fill="none" />
<path d="M126.8,344 C131.5,346 142,352.5 146,362.8" stroke="#102a10" stroke-width="0.5" fill="none" />
<path d="M126.8,345.2 C131.8,347.2 143.6,352.8 148.2,362.8" stroke="#102a10" stroke-width="0.5" fill="none" />
<path d="M126.8,346.4 C132.1,348.4 145.2,353.1 150.4,362.8" stroke="#102a10" stroke-width="0.5" fill="none" />
<path d="M126.8,347.6 C132.4,349.6 146.8,353.4 152.6,362.8" stroke="#102a10" stroke-width="0.5" fill="none" />
<path d="M126.8,348.8 C132.7,350.8 148.4,353.7 154.8,362.8" stroke="#102a10" stroke-width="0.5" fill="none" />
<path d="M126.8,350 C133,352 150,354 157,362.8" stroke="#102a10" stroke-width="0.5" fill="none" />
<path d="M126.8,351.2 C133.3,353.2 151.6,354.3 159.2,362.8" stroke="#102a10" stroke-width="0.5" fill="none" />
<path d="M126.8,352.4 C133.6,354.4 153.2,354.6 161.4,362.8" stroke="#102a10" stroke-width="0.5" fill="none" />
</g>
<path d="M131.2,200.1 H149.3 V207.4 L155.6,210.1 L148.8,209.5 L131.2,207.5 Z" fill="#2a1200"/>
<path d="M131.4,202.5 C133.8,202.1 136.8,202.4 139.8,203.1 C141.8,203.7 143.3,204.5 144.6,205.7 C145.8,206.7 146.8,207.5 147.8,208.5 L144.8,208.5 C139.8,207.7 135.8,207.3 131.4,207.1 Z" fill="#f0a000"/>
<path d="M132.8,204.7 C135.8,203.9 138.8,204.5 142.3,204.7 M135.8,206.1 C138.8,205.5 141.8,206.3 145.3,206.9" stroke="#5a2800" stroke-width="0.7" fill="none"/>
<path d="M131.2,200.4 H137.3 C135.8,201.5 133.8,202.1 131.2,202.3 Z" fill="#40c4f0"/>
<path d="M131.2,207.3 C136.8,207.6 142.8,208.3 148.8,209.3 L155.6,210.1" stroke="#f8e010" stroke-width="0.6" fill="none"/>
<rect x="126.8" y="200.1" width="4.4" height="9.3" fill="#0c18e6" />
<line x1="131.4" y1="200.1" x2="131.4" y2="209.4" stroke="#101040" stroke-width="0.7"/>
<line x1="126.8" y1="209.5" x2="131.4" y2="209.5" stroke="#301030" stroke-width="0.5"/>
<rect x="126.8" y="199.7" width="22.5" height="1" fill="#e020e8" />
<path d="M149.3,200.1 V207.4 H171.3" stroke="#200818" stroke-width="0.9" fill="none"/>
<line x1="150.3" y1="207.2" x2="171.3" y2="207.2" stroke="#e040e0" stroke-width="0.5"/>
<line x1="126.4" y1="199.7" x2="126.4" y2="366.1" stroke="#2a1030" stroke-width="0.8"/>
<line x1="171.3" y1="207.4" x2="171.3" y2="362.3" stroke="#401838" stroke-width="0.5" opacity="0.7"/>
<line x1="126.4" y1="362.6" x2="171.6" y2="362.6" stroke="#9a509a" stroke-width="0.9"/>
<line x1="123.2" y1="200.5" x2="126.4" y2="200.5" stroke="#181818" stroke-width="0.8"/>
<line x1="124.6" y1="208.22" x2="126.4" y2="208.22" stroke="#181818" stroke-width="0.8"/>
<line x1="124.6" y1="215.94" x2="126.4" y2="215.94" stroke="#181818" stroke-width="0.8"/>
<line x1="124.6" y1="223.66" x2="126.4" y2="223.66" stroke="#181818" stroke-width="0.8"/>
<line x1="124.6" y1="231.38" x2="126.4" y2="231.38" stroke="#181818" stroke-width="0.8"/>
<line x1="123.2" y1="239.1" x2="126.4" y2="239.1" stroke="#181818" stroke-width="0.8"/>
<line x1="124.6" y1="246.82" x2="126.4" y2="246.82" stroke="#181818" stroke-width="0.8"/>
<line x1="124.6" y1="254.54" x2="126.4" y2="254.54" stroke="#181818" stroke-width="0.8"/>
<line x1="124.6" y1="262.26" x2="126.4" y2="262.26" stroke="#181818" stroke-width="0.8"/>
<line x1="124.6" y1="269.98" x2="126.4" y2="269.98" stroke="#181818" stroke-width="0.8"/>
<line x1="123.2" y1="277.7" x2="126.4" y2="277.7" stroke="#181818" stroke-width="0.8"/>
<line x1="124.6" y1="285.42" x2="126.4" y2="285.42" stroke="#181818" stroke-width="0.8"/>
<line x1="124.6" y1="293.14" x2="126.4" y2="293.14" stroke="#181818" stroke-width="0.8"/>
<line x1="124.6" y1="300.86" x2="126.4" y2="300.86" stroke="#181818" stroke-width="0.8"/>
<line x1="124.6" y1="308.58" x2="126.4" y2="308.58" stroke="#181818" stroke-width="0.8"/>
<line x1="123.2" y1="316.3" x2="126.4" y2="316.3" stroke="#181818" stroke-width="0.8"/>
<line x1="124.6" y1="324.02" x2="126.4" y2="324.02" stroke="#181818" stroke-width="0.8"/>
<line x1="124.6" y1="331.74" x2="126.4" y2="331.74" stroke="#181818" stroke-width="0.8"/>
<line x1="124.6" y1="339.46" x2="126.4" y2="339.46" stroke="#181818" stroke-width="0.8"/>
<line x1="124.6" y1="347.18" x2="126.4" y2="347.18" stroke="#181818" stroke-width="0.8"/>
<line x1="123.2" y1="354.9" x2="126.4" y2="354.9" stroke="#181818" stroke-width="0.8"/>
<line x1="124.6" y1="362.62" x2="126.4" y2="362.62" stroke="#181818" stroke-width="0.8"/>
<line x1="127.1" y1="362.6" x2="127.1" y2="365.2" stroke="#181818" stroke-width="0.8"/>
<line x1="138.03" y1="362.6" x2="138.03" y2="364.2" stroke="#181818" stroke-width="0.8"/>
<line x1="148.95" y1="362.6" x2="148.95" y2="365.2" stroke="#181818" stroke-width="0.8"/>
<line x1="159.88" y1="362.6" x2="159.88" y2="364.2" stroke="#181818" stroke-width="0.8"/>
<line x1="170.8" y1="362.6" x2="170.8" y2="365.2" stroke="#181818" stroke-width="0.8"/>
<text transform="translate(129,377.2) scale(0.9,1)" class="tk" text-anchor="middle">0</text>
<text transform="translate(150.3,377.2) scale(0.9,1)" class="tk" text-anchor="middle">2</text>
<text transform="translate(170.1,377.2) scale(0.9,1)" class="tk" text-anchor="middle">4</text>
<rect x="140.8" y="311.1" width="18.4" height="12" fill="#fff" rx="0.5"/>
<text x="145.4" y="320.4" class="lt">t</text>
<text x="148.4" y="322.1" class="ls">b3</text>
<g clip-path="url(#cb4)">
<rect x="179" y="200.1" width="45" height="162.2" fill="#0aeef6" />
<path d="M179,212 C188,214 196,222 200,240 C203,260 205,285 205,300 C200,305 190,310 179,312 Z" fill="#0adcfc" opacity="0.9"/>
<path d="M204,207.5 H216 V300 C212,290 210,260 208,240 C207,225 206,215 204,207.5 Z" fill="#10eee0" opacity="0.6"/>
<path d="M214.5,207.5 H224 V350 H214.5 Z" fill="url(#b4R)"/>
<path d="M218.3,272 L222,270 H224 V332 L221,322 C219.5,310 218,298 217.2,290 Z" fill="url(#b4W)"/>
<path d="M220,273 C219,288 219.8,305 220.6,316" stroke="#e8dc00" stroke-width="0.45" fill="none" opacity="0.8"/>
<path d="M221.1,273 C220.1,288 220.9,305 221.7,318" stroke="#e8dc00" stroke-width="0.45" fill="none" opacity="0.8"/>
<path d="M222.2,273 C221.2,288 222,305 222.8,320" stroke="#e8dc00" stroke-width="0.45" fill="none" opacity="0.8"/>
<path d="M218.3,272 C217.4,280 217.2,286 217.4,292 C218.5,305 219.8,315 221.2,323" stroke="#f0e800" stroke-width="1.0" fill="none" />
<path d="M179,341 C192,344 205,348 224,351 V362.6 H179 Z" fill="url(#b4B)"/>
<path d="M205,350 C212,351 218,351 224,351 V362.6 H208 Z" fill="#20c8e0" opacity="0.8"/>
<path d="M217.5,286 C200,286 184,288 181.5,300 C180.5,303 179.5,306 179,307" stroke="#0f3030" stroke-width="0.55" fill="none" />
<path d="M217.5,295 C200,295 184,297 181.5,307 C180.5,310 179.5,313 179,314" stroke="#0f3030" stroke-width="0.55" fill="none" />
<path d="M217.5,299.5 C200,299.5 184,301.5 181.5,314 C180.5,317 179.5,320 179,321" stroke="#0f3030" stroke-width="0.55" fill="none" />
<path d="M217.5,303 C200,303 184,305 181.5,321 C180.5,324 179.5,327 179,328" stroke="#0f3030" stroke-width="0.55" fill="none" />
<path d="M217.5,305.5 C197.75,305.5 182,319.62 182,339.4 C182,352 180.5,358 180,362.8" stroke="#0f3030" stroke-width="0.5" fill="none" />
<path d="M217.5,307.5 C199.18,307.5 184.6,321.12 184.6,340.2 C184.6,352 183.1,358 182.6,362.8" stroke="#0f3030" stroke-width="0.5" fill="none" />
<path d="M217.5,309.5 C200.61,309.5 187.2,322.62 187.2,341 C187.2,352 185.7,358 185.2,362.8" stroke="#0f3030" stroke-width="0.5" fill="none" />
<path d="M217.5,311.3 C202.04,311.3 189.8,323.98 189.8,341.72 C189.8,352 188.3,358 187.8,362.8" stroke="#0f3030" stroke-width="0.5" fill="none" />
<path d="M217.5,313 C203.47,313 192.4,325.25 192.4,342.4 C192.4,352 190.9,358 190.4,362.8" stroke="#0f3030" stroke-width="0.5" fill="none" />
<path d="M217.5,314.7 C204.9,314.7 195,326.52 195,343.08 C195,352 193.5,358 193,362.8" stroke="#0f3030" stroke-width="0.5" fill="none" />
<path d="M217.5,316.3 C206.33,316.3 197.6,327.73 197.6,343.72 C197.6,352 196.1,358 195.6,362.8" stroke="#0f3030" stroke-width="0.5" fill="none" />
<path d="M217.5,318 C207.76,318 200.2,329 200.2,344.4 C200.2,352 198.7,358 198.2,362.8" stroke="#0f3030" stroke-width="0.5" fill="none" />
<path d="M217.5,319.6 C209.19,319.6 202.8,330.2 202.8,345.04 C202.8,352 201.3,358 200.8,362.8" stroke="#0f3030" stroke-width="0.5" fill="none" />
<path d="M217.5,321.2 C210.62,321.2 205.4,331.4 205.4,345.68 C205.4,352 203.9,358 203.4,362.8" stroke="#0f3030" stroke-width="0.5" fill="none" />
<path d="M217.5,322.8 C212.05,322.8 208,332.6 208,346.32 C208,352 206.5,358 206,362.8" stroke="#0f3030" stroke-width="0.5" fill="none" />
<path d="M217.5,324.4 C213.48,324.4 210.6,333.8 210.6,346.96 C210.6,352 209.1,358 208.6,362.8" stroke="#0f3030" stroke-width="0.5" fill="none" />
<path d="M217.5,326 C214.91,326 213.2,335 213.2,347.6 C213.2,352 211.7,358 211.2,362.8" stroke="#0f3030" stroke-width="0.5" fill="none" />
<path d="M179.5,334 C180.5,345 180.5,355 180,362.8" stroke="#0f3030" stroke-width="0.45" fill="none" />
<path d="M180.5,339 C181.5,348 181.5,355 181,362.8" stroke="#0f3030" stroke-width="0.45" fill="none" />
<path d="M181.5,344 C182.5,351 182.5,355 182,362.8" stroke="#0f3030" stroke-width="0.45" fill="none" />
<path d="M182.5,349 C183.5,354 183.5,355 183,362.8" stroke="#0f3030" stroke-width="0.45" fill="none" />
<path d="M179,342.5 C192,345.5 205,349 224,351" stroke="#f0fff8" stroke-width="0.9" fill="none" stroke-dasharray="3,1"/>
</g>
<path d="M183.4,200.1 H201.5 V207.4 L207.8,210.1 L201,209.5 L183.4,207.5 Z" fill="#2a1200"/>
<path d="M183.6,202.5 C186,202.1 189,202.4 192,203.1 C194,203.7 195.5,204.5 196.8,205.7 C198,206.7 199,207.5 200,208.5 L197,208.5 C192,207.7 188,207.3 183.6,207.1 Z" fill="#f0a000"/>
<path d="M185,204.7 C188,203.9 191,204.5 194.5,204.7 M188,206.1 C191,205.5 194,206.3 197.5,206.9" stroke="#5a2800" stroke-width="0.7" fill="none"/>
<path d="M183.4,200.4 H189.5 C188,201.5 186,202.1 183.4,202.3 Z" fill="#40c4f0"/>
<path d="M183.4,207.3 C189,207.6 195,208.3 201,209.3 L207.8,210.1" stroke="#f8e010" stroke-width="0.6" fill="none"/>
<rect x="179" y="200.1" width="4.4" height="9.3" fill="#0c18e6" />
<line x1="183.6" y1="200.1" x2="183.6" y2="209.4" stroke="#101040" stroke-width="0.7"/>
<line x1="179" y1="209.5" x2="183.6" y2="209.5" stroke="#301030" stroke-width="0.5"/>
<rect x="179" y="199.7" width="22.5" height="1" fill="#e020e8" />
<path d="M201.5,200.1 V207.4 H224" stroke="#200818" stroke-width="0.9" fill="none"/>
<line x1="202.5" y1="207.2" x2="224" y2="207.2" stroke="#e040e0" stroke-width="0.5"/>
<line x1="178.6" y1="199.7" x2="178.6" y2="366.1" stroke="#2a1030" stroke-width="0.8"/>
<line x1="224" y1="207.4" x2="224" y2="362.3" stroke="#401838" stroke-width="0.5" opacity="0.7"/>
<line x1="178.6" y1="362.6" x2="224.3" y2="362.6" stroke="#9a509a" stroke-width="0.9"/>
<line x1="175.4" y1="200.5" x2="178.6" y2="200.5" stroke="#181818" stroke-width="0.8"/>
<line x1="176.8" y1="208.22" x2="178.6" y2="208.22" stroke="#181818" stroke-width="0.8"/>
<line x1="176.8" y1="215.94" x2="178.6" y2="215.94" stroke="#181818" stroke-width="0.8"/>
<line x1="176.8" y1="223.66" x2="178.6" y2="223.66" stroke="#181818" stroke-width="0.8"/>
<line x1="176.8" y1="231.38" x2="178.6" y2="231.38" stroke="#181818" stroke-width="0.8"/>
<line x1="175.4" y1="239.1" x2="178.6" y2="239.1" stroke="#181818" stroke-width="0.8"/>
<line x1="176.8" y1="246.82" x2="178.6" y2="246.82" stroke="#181818" stroke-width="0.8"/>
<line x1="176.8" y1="254.54" x2="178.6" y2="254.54" stroke="#181818" stroke-width="0.8"/>
<line x1="176.8" y1="262.26" x2="178.6" y2="262.26" stroke="#181818" stroke-width="0.8"/>
<line x1="176.8" y1="269.98" x2="178.6" y2="269.98" stroke="#181818" stroke-width="0.8"/>
<line x1="175.4" y1="277.7" x2="178.6" y2="277.7" stroke="#181818" stroke-width="0.8"/>
<line x1="176.8" y1="285.42" x2="178.6" y2="285.42" stroke="#181818" stroke-width="0.8"/>
<line x1="176.8" y1="293.14" x2="178.6" y2="293.14" stroke="#181818" stroke-width="0.8"/>
<line x1="176.8" y1="300.86" x2="178.6" y2="300.86" stroke="#181818" stroke-width="0.8"/>
<line x1="176.8" y1="308.58" x2="178.6" y2="308.58" stroke="#181818" stroke-width="0.8"/>
<line x1="175.4" y1="316.3" x2="178.6" y2="316.3" stroke="#181818" stroke-width="0.8"/>
<line x1="176.8" y1="324.02" x2="178.6" y2="324.02" stroke="#181818" stroke-width="0.8"/>
<line x1="176.8" y1="331.74" x2="178.6" y2="331.74" stroke="#181818" stroke-width="0.8"/>
<line x1="176.8" y1="339.46" x2="178.6" y2="339.46" stroke="#181818" stroke-width="0.8"/>
<line x1="176.8" y1="347.18" x2="178.6" y2="347.18" stroke="#181818" stroke-width="0.8"/>
<line x1="175.4" y1="354.9" x2="178.6" y2="354.9" stroke="#181818" stroke-width="0.8"/>
<line x1="176.8" y1="362.62" x2="178.6" y2="362.62" stroke="#181818" stroke-width="0.8"/>
<line x1="179.3" y1="362.6" x2="179.3" y2="365.2" stroke="#181818" stroke-width="0.8"/>
<line x1="190.35" y1="362.6" x2="190.35" y2="364.2" stroke="#181818" stroke-width="0.8"/>
<line x1="201.4" y1="362.6" x2="201.4" y2="365.2" stroke="#181818" stroke-width="0.8"/>
<line x1="212.45" y1="362.6" x2="212.45" y2="364.2" stroke="#181818" stroke-width="0.8"/>
<line x1="223.5" y1="362.6" x2="223.5" y2="365.2" stroke="#181818" stroke-width="0.8"/>
<text transform="translate(181.2,377.2) scale(0.9,1)" class="tk" text-anchor="middle">0</text>
<text transform="translate(202.5,377.2) scale(0.9,1)" class="tk" text-anchor="middle">2</text>
<text transform="translate(222.8,377.2) scale(0.9,1)" class="tk" text-anchor="middle">4</text>
<rect x="193" y="311.1" width="18.4" height="12" fill="#fff" rx="0.5"/>
<text x="197.6" y="320.4" class="lt">t</text>
<text x="200.6" y="322.1" class="ls">b4</text>
<g clip-path="url(#cb5)">
<rect x="232.8" y="200.1" width="45" height="162.2" fill="url(#b5H)" />
<rect x="271" y="207.5" width="6.8" height="145" fill="url(#b5R)" />
<path d="M272,278 L275,274 L277.8,277 V289 L275,285 Z" fill="#e0d000"/>
<path d="M273,280 L276,277 L276.5,283 Z" fill="#403000"/>
<path d="M243.2,208 C242.7,225 242.2,240 241.7,250 C240.2,268 236.6,285 235.6,300 V352" stroke="#e8fff8" stroke-width="0.6" fill="none" opacity="0.5" transform="translate(1.0,0)"/>
<path d="M243.2,208 C242.7,225 242.2,240 241.7,250 C240.2,268 236.6,285 235.6,300 V352" stroke="#0f3a3a" stroke-width="0.5" fill="none" />
<path d="M256.6,208 C256.1,225 251,240 250.5,250 C249,268 238.85,285 237.85,300 V352" stroke="#e8fff8" stroke-width="0.6" fill="none" opacity="0.5" transform="translate(1.0,0)"/>
<path d="M256.6,208 C256.1,225 251,240 250.5,250 C249,268 238.85,285 237.85,300 V352" stroke="#0f3a3a" stroke-width="0.5" fill="none" />
<path d="M267.8,208 C267.3,225 261.2,240 260.7,250 C259.2,268 241.1,285 240.1,300 V352" stroke="#e8fff8" stroke-width="0.6" fill="none" opacity="0.5" transform="translate(1.0,0)"/>
<path d="M267.8,208 C267.3,225 261.2,240 260.7,250 C259.2,268 241.1,285 240.1,300 V352" stroke="#0f3a3a" stroke-width="0.5" fill="none" />
<path d="M272.5,224 C268.88,253.73 255.92,276.03 242.35,298.33 V352" stroke="#e8fff8" stroke-width="0.6" fill="none" opacity="0.5" transform="translate(1.0,0)"/>
<path d="M272.5,224 C268.88,253.73 255.92,276.03 242.35,298.33 V352" stroke="#0f3a3a" stroke-width="0.5" fill="none" />
<path d="M272.5,231.78 C269.15,259.53 257.15,280.35 244.6,301.16 V352" stroke="#e8fff8" stroke-width="0.6" fill="none" opacity="0.5" transform="translate(1.0,0)"/>
<path d="M272.5,231.78 C269.15,259.53 257.15,280.35 244.6,301.16 V352" stroke="#0f3a3a" stroke-width="0.5" fill="none" />
<path d="M272.5,239.06 C269.42,264.83 258.39,284.16 246.85,303.49 V352" stroke="#e8fff8" stroke-width="0.6" fill="none" opacity="0.5" transform="translate(1.0,0)"/>
<path d="M272.5,239.06 C269.42,264.83 258.39,284.16 246.85,303.49 V352" stroke="#0f3a3a" stroke-width="0.5" fill="none" />
<path d="M272.5,245.83 C269.69,269.62 259.63,287.47 249.1,305.31 V352" stroke="#e8fff8" stroke-width="0.6" fill="none" opacity="0.5" transform="translate(1.0,0)"/>
<path d="M272.5,245.83 C269.69,269.62 259.63,287.47 249.1,305.31 V352" stroke="#0f3a3a" stroke-width="0.5" fill="none" />
<path d="M272.5,252.08 C269.96,273.89 260.87,290.25 251.35,306.61 V352" stroke="#e8fff8" stroke-width="0.6" fill="none" opacity="0.5" transform="translate(1.0,0)"/>
<path d="M272.5,252.08 C269.96,273.89 260.87,290.25 251.35,306.61 V352" stroke="#0f3a3a" stroke-width="0.5" fill="none" />
<path d="M272.5,257.8 C270.23,277.63 262.11,292.5 253.6,307.38 V352" stroke="#e8fff8" stroke-width="0.6" fill="none" opacity="0.5" transform="translate(1.0,0)"/>
<path d="M272.5,257.8 C270.23,277.63 262.11,292.5 253.6,307.38 V352" stroke="#0f3a3a" stroke-width="0.5" fill="none" />
<path d="M272.5,262.97 C270.5,280.82 263.34,294.21 255.85,307.6 V352" stroke="#e8fff8" stroke-width="0.6" fill="none" opacity="0.5" transform="translate(1.0,0)"/>
<path d="M272.5,262.97 C270.5,280.82 263.34,294.21 255.85,307.6 V352" stroke="#0f3a3a" stroke-width="0.5" fill="none" />
<path d="M272.5,267.58 C270.77,283.45 264.58,295.35 258.1,307.26 V352" stroke="#e8fff8" stroke-width="0.6" fill="none" opacity="0.5" transform="translate(1.0,0)"/>
<path d="M272.5,267.58 C270.77,283.45 264.58,295.35 258.1,307.26 V352" stroke="#0f3a3a" stroke-width="0.5" fill="none" />
<path d="M272.5,271.61 C271.04,285.51 265.82,295.92 260.35,306.34 V352" stroke="#e8fff8" stroke-width="0.6" fill="none" opacity="0.5" transform="translate(1.0,0)"/>
<path d="M272.5,271.61 C271.04,285.51 265.82,295.92 260.35,306.34 V352" stroke="#0f3a3a" stroke-width="0.5" fill="none" />
<path d="M272.5,275.05 C271.31,286.96 267.06,295.9 262.6,304.83 V352" stroke="#e8fff8" stroke-width="0.6" fill="none" opacity="0.5" transform="translate(1.0,0)"/>
<path d="M272.5,275.05 C271.31,286.96 267.06,295.9 262.6,304.83 V352" stroke="#0f3a3a" stroke-width="0.5" fill="none" />
<path d="M272.5,277.86 C271.58,287.79 268.29,295.24 264.85,302.69 V352" stroke="#e8fff8" stroke-width="0.6" fill="none" opacity="0.5" transform="translate(1.0,0)"/>
<path d="M272.5,277.86 C271.58,287.79 268.29,295.24 264.85,302.69 V352" stroke="#0f3a3a" stroke-width="0.5" fill="none" />
<path d="M272.5,280 C271.85,287.96 269.53,293.92 267.1,299.88 V352" stroke="#e8fff8" stroke-width="0.6" fill="none" opacity="0.5" transform="translate(1.0,0)"/>
<path d="M272.5,280 C271.85,287.96 269.53,293.92 267.1,299.88 V352" stroke="#0f3a3a" stroke-width="0.5" fill="none" />
<path d="M272.5,281.43 C272.12,287.4 270.77,291.88 269.35,296.36 V352" stroke="#e8fff8" stroke-width="0.6" fill="none" opacity="0.5" transform="translate(1.0,0)"/>
<path d="M272.5,281.43 C272.12,287.4 270.77,291.88 269.35,296.36 V352" stroke="#0f3a3a" stroke-width="0.5" fill="none" />
<path d="M272.5,282 C272.39,285.99 272,288.99 271.6,291.98 V352" stroke="#e8fff8" stroke-width="0.6" fill="none" opacity="0.5" transform="translate(1.0,0)"/>
<path d="M272.5,282 C272.39,285.99 272,288.99 271.6,291.98 V352" stroke="#0f3a3a" stroke-width="0.5" fill="none" />
<path d="M232.8,351.5 L277.8,353.2 V362.6 H232.8 Z" fill="#1448e8"/>
<path d="M232.8,350.6 L277.8,352.3 L277.8,353.5 L232.8,351.8 Z" fill="#50b0f8"/>
<rect x="232.8" y="359.5" width="45" height="3.1" fill="#0c38d8" />
<line x1="235.6" y1="352" x2="235.6" y2="362.5" stroke="#0a2a90" stroke-width="0.4" opacity="0.6"/>
<line x1="237.85" y1="352" x2="237.85" y2="362.5" stroke="#0a2a90" stroke-width="0.4" opacity="0.6"/>
<line x1="240.1" y1="352" x2="240.1" y2="362.5" stroke="#0a2a90" stroke-width="0.4" opacity="0.6"/>
<line x1="242.35" y1="352" x2="242.35" y2="362.5" stroke="#0a2a90" stroke-width="0.4" opacity="0.6"/>
<line x1="244.6" y1="352" x2="244.6" y2="362.5" stroke="#0a2a90" stroke-width="0.4" opacity="0.6"/>
<line x1="246.85" y1="352" x2="246.85" y2="362.5" stroke="#0a2a90" stroke-width="0.4" opacity="0.6"/>
<line x1="249.1" y1="352" x2="249.1" y2="362.5" stroke="#0a2a90" stroke-width="0.4" opacity="0.6"/>
<line x1="251.35" y1="352" x2="251.35" y2="362.5" stroke="#0a2a90" stroke-width="0.4" opacity="0.6"/>
<line x1="253.6" y1="352" x2="253.6" y2="362.5" stroke="#0a2a90" stroke-width="0.4" opacity="0.6"/>
<line x1="255.85" y1="352" x2="255.85" y2="362.5" stroke="#0a2a90" stroke-width="0.4" opacity="0.6"/>
<line x1="258.1" y1="352" x2="258.1" y2="362.5" stroke="#0a2a90" stroke-width="0.4" opacity="0.6"/>
<line x1="260.35" y1="352" x2="260.35" y2="362.5" stroke="#0a2a90" stroke-width="0.4" opacity="0.6"/>
<line x1="262.6" y1="352" x2="262.6" y2="362.5" stroke="#0a2a90" stroke-width="0.4" opacity="0.6"/>
<line x1="264.85" y1="352" x2="264.85" y2="362.5" stroke="#0a2a90" stroke-width="0.4" opacity="0.6"/>
<line x1="267.1" y1="352" x2="267.1" y2="362.5" stroke="#0a2a90" stroke-width="0.4" opacity="0.6"/>
<line x1="269.35" y1="352" x2="269.35" y2="362.5" stroke="#0a2a90" stroke-width="0.4" opacity="0.6"/>
<line x1="271.6" y1="352" x2="271.6" y2="362.5" stroke="#0a2a90" stroke-width="0.4" opacity="0.6"/>
</g>
<path d="M237.2,200.1 H255.3 V207.4 L261.6,210.1 L254.8,209.5 L237.2,207.5 Z" fill="#2a1200"/>
<path d="M237.4,202.5 C239.8,202.1 242.8,202.4 245.8,203.1 C247.8,203.7 249.3,204.5 250.6,205.7 C251.8,206.7 252.8,207.5 253.8,208.5 L250.8,208.5 C245.8,207.7 241.8,207.3 237.4,207.1 Z" fill="#f0a000"/>
<path d="M238.8,204.7 C241.8,203.9 244.8,204.5 248.3,204.7 M241.8,206.1 C244.8,205.5 247.8,206.3 251.3,206.9" stroke="#5a2800" stroke-width="0.7" fill="none"/>
<path d="M237.2,200.4 H243.3 C241.8,201.5 239.8,202.1 237.2,202.3 Z" fill="#40c4f0"/>
<path d="M237.2,207.3 C242.8,207.6 248.8,208.3 254.8,209.3 L261.6,210.1" stroke="#f8e010" stroke-width="0.6" fill="none"/>
<rect x="232.8" y="200.1" width="4.4" height="9.3" fill="#0c18e6" />
<line x1="237.4" y1="200.1" x2="237.4" y2="209.4" stroke="#101040" stroke-width="0.7"/>
<line x1="232.8" y1="209.5" x2="237.4" y2="209.5" stroke="#301030" stroke-width="0.5"/>
<rect x="232.8" y="199.7" width="22.5" height="1" fill="#e020e8" />
<path d="M255.3,200.1 V207.4 H277.8" stroke="#200818" stroke-width="0.9" fill="none"/>
<line x1="256.3" y1="207.2" x2="277.8" y2="207.2" stroke="#e040e0" stroke-width="0.5"/>
<line x1="232.4" y1="199.7" x2="232.4" y2="366.1" stroke="#2a1030" stroke-width="0.8"/>
<line x1="277.8" y1="207.4" x2="277.8" y2="362.3" stroke="#401838" stroke-width="0.5" opacity="0.7"/>
<line x1="232.4" y1="362.6" x2="278.1" y2="362.6" stroke="#9a509a" stroke-width="0.9"/>
<line x1="229.2" y1="200.5" x2="232.4" y2="200.5" stroke="#181818" stroke-width="0.8"/>
<line x1="230.6" y1="208.22" x2="232.4" y2="208.22" stroke="#181818" stroke-width="0.8"/>
<line x1="230.6" y1="215.94" x2="232.4" y2="215.94" stroke="#181818" stroke-width="0.8"/>
<line x1="230.6" y1="223.66" x2="232.4" y2="223.66" stroke="#181818" stroke-width="0.8"/>
<line x1="230.6" y1="231.38" x2="232.4" y2="231.38" stroke="#181818" stroke-width="0.8"/>
<line x1="229.2" y1="239.1" x2="232.4" y2="239.1" stroke="#181818" stroke-width="0.8"/>
<line x1="230.6" y1="246.82" x2="232.4" y2="246.82" stroke="#181818" stroke-width="0.8"/>
<line x1="230.6" y1="254.54" x2="232.4" y2="254.54" stroke="#181818" stroke-width="0.8"/>
<line x1="230.6" y1="262.26" x2="232.4" y2="262.26" stroke="#181818" stroke-width="0.8"/>
<line x1="230.6" y1="269.98" x2="232.4" y2="269.98" stroke="#181818" stroke-width="0.8"/>
<line x1="229.2" y1="277.7" x2="232.4" y2="277.7" stroke="#181818" stroke-width="0.8"/>
<line x1="230.6" y1="285.42" x2="232.4" y2="285.42" stroke="#181818" stroke-width="0.8"/>
<line x1="230.6" y1="293.14" x2="232.4" y2="293.14" stroke="#181818" stroke-width="0.8"/>
<line x1="230.6" y1="300.86" x2="232.4" y2="300.86" stroke="#181818" stroke-width="0.8"/>
<line x1="230.6" y1="308.58" x2="232.4" y2="308.58" stroke="#181818" stroke-width="0.8"/>
<line x1="229.2" y1="316.3" x2="232.4" y2="316.3" stroke="#181818" stroke-width="0.8"/>
<line x1="230.6" y1="324.02" x2="232.4" y2="324.02" stroke="#181818" stroke-width="0.8"/>
<line x1="230.6" y1="331.74" x2="232.4" y2="331.74" stroke="#181818" stroke-width="0.8"/>
<line x1="230.6" y1="339.46" x2="232.4" y2="339.46" stroke="#181818" stroke-width="0.8"/>
<line x1="230.6" y1="347.18" x2="232.4" y2="347.18" stroke="#181818" stroke-width="0.8"/>
<line x1="229.2" y1="354.9" x2="232.4" y2="354.9" stroke="#181818" stroke-width="0.8"/>
<line x1="230.6" y1="362.62" x2="232.4" y2="362.62" stroke="#181818" stroke-width="0.8"/>
<line x1="233.1" y1="362.6" x2="233.1" y2="365.2" stroke="#181818" stroke-width="0.8"/>
<line x1="244.15" y1="362.6" x2="244.15" y2="364.2" stroke="#181818" stroke-width="0.8"/>
<line x1="255.2" y1="362.6" x2="255.2" y2="365.2" stroke="#181818" stroke-width="0.8"/>
<line x1="266.25" y1="362.6" x2="266.25" y2="364.2" stroke="#181818" stroke-width="0.8"/>
<line x1="277.3" y1="362.6" x2="277.3" y2="365.2" stroke="#181818" stroke-width="0.8"/>
<text transform="translate(235,377.2) scale(0.9,1)" class="tk" text-anchor="middle">0</text>
<text transform="translate(256.3,377.2) scale(0.9,1)" class="tk" text-anchor="middle">2</text>
<text transform="translate(276.6,377.2) scale(0.9,1)" class="tk" text-anchor="middle">4</text>
<rect x="246.8" y="311.1" width="18.4" height="12" fill="#fff" rx="0.5"/>
<text x="251.4" y="320.4" class="lt">t</text>
<text x="254.4" y="322.1" class="ls">b5</text>
<g clip-path="url(#cb6)">
<rect x="287.2" y="200.1" width="45.8" height="162.2" fill="#12eccc" />
<path d="M287.2,225 C300,235 306,270 306,300 C305,320 300,330 287.2,332 Z" fill="#10ecec"/>
<rect x="320" y="207.5" width="13" height="145" fill="url(#b6R)" />
<path d="M287.2,346 C300,348 315,349.5 333,350 V352.5 H287.2 Z" fill="#30f0f4" opacity="0.8"/>
<rect x="287.2" y="352.2" width="45.8" height="1.2" fill="#50b8f8" />
<rect x="287.2" y="353.4" width="45.8" height="9.2" fill="#1448e8" />
<rect x="287.2" y="359.5" width="45.8" height="3.1" fill="#0c38d8" />
<path d="M305,208 C300,210 299,215 299,225 V362.5" stroke="#0f3030" stroke-width="0.55" fill="none" />
<path d="M316,208 C312,210 311,215 311,225 V362.5" stroke="#0f3030" stroke-width="0.55" fill="none" />
<path d="M325,208 C323.8,210 322.8,215 322.8,225 V362.5" stroke="#0f3030" stroke-width="0.55" fill="none" />
</g>
<path d="M291.6,200.1 H309.7 V207.4 L316,210.1 L309.2,209.5 L291.6,207.5 Z" fill="#2a1200"/>
<path d="M291.8,202.5 C294.2,202.1 297.2,202.4 300.2,203.1 C302.2,203.7 303.7,204.5 305,205.7 C306.2,206.7 307.2,207.5 308.2,208.5 L305.2,208.5 C300.2,207.7 296.2,207.3 291.8,207.1 Z" fill="#f0a000"/>
<path d="M293.2,204.7 C296.2,203.9 299.2,204.5 302.7,204.7 M296.2,206.1 C299.2,205.5 302.2,206.3 305.7,206.9" stroke="#5a2800" stroke-width="0.7" fill="none"/>
<path d="M291.6,200.4 H297.7 C296.2,201.5 294.2,202.1 291.6,202.3 Z" fill="#40c4f0"/>
<path d="M291.6,207.3 C297.2,207.6 303.2,208.3 309.2,209.3 L316,210.1" stroke="#f8e010" stroke-width="0.6" fill="none"/>
<rect x="287.2" y="200.1" width="4.4" height="9.3" fill="#0c18e6" />
<line x1="291.8" y1="200.1" x2="291.8" y2="209.4" stroke="#101040" stroke-width="0.7"/>
<line x1="287.2" y1="209.5" x2="291.8" y2="209.5" stroke="#301030" stroke-width="0.5"/>
<rect x="287.2" y="199.7" width="22.5" height="1" fill="#e020e8" />
<path d="M309.7,200.1 V207.4 H333" stroke="#200818" stroke-width="0.9" fill="none"/>
<line x1="310.7" y1="207.2" x2="333" y2="207.2" stroke="#e040e0" stroke-width="0.5"/>
<line x1="286.8" y1="199.7" x2="286.8" y2="366.1" stroke="#2a1030" stroke-width="0.8"/>
<line x1="333" y1="207.4" x2="333" y2="362.3" stroke="#401838" stroke-width="0.5" opacity="0.7"/>
<line x1="286.8" y1="362.6" x2="333.3" y2="362.6" stroke="#9a509a" stroke-width="0.9"/>
<line x1="283.6" y1="200.5" x2="286.8" y2="200.5" stroke="#181818" stroke-width="0.8"/>
<line x1="285" y1="208.22" x2="286.8" y2="208.22" stroke="#181818" stroke-width="0.8"/>
<line x1="285" y1="215.94" x2="286.8" y2="215.94" stroke="#181818" stroke-width="0.8"/>
<line x1="285" y1="223.66" x2="286.8" y2="223.66" stroke="#181818" stroke-width="0.8"/>
<line x1="285" y1="231.38" x2="286.8" y2="231.38" stroke="#181818" stroke-width="0.8"/>
<line x1="283.6" y1="239.1" x2="286.8" y2="239.1" stroke="#181818" stroke-width="0.8"/>
<line x1="285" y1="246.82" x2="286.8" y2="246.82" stroke="#181818" stroke-width="0.8"/>
<line x1="285" y1="254.54" x2="286.8" y2="254.54" stroke="#181818" stroke-width="0.8"/>
<line x1="285" y1="262.26" x2="286.8" y2="262.26" stroke="#181818" stroke-width="0.8"/>
<line x1="285" y1="269.98" x2="286.8" y2="269.98" stroke="#181818" stroke-width="0.8"/>
<line x1="283.6" y1="277.7" x2="286.8" y2="277.7" stroke="#181818" stroke-width="0.8"/>
<line x1="285" y1="285.42" x2="286.8" y2="285.42" stroke="#181818" stroke-width="0.8"/>
<line x1="285" y1="293.14" x2="286.8" y2="293.14" stroke="#181818" stroke-width="0.8"/>
<line x1="285" y1="300.86" x2="286.8" y2="300.86" stroke="#181818" stroke-width="0.8"/>
<line x1="285" y1="308.58" x2="286.8" y2="308.58" stroke="#181818" stroke-width="0.8"/>
<line x1="283.6" y1="316.3" x2="286.8" y2="316.3" stroke="#181818" stroke-width="0.8"/>
<line x1="285" y1="324.02" x2="286.8" y2="324.02" stroke="#181818" stroke-width="0.8"/>
<line x1="285" y1="331.74" x2="286.8" y2="331.74" stroke="#181818" stroke-width="0.8"/>
<line x1="285" y1="339.46" x2="286.8" y2="339.46" stroke="#181818" stroke-width="0.8"/>
<line x1="285" y1="347.18" x2="286.8" y2="347.18" stroke="#181818" stroke-width="0.8"/>
<line x1="283.6" y1="354.9" x2="286.8" y2="354.9" stroke="#181818" stroke-width="0.8"/>
<line x1="285" y1="362.62" x2="286.8" y2="362.62" stroke="#181818" stroke-width="0.8"/>
<line x1="287.5" y1="362.6" x2="287.5" y2="365.2" stroke="#181818" stroke-width="0.8"/>
<line x1="298.75" y1="362.6" x2="298.75" y2="364.2" stroke="#181818" stroke-width="0.8"/>
<line x1="310" y1="362.6" x2="310" y2="365.2" stroke="#181818" stroke-width="0.8"/>
<line x1="321.25" y1="362.6" x2="321.25" y2="364.2" stroke="#181818" stroke-width="0.8"/>
<line x1="332.5" y1="362.6" x2="332.5" y2="365.2" stroke="#181818" stroke-width="0.8"/>
<text transform="translate(289.4,377.2) scale(0.9,1)" class="tk" text-anchor="middle">0</text>
<text transform="translate(310.7,377.2) scale(0.9,1)" class="tk" text-anchor="middle">2</text>
<text transform="translate(331.8,377.2) scale(0.9,1)" class="tk" text-anchor="middle">4</text>
<rect x="301.2" y="311.1" width="18.4" height="12" fill="#fff" rx="0.5"/>
<text x="305.8" y="320.4" class="lt">t</text>
<text x="308.8" y="322.1" class="ls">b6</text>
<text transform="translate(14.4,10.9) scale(0.97,1)" class="tk" text-anchor="end">0</text>
<text transform="translate(14.4,49.5) scale(0.97,1)" class="tk" text-anchor="end">10</text>
<text transform="translate(14.4,88.1) scale(0.97,1)" class="tk" text-anchor="end">20</text>
<text transform="translate(14.4,126.7) scale(0.97,1)" class="tk" text-anchor="end">30</text>
<text transform="translate(14.4,165.3) scale(0.97,1)" class="tk" text-anchor="end">40</text>
<text transform="translate(14.4,205.3) scale(0.97,1)" class="tk" text-anchor="end">0</text>
<text transform="translate(14.4,243.9) scale(0.97,1)" class="tk" text-anchor="end">10</text>
<text transform="translate(14.4,282.5) scale(0.97,1)" class="tk" text-anchor="end">20</text>
<text transform="translate(14.4,321.1) scale(0.97,1)" class="tk" text-anchor="end">30</text>
<text transform="translate(14.4,359.7) scale(0.97,1)" class="tk" text-anchor="end">40</text>
<rect x="287.3" y="118.2" width="7.6" height="48.8" fill="url(#cbar)" />
<text x="297.2" y="123.9" class="cb" textLength="31.4" lengthAdjust="spacingAndGlyphs">4.0E+19</text>
<text x="297.2" y="133.16" class="cb" textLength="31.4" lengthAdjust="spacingAndGlyphs">7.6E+15</text>
<text x="297.2" y="142.42" class="cb" textLength="31.4" lengthAdjust="spacingAndGlyphs">1.4E+12</text>
<text x="297.2" y="151.68" class="cb" textLength="31.4" lengthAdjust="spacingAndGlyphs">2.8E+08</text>
<text x="297.2" y="160.94" class="cb" textLength="31.4" lengthAdjust="spacingAndGlyphs">5.3E+04</text>
<text x="297.2" y="170.2" class="cb" textLength="31.4" lengthAdjust="spacingAndGlyphs">1.0E+01</text>
<text x="286.3" y="112.2" class="ct" textLength="54" lengthAdjust="spacingAndGlyphs">hDensity[cm<tspan dy="-2.5" font-size="5.5">-3</tspan><tspan dy="2.5">]</tspan></text>
<text transform="translate(174.5,193.8) scale(0.9,1)" class="tk" text-anchor="middle">(a)</text>
<text transform="translate(175.2,390.8) scale(0.9,1)" class="tk" text-anchor="middle">(b)</text>
</svg>
</body></html>
